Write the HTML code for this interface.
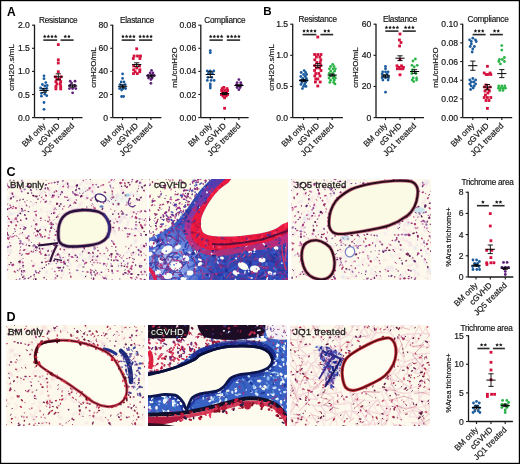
<!DOCTYPE html>
<html><head><meta charset="utf-8"><style>
html,body{margin:0;padding:0;background:#fff;}
svg{display:block;will-change:transform;}
text{font-family:"Liberation Sans", sans-serif;}
.ch text{stroke:#151515;stroke-width:0.18px;}
</style></head><body>
<svg width="520" height="464" viewBox="0 0 520 464">
<rect x="0" y="0" width="520" height="464" fill="#fff"/>
<clipPath id="clc1"><rect x="7" y="179" width="140" height="101"/></clipPath>
<clipPath id="clc2"><rect x="149" y="179" width="139" height="101"/></clipPath>
<clipPath id="clc3"><rect x="291" y="179" width="140" height="101"/></clipPath>
<clipPath id="cld1"><rect x="6" y="325" width="139" height="101"/></clipPath>
<clipPath id="cld2"><rect x="148" y="325" width="139" height="101"/></clipPath>
<clipPath id="cld3"><rect x="290" y="325" width="140" height="101"/></clipPath>
<g clip-path="url(#clc1)">
<rect x="7" y="179" width="140" height="101" fill="#fcf9ec"/>
<path d="M136.4 226.0l-1.0 2.3M69.6 198.3l0.7 2.0M137.1 277.7l-2.4 1.2M81.9 182.7l-1.2 1.7M44.7 226.8l-3.6 0.7M81.1 265.0l-2.7 1.8M51.2 210.8l-3.7 1.4M83.1 250.2l3.1 0.2M8.9 249.8l-1.6 1.7M69.6 262.0l1.1 3.1M65.2 257.0l-0.2 3.6M84.8 187.8l1.6 2.7M25.4 242.7l-1.9 1.1M128.3 221.6l-0.7 3.2M128.7 251.0l-3.0 2.5M86.6 195.6l-0.3 1.8M117.1 258.9l-2.4 1.2M114.1 229.3l0.0 1.7M143.0 247.7l-1.2 0.6M141.9 262.3l-2.5 1.8" stroke="#e6d4ea" stroke-width="2.5" stroke-linecap="round" fill="none" stroke-opacity="0.35"/>
<path d="M20.2 209.6l-1.5 3.3M33.6 203.4l-0.6 1.9M71.0 207.1l1.5 1.3M105.1 276.2l1.2 0.3M50.3 258.9l1.8 1.2M139.4 228.8l-0.4 2.3M91.7 181.8l-1.8 1.3M12.0 194.7l0.9 1.8M145.6 272.6l-0.8 1.2M136.1 240.1l-1.0 0.3M63.8 252.0l1.8 0.6M21.3 233.7l3.3 1.8M20.6 267.4l-0.5 2.2M101.6 254.4l0.4 1.0M78.3 258.6l-1.1 1.0M40.4 236.5l-1.7 0.5M81.6 202.9l-1.6 1.0M71.8 186.7l-0.4 1.1M117.7 194.2l-1.0 3.6M90.1 256.9l0.3 1.7M43.6 199.5l3.1 1.9M12.6 219.7l-2.6 0.7M111.6 227.8l2.3 3.2M56.1 250.9l-3.0 2.1M92.8 185.4l1.3 3.4M7.5 234.2l-2.3 1.4" stroke="#efcfe0" stroke-width="3.0" stroke-linecap="round" fill="none" stroke-opacity="0.35"/>
<path d="M142.1 245.0l3.4 0.7M61.1 186.5l-0.5 1.6M50.5 202.1l-0.6 1.4M46.2 271.7l0.3 1.2M131.7 278.0l0.3 3.8M141.2 248.1l-1.1 1.4M10.3 242.9l-0.4 3.6M37.2 220.0l-2.2 0.0M63.2 184.1l0.7 0.7M136.8 193.0l1.2 3.2M86.4 181.7l0.1 1.4M34.9 226.3l0.4 1.3M143.8 269.4l-0.8 1.7M43.7 246.5l1.0 1.9M11.3 250.4l-1.1 2.7" stroke="#e6d4ea" stroke-width="3.0" stroke-linecap="round" fill="none" stroke-opacity="0.35"/>
<path d="M11.2 235.9l1.2 3.3M51.6 279.9l2.1 0.3M50.4 187.9l0.0 3.1M70.1 198.9l-2.5 1.0M35.7 251.9l-3.7 0.2M131.5 192.4l-1.1 0.6M145.7 270.2l-1.9 3.3M120.3 186.7l1.3 3.6M126.8 233.7l1.6 1.9M14.1 221.1l-0.1 1.2M48.8 257.3l-1.2 3.5M18.8 262.7l0.8 2.1M82.2 251.8l-1.7 3.0M140.8 245.7l1.6 0.3M146.6 246.4l2.9 1.0M21.1 182.3l1.6 2.9M91.2 191.4l2.7 2.5M123.3 197.7l-1.7 1.4M65.8 181.4l0.6 2.8M40.9 267.2l-1.3 0.4M125.0 217.5l1.7 1.1M114.9 231.4l0.1 2.8M28.1 239.1l0.1 2.2M44.0 189.5l-1.8 2.6" stroke="#efcfe0" stroke-width="2.5" stroke-linecap="round" fill="none" stroke-opacity="0.35"/>
<path d="M125.6 179.1l0.4 1.1M58.0 254.1l2.3 2.2M95.6 255.1l-1.2 2.2M9.7 198.0l-1.1 0.7M77.1 193.3l-1.6 2.0" stroke="#e6d4ea" stroke-width="3.5" stroke-linecap="round" fill="none" stroke-opacity="0.35"/>
<path d="M34.8 247.2l-2.0 0.2M118.1 271.4l2.3 0.6M42.8 180.1l-0.2 2.8M79.8 205.6l-2.1 2.6M18.1 201.5l2.0 2.3M57.6 194.5l-1.5 0.8M134.4 271.2l-0.7 2.4" stroke="#f3d6e0" stroke-width="2.0" stroke-linecap="round" fill="none" stroke-opacity="0.35"/>
<path d="M25.8 250.4l2.9 1.8M74.6 186.9l-1.1 0.1M105.2 255.9l1.0 0.9M130.0 183.0l1.8 0.2M35.6 217.7l-1.8 0.3M107.7 268.5l-1.9 0.7" stroke="#efcfe0" stroke-width="2.0" stroke-linecap="round" fill="none" stroke-opacity="0.35"/>
<path d="M7.1 266.3l0.9 0.6M51.8 262.7l-0.7 0.9M121.0 220.0l-2.3 2.1M90.7 254.9l2.6 2.5M34.4 263.6l-0.4 1.0M119.9 229.9l1.0 0.4" stroke="#f3d6e0" stroke-width="3.5" stroke-linecap="round" fill="none" stroke-opacity="0.35"/>
<path d="M12.9 193.8l1.7 2.9M137.8 249.1l3.4 0.9M114.1 212.0l1.6 1.3M57.9 193.1l-0.5 1.7M20.6 261.4l-1.2 1.1M102.8 211.4l-1.9 0.2M90.1 255.7l-2.1 3.4M9.9 211.5l1.3 3.3M58.7 207.9l0.9 1.5" stroke="#dfe0f0" stroke-width="2.5" stroke-linecap="round" fill="none" stroke-opacity="0.35"/>
<path d="M94.1 191.8l0.5 1.3M110.6 218.6l1.7 2.2M139.2 182.1l1.0 2.7M123.3 217.6l-2.8 1.5M12.2 213.5l2.5 0.2M80.5 190.0l3.5 1.5M17.3 270.5l-1.3 1.2M58.3 190.9l-3.7 0.7M110.4 216.2l-0.7 3.4M57.3 238.4l1.4 0.9M129.4 270.4l-1.0 3.0M40.2 236.0l-3.2 1.7M136.0 241.9l-1.5 1.2M50.1 246.8l-2.2 2.0M21.4 213.9l-2.5 0.0M79.6 253.9l2.3 1.9" stroke="#dfe0f0" stroke-width="3.0" stroke-linecap="round" fill="none" stroke-opacity="0.35"/>
<path d="M15.5 196.8l3.8 1.1M106.6 275.0l0.1 1.3M67.1 182.5l0.3 3.7M49.6 193.3l-0.2 1.6M121.9 215.5l2.5 1.7M86.8 198.3l-1.7 0.5M47.0 245.2l3.2 0.3M19.6 224.9l1.6 0.3M114.1 218.8l1.8 0.8M73.0 252.8l2.8 1.8M63.3 271.0l-0.6 3.8M119.2 217.9l-1.1 0.3M99.2 258.1l-1.9 3.0M15.6 220.5l-3.1 0.4M135.7 200.8l-3.5 1.6M88.6 249.8l0.4 1.0M91.8 206.2l1.7 0.0" stroke="#f3d6e0" stroke-width="3.0" stroke-linecap="round" fill="none" stroke-opacity="0.35"/>
<path d="M92.2 187.1l-2.4 2.7M40.2 193.2l1.3 0.5M75.7 248.8l-2.3 0.6M21.7 252.8l-1.8 2.2M64.2 248.1l3.2 0.5M53.8 206.6l-0.5 1.1M18.5 206.3l3.0 0.8M122.5 190.9l-0.2 2.6M99.0 274.0l-2.9 1.3M20.8 259.0l0.4 2.7M135.4 253.5l-3.2 1.2" stroke="#efcfe0" stroke-width="3.5" stroke-linecap="round" fill="none" stroke-opacity="0.35"/>
<path d="M131.8 212.0l-1.9 1.3M130.2 217.8l0.6 1.3M82.2 258.9l3.2 0.2M80.2 264.2l-1.9 1.0M77.4 210.2l-1.8 2.2M74.0 200.3l-1.3 0.6M58.7 245.0l-2.8 1.7M76.3 256.2l0.6 1.3M68.3 260.1l-1.7 0.2M85.8 252.1l2.0 0.7M9.6 212.4l-0.4 2.3M104.6 212.2l0.5 3.6M41.2 209.2l0.4 2.3M77.2 208.8l-2.8 1.1M71.6 273.2l-3.7 0.9M128.2 201.8l2.6 1.2M12.3 192.7l-2.1 0.2" stroke="#f3d6e0" stroke-width="2.5" stroke-linecap="round" fill="none" stroke-opacity="0.35"/>
<path d="M62.1 259.0l-2.4 2.9M79.2 184.3l-3.1 1.6M26.8 248.9l-1.0 0.3M137.1 229.5l-3.2 0.9M117.8 203.0l-1.3 1.9M75.5 255.9l-1.6 1.7M7.5 220.4l0.2 2.7M46.8 250.0l0.2 2.2" stroke="#e6d4ea" stroke-width="2.0" stroke-linecap="round" fill="none" stroke-opacity="0.35"/>
<path d="M74.5 181.5l1.2 0.9M80.3 273.7l2.8 2.7M86.4 276.6l-2.1 1.6M12.2 220.7l2.0 2.9M50.9 224.6l1.0 1.2M116.7 205.2l0.1 2.5M22.8 224.6l0.8 2.8" stroke="#dfe0f0" stroke-width="2.0" stroke-linecap="round" fill="none" stroke-opacity="0.35"/>
<path d="M133.8 234.6l-2.7 0.0M119.8 263.2l-0.2 2.9M119.3 221.6l1.5 0.8M112.4 180.7l1.0 0.4M133.2 194.4l-3.2 0.5M52.4 193.5l-1.5 0.7" stroke="#dfe0f0" stroke-width="3.5" stroke-linecap="round" fill="none" stroke-opacity="0.35"/>
<path d="M48.8 263.7h0M46.3 265.1h0M44.4 267.6h0M42.3 268.4h0M39.8 271.3h0M36.8 272.7h0M34.2 274.4h0M30.9 276.6h0M28.3 278.3h0" stroke="#6a2a70" stroke-width="1.5" stroke-linecap="round" fill="none"/>
<path d="M4.9 180.5l0.5 0.8M16.1 217.8l0.0 1.1M16.4 235.7l0.6 0.8M19.4 253.4l0.9 -0.0M34.2 211.6l0.3 0.0M20.3 249.8l-0.4 1.1M39.4 195.6l0.3 -0.0M42.1 197.2l-0.9 0.4M44.9 229.6l0.9 -0.4M47.6 261.3l0.9 -0.1M58.7 270.7l1.1 -0.2M57.3 182.0l0.3 0.8M56.7 216.6l-0.5 1.0M59.2 214.1l-0.1 0.1M90.7 199.9l0.4 0.1M90.5 272.0l1.1 0.1M103.8 253.7l1.0 -0.0M106.9 248.4l0.5 0.7M111.3 256.5l0.0 0.9M115.6 200.3l0.2 0.4M119.4 256.3l0.7 0.8M125.7 246.8l0.2 0.0M137.2 190.9l0.1 0.7M145.9 234.9l0.8 -0.0M141.4 254.9l0.0 1.0M141.7 265.4l0.0 0.9M143.9 190.8l0.6 0.2M147.1 274.6l0.8 0.7M33.4 265.9l-0.1 0.8M55.2 280.0l0.1 0.2M113.4 241.9l-0.4 0.7M91.8 270.5l0.5 0.0M114.5 179.7l-0.4 0.3M94.8 207.4l0.3 1.2M105.9 265.6l0.6 0.5M36.0 202.6l0.5 0.1M55.6 209.0l0.7 0.4M33.8 275.3l0.6 0.9M12.6 184.4l0.3 1.0M108.3 250.3l-0.9 0.8" stroke="#a6397c" stroke-width="1.0" stroke-linecap="round" fill="none"/>
<path d="M6.9 183.5l0.4 0.7M8.8 186.5l-0.3 0.4M5.3 206.2l-0.1 0.2M5.1 212.8l0.6 0.9M6.6 228.8l-0.3 0.5M26.2 204.9l0.3 0.5M10.5 236.3l-0.8 0.8M21.4 191.2l0.1 0.4M24.8 201.7l0.2 0.5M36.7 250.5l0.2 -0.1M29.5 277.8l0.3 0.0M33.0 195.7l0.9 0.6M51.3 183.0l0.7 -0.2M51.2 222.8l0.3 -0.4M57.1 203.9l0.7 0.1M68.7 256.0l0.3 0.0M57.7 254.3l0.1 0.1M68.6 185.8l0.2 0.3M64.4 263.4l-0.3 0.6M72.7 247.6l-0.1 0.1M100.9 185.8l0.8 -0.4M108.8 182.4l1.0 -0.5M93.4 262.5l1.2 0.1M93.7 278.1l-0.0 0.0M102.6 277.1l0.7 0.5M112.4 193.9l0.1 0.1M113.6 196.9l0.3 0.8M117.7 204.2l0.8 0.3M115.8 246.8l0.2 0.0M112.2 279.8l0.0 0.2M113.4 196.5l0.1 0.1M118.2 204.1l0.5 1.1M127.0 266.9l-0.1 0.5M141.7 274.5l1.0 0.1M141.2 211.1l0.2 -0.0M136.8 277.1l-0.4 0.8M135.8 216.9l-0.7 0.8M96.6 260.2l-1.0 0.0M45.1 258.3l0.1 0.2M68.0 187.4l0.3 0.6M121.6 257.9l0.3 0.4M88.0 189.8l-0.5 0.5M59.5 255.0l-0.3 0.3M57.3 259.4l-0.1 0.4M115.5 259.4l1.1 0.7M54.0 209.6l0.1 0.2M48.4 189.4l-0.5 0.0M106.3 247.3l-0.1 1.1M136.8 224.8l-0.7 0.3M86.8 197.5l0.8 0.7M17.5 221.5l0.4 0.3M55.8 255.8l0.0 0.3M92.3 190.9l0.2 1.0M113.9 222.5l0.5 0.7M131.1 245.3l-0.1 0.4M90.5 273.0l0.5 0.2M108.4 200.4l-0.3 0.1M126.9 204.4l-0.9 0.8M52.0 250.5l0.0 0.2M41.7 253.7l-0.3 0.5M37.1 224.6l-0.6 0.7" stroke="#d08ab4" stroke-width="1.5" stroke-linecap="round" fill="none"/>
<path d="M8.9 187.2l0.3 0.5M5.0 192.5l-0.4 0.6M8.7 225.7l-0.2 0.3M10.4 245.8l0.3 -0.1M9.0 187.2l-0.0 0.1M20.2 188.2l0.4 0.7M18.0 185.6l-0.3 0.5M40.4 218.3l0.7 -0.0M24.0 280.0l0.1 0.4M55.1 235.2l0.9 -0.4M57.7 182.0l0.1 0.0M57.5 261.0l0.1 0.0M64.8 196.8l0.2 0.3M64.1 249.5l0.3 0.3M72.2 256.9l0.6 0.4M72.5 282.7l1.0 0.2M86.0 178.4l0.3 0.1M74.7 193.7l-0.2 0.5M72.3 282.7l-0.2 0.3M89.5 188.0l0.6 -0.1M92.9 281.4l-0.5 0.6M109.6 255.6l-0.0 0.0M103.6 263.4l1.1 0.4M113.3 196.9l-0.6 0.7M117.0 253.4l0.2 0.7M125.2 195.0l0.7 0.9M119.6 216.6l-0.7 0.5M136.5 217.6l-0.1 0.9M129.7 257.5l-0.3 0.4M129.6 271.5l-0.4 1.0M141.3 211.1l-0.2 0.2M143.8 246.3l1.1 -0.4M147.3 263.7l1.0 -0.2M36.0 214.6l0.2 1.1M93.0 184.5l-0.2 0.2M19.6 243.6l0.3 0.2M67.2 197.2l-0.4 0.0M132.8 262.3l0.4 0.2M51.3 224.5l0.2 0.1M117.0 221.6l0.5 0.2M24.8 249.7l-1.2 0.5M113.1 203.7l0.2 0.8" stroke="#a6397c" stroke-width="1.5" stroke-linecap="round" fill="none"/>
<path d="M12.4 186.2l1.1 -0.1M18.7 185.2l0.1 -0.0M18.2 185.2l0.7 0.1M33.4 195.7l0.4 0.9M26.7 218.4l0.3 0.4M36.1 247.1l0.2 0.0M31.5 260.5l0.4 0.9M25.0 271.6l0.1 0.5M45.0 191.9l0.3 0.7M34.4 232.6l-0.9 0.6M48.0 216.0l0.2 0.5M56.8 216.5l0.6 -0.6M49.4 234.4l-0.3 1.0M58.2 254.1l0.1 0.0M111.3 254.0l1.0 -0.0M99.8 274.7l0.3 0.2M111.6 253.2l0.0 0.8M124.9 264.1l0.6 0.7M128.1 228.6l1.1 0.1M131.6 181.6l-0.1 0.4M139.6 182.9l-0.2 0.5M137.3 211.8l1.0 -0.2M143.9 253.6l0.3 0.2M132.4 262.0l-0.2 0.4M140.8 234.7l-0.2 0.8M20.3 233.5l-0.9 0.7M25.8 245.6l0.7 0.0M122.5 230.5l0.5 0.4M55.8 223.4l1.0 0.8M60.9 277.5l0.9 0.7M139.4 212.1l1.0 0.2M118.3 213.4l-0.0 0.0" stroke="#d08ab4" stroke-width="1.0" stroke-linecap="round" fill="none"/>
<path d="M6.9 189.7l-0.7 1.0M7.3 216.0l0.6 0.9M10.4 221.9l0.2 0.3M9.6 242.6l0.0 0.1M8.9 255.2l-0.1 0.2M6.8 258.3l-0.4 0.7M15.7 207.8l0.0 0.9M37.5 230.8l0.5 0.6M46.3 279.5l0.6 0.5M48.3 183.7l1.1 -0.3M53.8 220.1l0.2 -0.2M52.8 223.9l-0.1 0.2M68.6 262.0l0.0 -0.0M69.8 272.5l0.1 0.7M69.5 269.2l-0.3 0.4M88.2 246.4l0.7 -0.3M108.4 271.3l0.5 -0.1M107.1 264.0l0.1 0.0M124.7 185.0l0.2 -0.1M114.9 210.6l-0.2 0.6M131.4 229.0l0.6 0.1M143.6 190.4l0.1 0.2M131.8 254.9l-0.2 0.3M145.8 255.5l0.2 0.1M147.6 221.3l0.8 -0.3M140.9 265.5l0.2 -0.0M121.4 263.0l0.1 0.9M33.4 220.2l0.6 0.6M108.3 269.4l-0.0 0.3M40.9 220.5l0.0 0.1M123.4 255.8l-0.4 0.3M82.2 208.3l0.3 1.1M64.5 206.2l-1.0 0.2M119.0 229.7l-0.1 0.5M112.3 194.8l-0.1 0.0M57.7 216.0l0.4 1.1M18.0 182.0l-0.9 0.4M93.5 206.8l-0.0 0.2M110.7 209.2l0.2 0.0M74.8 201.6l0.1 1.1M145.2 218.5l0.6 0.5M74.1 202.8l-0.7 0.3M37.5 234.3l0.0 1.0M133.2 207.1l-0.1 0.0" stroke="#b03a70" stroke-width="1.0" stroke-linecap="round" fill="none"/>
<path d="M8.6 186.4l0.3 0.8M9.0 264.5l0.8 0.1M10.2 180.1l-0.2 0.9M15.5 231.2l-0.7 0.7M18.6 238.1l0.4 0.6M12.8 281.0l0.7 -0.3M26.6 205.5l0.1 0.4M28.0 211.5l0.9 0.1M21.9 210.4l0.1 0.1M22.2 210.9l-0.4 0.4M42.6 236.5l-0.5 1.0M46.0 195.0l0.3 0.4M54.1 245.3l0.3 0.8M61.9 191.6l-0.0 0.0M72.6 191.3l0.4 0.5M65.2 263.0l0.1 -0.0M83.3 193.0l-0.6 0.5M90.7 200.0l0.2 0.4M89.3 252.5l0.8 0.9M91.4 278.1l0.0 0.2M89.0 188.0l-0.0 0.1M97.4 272.8l0.3 -0.0M111.6 270.2l0.5 -0.1M112.0 198.8l-0.7 0.8M118.3 265.9l0.1 0.0M136.1 221.5l-0.1 1.1M135.8 224.6l-0.0 0.2M141.0 251.4l0.7 0.5M134.3 259.2l-0.3 0.7M130.4 268.2l-0.3 0.9M135.4 279.6l-0.2 0.3M138.3 199.8l-0.3 0.5M145.8 234.5l1.1 -0.1M140.9 265.5l0.0 0.7M139.4 266.4l0.7 1.2M103.0 213.2l1.2 0.4M124.6 272.7l-0.0 0.0M119.7 279.0l0.2 0.0M34.1 278.6l-0.7 0.7M51.5 213.3l-0.1 0.6M68.7 200.1l-1.3 0.3M77.1 187.0l-0.4 0.3M22.8 266.7l0.3 0.6M86.5 206.9l0.5 0.2M95.1 273.9l-0.1 1.1M84.1 267.0l-1.3 0.0M69.4 206.3l-0.9 0.8" stroke="#6a2a70" stroke-width="1.0" stroke-linecap="round" fill="none"/>
<path d="M12.1 193.1l0.5 1.1M11.0 221.7l0.5 1.0M7.1 232.4l0.2 1.0M5.2 248.1l0.7 -0.2M4.1 281.4l0.4 0.0M10.5 281.7l0.8 0.0M21.6 270.7l0.2 1.1M16.2 280.1l0.3 -0.1M42.2 248.7l0.5 0.1M36.3 247.5l-0.2 0.2M44.1 277.6l0.1 0.1M47.6 187.8l0.4 0.6M46.0 195.4l-0.2 0.1M38.1 199.0l-0.3 0.1M57.3 254.8l0.1 -0.0M45.5 254.4l-0.5 1.0M53.9 212.4l-0.3 0.9M48.2 238.0l-0.0 0.1M71.3 256.7l0.3 0.0M70.2 205.3l0.3 -0.1M75.3 203.1l0.6 -0.1M84.1 247.6l0.2 1.1M92.7 259.7l-0.5 0.5M111.6 265.4l0.0 0.0M112.1 270.6l0.1 1.0M112.6 227.5l1.1 0.0M118.9 228.1l0.3 0.0M114.0 260.2l-0.3 0.5M121.4 265.7l0.4 0.0M135.9 182.0l0.8 0.1M129.9 184.6l-0.3 0.4M127.3 186.7l-0.6 0.8M130.2 203.4l0.1 0.2M132.7 178.2l-0.3 1.1M135.6 217.0l0.4 0.8M139.9 182.3l-0.1 0.3M143.9 190.4l-0.1 0.1M143.8 245.6l0.5 1.0M144.8 271.6l0.2 0.4M149.9 199.8l-0.9 0.6M105.3 278.1l-1.3 0.3M20.6 220.1l0.3 0.2M36.5 223.7l-0.7 0.7M145.9 243.6l0.1 0.0M139.3 199.5l0.1 0.8M137.5 180.9l-0.9 0.4M123.0 274.1l0.6 0.4M98.0 250.6l0.1 0.1M104.3 192.1l1.2 0.4M27.5 237.8l-0.0 0.8M92.8 252.3l0.3 1.1M46.2 201.4l-1.0 0.7M93.6 278.3l-0.1 1.2M144.7 211.0l1.0 0.4M118.5 213.9l0.1 0.1M48.2 250.5l-0.2 0.8M11.0 207.2l-0.2 0.3" stroke="#8a2a6e" stroke-width="1.5" stroke-linecap="round" fill="none"/>
<path d="M12.9 196.6l0.4 0.8M7.4 269.8l-0.5 0.8M25.9 186.1l0.7 0.1M23.2 272.3l0.1 0.1M31.1 242.1l0.6 0.6M20.9 246.5l-0.4 1.0M37.5 244.5l-0.0 0.1M34.3 249.3l-0.6 0.5M50.5 201.3l0.1 0.1M51.0 227.2l0.5 -0.2M55.2 207.8l-0.4 1.1M62.0 246.8l0.2 0.0M68.1 186.1l0.1 1.0M64.9 263.5l-0.6 0.6M79.7 192.9l0.2 0.6M80.9 196.1l0.3 0.9M92.2 203.5l0.5 0.9M84.5 247.2l0.1 0.1M110.8 187.5l0.2 0.6M131.6 181.4l0.8 -0.3M109.7 201.3l-0.5 0.6M116.9 253.5l0.8 0.3M117.7 253.3l-0.2 0.5M130.8 202.9l-0.7 0.9M142.0 219.0l0.1 0.0M140.7 251.2l0.3 0.3M140.5 197.1l-0.4 0.5M54.3 239.7l0.5 0.9M112.3 273.0l0.9 0.2M31.8 226.2l-0.4 0.1M84.5 263.3l-0.1 1.1M36.7 189.3l0.0 0.5M111.0 263.6l0.1 0.5M52.2 268.8l-0.0 0.1M126.5 202.2l0.4 0.3M31.0 201.8l-0.2 0.0M93.0 197.1l-0.5 1.2" stroke="#9a6ab0" stroke-width="1.0" stroke-linecap="round" fill="none"/>
<path d="M16.5 201.0l1.0 -0.3M14.5 228.6l0.5 1.0M8.1 238.5l1.1 -0.4M12.2 265.2l0.8 0.1M7.6 203.9l-0.7 0.8M22.3 243.8l0.3 0.1M28.8 253.3l0.6 -0.2M32.8 252.0l0.7 -0.2M51.3 227.3l-0.2 0.5M66.4 281.9l0.1 0.0M67.2 265.7l0.5 0.6M90.5 272.2l0.1 0.7M90.4 261.8l0.2 0.0M92.1 264.5l0.5 0.7M95.5 275.5l-0.1 0.2M113.5 243.8l0.5 0.9M110.8 253.7l-0.1 0.1M115.8 250.4l0.2 0.8M119.9 255.0l0.4 0.1M144.5 279.3l0.8 0.3M142.5 176.7l-0.1 0.2M141.9 227.2l0.4 0.9M63.3 257.5l-0.5 0.1M17.2 270.2l1.0 0.6M27.4 186.6l1.3 0.1M36.0 250.1l-0.8 0.7M53.6 224.5l-1.1 0.3M140.6 233.6l0.8 0.4M76.3 199.6l0.3 0.7M87.7 197.9l-0.6 0.6M20.0 268.4l-0.5 0.8M20.7 242.3l0.4 1.2M128.9 248.0l-0.3 0.9M22.5 232.3l-0.3 0.8M121.0 211.5l-0.5 0.5M17.2 221.1l0.3 0.8M23.9 275.8l-0.1 1.2" stroke="#8a2a6e" stroke-width="1.0" stroke-linecap="round" fill="none"/>
<path d="M19.4 200.2l1.0 -0.3M22.8 199.4l0.8 -0.2M13.6 180.2l0.6 0.7M16.6 182.8l0.1 0.1M13.6 196.5l-0.2 0.3M13.3 233.5l-0.4 0.4M51.0 222.8l1.1 0.5M45.7 255.2l1.1 -0.0M42.1 262.2l-0.2 0.4M55.6 248.4l0.1 0.3M57.2 261.1l0.5 1.0M57.0 217.1l-0.5 0.7M76.4 260.4l0.9 0.7M78.8 188.4l0.2 0.5M86.0 191.1l-0.2 0.2M82.9 251.1l-0.3 0.9M90.3 179.1l-0.0 0.3M95.5 270.0l0.6 0.9M121.7 210.7l0.5 1.0M115.7 246.9l0.1 0.5M138.3 188.7l-0.0 0.1M149.8 192.8l0.7 0.2M146.7 275.0l0.4 0.7M93.8 247.0l1.3 0.1M22.9 258.7l-0.2 0.2M132.5 258.1l0.8 0.8M125.2 269.7l-0.3 0.5M45.3 230.1l0.7 0.5M93.3 256.3l-0.6 0.4M22.3 254.8l-0.8 0.4M85.8 276.0l-0.4 0.8M39.8 249.7l0.5 0.4M37.1 195.9l-0.1 1.0M89.0 245.5l-1.2 0.2" stroke="#5a1a50" stroke-width="1.0" stroke-linecap="round" fill="none"/>
<path d="M9.9 205.2l0.4 0.2M8.8 208.6l0.8 -0.1M12.5 208.6l0.4 -0.0M12.2 236.9l1.1 -0.4M8.5 238.5l0.2 0.7M11.0 177.1l0.7 0.8M23.2 177.1l0.3 0.4M26.2 218.7l0.1 -0.0M35.5 279.2l0.0 0.0M42.3 236.9l0.0 0.0M36.7 231.1l-0.1 0.0M48.6 238.3l0.9 -0.4M54.6 271.6l0.4 -0.1M54.7 212.5l-0.3 0.9M50.5 223.1l-0.4 1.1M50.1 230.8l-0.3 1.0M60.7 262.1l0.9 0.3M55.3 277.9l0.5 0.2M62.7 208.8l-0.1 0.2M71.8 256.6l0.4 0.4M77.5 195.1l0.6 0.2M81.5 195.6l0.9 0.3M74.9 193.7l0.1 1.0M83.5 180.5l-0.2 0.1M99.9 253.6l0.4 -0.0M97.4 262.8l0.2 0.0M97.4 272.9l-0.6 0.9M111.8 179.6l-0.6 0.6M117.4 254.0l0.6 0.8M117.1 270.9l0.8 0.2M121.7 182.7l-0.1 0.3M123.3 213.4l0.1 -0.0M133.4 212.5l0.3 -0.0M133.5 212.1l0.1 0.1M132.3 216.3l-0.2 0.5M144.2 220.2l0.2 0.1M140.4 278.8l1.0 0.3M147.1 178.4l0.4 0.5M33.9 265.5l-1.3 0.5M90.6 269.6l0.3 0.5M89.6 188.0l-0.1 0.9M85.3 262.5l-0.1 0.9M53.2 196.8l-1.3 0.4M35.6 235.4l0.5 0.6M58.4 196.8l0.4 0.2M110.1 224.9l-0.6 0.7M136.3 213.7l0.2 0.3M36.4 211.2l-0.8 0.4M49.3 217.4l-0.2 0.3M103.6 202.7l0.0 0.5M14.7 235.8l0.0 0.0" stroke="#c0589a" stroke-width="1.5" stroke-linecap="round" fill="none"/>
<path d="M13.2 206.5l0.2 0.1M15.4 207.7l0.8 0.5M8.7 218.5l0.4 0.7M10.9 198.4l-0.0 0.0M20.5 228.6l0.0 0.0M8.0 237.9l-0.5 0.5M26.0 253.7l1.1 -0.0M27.6 183.5l0.6 1.0M24.9 210.5l0.2 0.0M15.5 218.5l-0.4 0.5M35.1 228.7l0.2 0.2M26.0 238.0l0.3 0.3M29.1 240.0l0.0 0.0M47.7 221.3l0.7 0.3M39.7 233.7l0.4 0.4M31.5 251.2l-0.3 0.3M28.7 253.7l-0.6 0.5M39.5 251.9l1.0 0.4M38.5 272.7l0.4 0.3M49.7 220.0l0.0 0.1M45.5 261.9l0.8 -0.1M54.4 192.0l-0.1 0.2M56.8 203.3l0.6 0.5M53.6 245.0l1.1 0.2M60.4 248.9l-0.2 0.5M70.7 276.3l0.2 0.8M87.0 272.1l1.0 0.0M72.3 282.7l0.0 0.0M84.0 247.2l0.6 -0.2M92.3 245.3l0.4 -0.2M86.5 262.4l-0.1 0.4M103.0 185.0l0.5 -0.2M112.1 190.9l0.3 0.9M127.6 236.6l0.3 0.1M127.1 266.3l0.4 0.5M125.4 282.1l0.2 0.3M123.0 179.4l-0.2 0.8M124.8 228.3l1.2 0.1M134.6 235.7l1.0 -0.1M128.2 270.5l0.1 1.0M128.0 274.0l0.0 0.1M135.9 217.6l0.7 0.2M129.9 233.8l-0.5 0.6M142.0 179.1l-0.0 0.0M147.3 221.2l0.9 0.7M141.2 271.4l0.0 1.1M149.2 277.3l0.7 0.6M144.9 259.5l-0.3 0.6M39.4 243.1l0.4 1.0M56.2 190.9l0.4 0.4M113.6 243.7l0.9 0.4M124.7 182.8l0.4 0.7M130.3 198.4l-1.0 0.1M130.7 277.6l1.1 0.4M63.5 186.2l-0.4 0.4M19.2 261.9l0.8 0.7M14.4 271.4l0.7 0.6M64.1 261.2l-0.7 1.2M98.6 195.8l-1.2 0.1M41.1 235.0l-0.3 1.0M130.9 268.2l0.9 1.0M45.0 236.2l-0.2 0.4" stroke="#b03a70" stroke-width="1.5" stroke-linecap="round" fill="none"/>
<path d="M6.1 209.3l1.1 -0.1M37.3 230.8l0.8 0.8M118.6 203.8l0.0 0.0M122.6 213.4l-0.3 0.5" stroke="#5a1a50" stroke-width="2.0" stroke-linecap="round" fill="none"/>
<path d="M16.0 208.0l0.3 -0.0M11.1 221.9l-0.1 0.1M7.6 269.4l0.0 0.1M26.4 244.4l0.2 0.0M44.9 220.4l0.7 0.3M46.2 195.9l0.0 0.8M49.1 190.4l0.0 0.0M53.9 228.8l0.8 0.8M61.9 270.8l-0.4 0.5M69.0 259.2l-0.0 0.0M90.9 200.3l0.9 -0.2M76.5 260.6l-0.5 0.6M97.2 247.2l0.1 0.3M112.2 227.6l0.0 0.1M111.6 246.4l0.6 0.1M115.7 219.0l-0.0 0.0M127.9 236.5l0.5 -0.1M138.8 185.9l-0.1 0.3M133.6 212.4l0.9 -0.2M147.6 221.5l1.1 0.4M135.9 247.0l0.6 0.6M136.5 246.8l-0.2 0.3M136.3 277.3l0.8 0.3M141.7 227.6l0.0 0.0M142.2 228.0l-0.2 1.0M148.9 257.0l0.9 0.5M131.0 253.1l-0.0 0.0M127.2 258.5l-0.8 0.0M29.3 206.6l0.0 0.5M133.3 195.1l0.2 1.3M40.7 253.4l-0.2 0.8M91.2 205.4l0.4 0.2M112.9 188.0l0.8 0.0M27.0 200.4l0.3 0.3M55.9 274.5l-0.2 0.1M111.5 197.0l-0.6 1.2M23.8 226.6l0.6 0.0M58.1 266.9l-1.2 0.5M91.4 198.4l-0.2 0.1M51.7 251.5l-0.3 0.3M43.2 199.4l0.6 0.1M57.4 184.2l0.1 0.3M41.0 201.5l-0.6 0.5M46.3 180.4l-0.2 0.2" stroke="#c0589a" stroke-width="1.0" stroke-linecap="round" fill="none"/>
<path d="M6.2 228.3l0.2 0.8M29.4 186.6l0.6 0.1M16.0 218.3l0.3 0.7M22.8 262.5l0.0 0.1M53.3 195.5l0.8 -0.0M94.6 208.6l0.0 0.0M115.9 256.8l-0.0 0.1M131.9 265.9l-0.4 1.0" stroke="#c0589a" stroke-width="2.0" stroke-linecap="round" fill="none"/>
<path d="M7.9 234.7l0.2 0.7M13.7 280.9l0.5 1.0M30.7 189.6l0.4 0.9M31.6 193.0l0.0 0.0M24.7 214.7l0.4 0.7M26.2 218.3l0.3 0.6M18.0 215.3l-0.5 0.6M23.6 228.9l0.9 0.1M33.1 245.9l0.0 0.0M39.3 248.2l0.3 0.1M54.5 182.5l0.4 -0.1M45.3 188.0l0.0 0.7M41.6 262.5l0.6 -0.1M60.4 204.0l0.6 0.1M64.5 263.0l0.8 0.9M60.2 267.5l0.2 0.3M57.6 275.7l-0.4 0.4M67.6 183.2l0.1 1.1M57.9 181.6l-0.2 0.2M61.8 191.6l0.6 0.9M60.5 194.5l-0.0 0.1M69.1 254.2l0.2 0.2M75.2 255.4l0.5 -0.1M63.5 267.2l-0.2 0.5M76.2 189.5l-0.4 1.1M77.2 185.1l0.1 0.4M93.9 271.9l0.5 0.0M98.0 187.1l0.5 -0.2M97.8 256.1l-0.8 0.7M101.3 272.3l0.3 -0.0M107.1 219.0l0.5 0.4M110.3 220.8l0.1 0.4M112.5 282.8l0.0 0.2M124.9 272.7l1.1 0.3M123.4 192.4l-0.7 0.9M141.8 186.9l0.5 1.0M138.3 249.9l0.6 0.6M133.4 252.4l-0.3 0.4M149.8 180.8l0.1 0.2M144.4 279.7l-0.4 0.6M102.6 208.3l-0.3 1.1M135.6 264.9l0.0 0.4M23.7 270.7l0.6 0.1M141.2 197.4l-0.4 0.5M77.2 257.0l0.2 0.3M23.4 265.4l-0.4 0.1M108.2 258.9l0.0 0.0M68.0 260.1l-0.1 0.1M117.2 260.3l0.7 0.4M35.9 246.7l0.2 0.3M139.4 265.8l0.4 0.2M40.1 229.6l-0.4 0.5M79.5 188.5l-0.3 0.2M76.3 194.8l-0.7 0.2" stroke="#6a2a70" stroke-width="1.5" stroke-linecap="round" fill="none"/>
<path d="M7.3 247.2l0.9 -0.3M20.3 240.9l0.2 0.3M34.2 245.0l0.6 0.6M28.7 236.1l-0.3 0.2M61.9 270.4l0.1 0.3M61.7 192.2l-0.1 0.3" stroke="#9a6ab0" stroke-width="2.0" stroke-linecap="round" fill="none"/>
<path d="M12.9 280.8l0.6 0.0M19.1 261.7l1.0 -0.6M13.0 281.3l0.7 1.0M27.8 193.1l0.4 0.1M20.5 213.2l-0.3 0.3M28.9 245.6l0.7 0.2M22.6 277.2l0.3 0.0M32.9 195.5l0.8 -0.0M35.8 278.8l-0.0 0.9M35.6 271.0l0.0 0.0M45.5 184.9l0.8 -0.2M52.6 195.4l0.2 0.3M53.8 260.8l0.7 -0.1M59.4 206.0l0.3 0.2M56.4 231.4l0.1 0.1M58.0 254.1l-0.1 0.6M57.1 203.5l-0.3 0.7M72.5 247.2l0.1 0.1M66.2 281.6l0.0 0.0M82.6 177.6l0.1 0.0M76.8 185.4l-0.2 0.5M77.3 185.0l-0.9 0.7M81.4 195.9l-0.8 0.8M92.7 281.0l0.1 0.6M111.0 254.2l0.5 0.7M111.6 254.1l0.4 0.0M111.4 260.1l0.0 0.0M121.6 186.3l0.0 -0.0M128.2 182.8l0.5 -0.2M112.9 214.1l-0.1 0.2M111.7 266.2l0.6 0.0M124.2 266.3l0.4 0.0M137.9 274.7l0.8 0.1M139.4 222.4l0.1 0.2M142.3 227.1l0.5 0.9M142.1 227.4l-0.1 0.1M144.1 231.5l0.0 0.1M145.7 234.8l0.1 0.3M145.3 185.1l-1.1 0.7M11.2 198.0l-0.5 0.8M59.6 267.8l-1.3 0.1M10.9 262.6l0.1 0.2M35.5 196.2l0.7 0.5M56.2 244.9l-1.2 0.2M21.8 208.7l0.3 0.4M25.7 227.7l-0.8 0.2M125.5 186.1l-0.5 0.0M136.7 198.8l0.5 0.6" stroke="#5a1a50" stroke-width="1.5" stroke-linecap="round" fill="none"/>
<path d="M21.6 191.1l0.3 0.5M22.8 244.0l0.1 0.1M21.5 274.2l0.1 0.7M19.5 279.1l0.4 -0.2M13.5 281.0l-0.0 0.3M22.1 180.4l-0.3 0.5M25.2 189.2l-0.9 0.5M22.4 211.0l0.6 0.1M35.6 270.9l-0.0 1.0M57.5 182.1l0.8 -0.2M48.8 255.1l0.4 -0.0M57.6 245.2l0.2 0.0M59.7 257.0l0.7 0.8M72.0 282.4l0.2 1.1M82.8 271.5l0.1 0.0M86.8 178.2l-0.7 0.6M91.5 274.6l0.1 0.5M87.3 282.0l0.5 -0.1M105.9 278.6l0.5 0.4M110.2 185.2l0.3 1.0M111.7 240.7l0.4 0.7M117.2 254.2l0.8 0.0M109.1 280.6l0.1 0.1M114.4 177.5l-0.3 0.3M123.2 213.5l0.3 0.5M125.0 228.0l0.9 0.0M111.2 265.9l-0.2 0.3M123.6 260.9l0.2 0.3M140.2 182.8l0.6 0.1M126.1 214.7l0.9 0.2M123.3 213.7l-0.8 0.6M135.3 228.6l1.0 0.1M127.9 263.0l-0.3 1.0M139.7 182.9l0.2 0.4M137.8 199.9l0.2 -0.0M139.1 218.7l0.8 0.3M141.2 235.4l0.2 -0.0M149.1 185.8l-0.4 0.5M148.5 234.6l0.2 -0.0M146.6 245.1l0.4 -0.1M103.6 264.6l0.0 0.1M95.3 248.8l-1.3 0.1M82.7 260.3l0.9 0.8M127.4 233.8l1.0 0.4M72.7 192.8l1.0 0.3M138.7 254.3l0.1 0.8M24.4 228.3l0.5 0.6M7.4 185.4l0.2 0.4M63.3 180.8l-0.8 0.2M76.6 270.2l1.2 0.2M96.0 184.5l0.4 0.2M56.3 263.5l-0.0 0.1M141.5 266.5l-0.5 0.5M25.4 278.4l-0.9 0.2" stroke="#9a6ab0" stroke-width="1.5" stroke-linecap="round" fill="none"/>
<path d="M16.1 225.2l-0.0 0.2M140.8 225.1l0.6 0.9M140.6 251.8l0.0 0.1" stroke="#b03a70" stroke-width="2.0" stroke-linecap="round" fill="none"/>
<path d="M12.3 265.1l0.9 -0.5M120.2 182.9l0.2 0.5" stroke="#a6397c" stroke-width="2.0" stroke-linecap="round" fill="none"/>
<path d="M36.0 247.2l1.0 0.2M51.4 227.5l-0.3 0.6M131.1 273.9l0.7 0.0" stroke="#6a2a70" stroke-width="2.0" stroke-linecap="round" fill="none"/>
<path d="M88.7 252.9l-0.0 0.1" stroke="#8a2a6e" stroke-width="2.0" stroke-linecap="round" fill="none"/>
<path d="M100.1 263.2l0.0 0.0M145.3 224.6l-0.5 0.6" stroke="#d08ab4" stroke-width="2.0" stroke-linecap="round" fill="none"/>
<ellipse cx="112" cy="199" rx="18" ry="5" fill="#c0e0ec" opacity="0.18"/>
<ellipse cx="127.5" cy="195" rx="2.5" ry="1.5" fill="#6ab0d8" opacity="0.6"/>
<ellipse cx="100.6" cy="198" rx="5.6" ry="3.6" fill="#fdfcf0" stroke="#4a2a7a" stroke-width="1.5" transform="rotate(22 100.6 198)"/>
<path d="M95.5 196 Q95 200 98 202" fill="none" stroke="#3a1a5a" stroke-width="1.2"/>
<path d="M130 198.5 Q126.5 203 130 206 Q133.5 208 135.5 205" fill="none" stroke="#6a3a8a" stroke-width="1.3"/>
<ellipse cx="101.5" cy="206.5" rx="2" ry="1.3" fill="#3a6ab0" opacity="0.8"/>
<path d="M58 243 Q48 244.5 38 245.5" fill="none" stroke="#2a1038" stroke-width="2"/>
<path d="M57 245 Q53 252 50 262" fill="none" stroke="#3a1440" stroke-width="2.2"/>
<path d="M54 259 Q58 259.5 62 260.5" fill="none" stroke="#3a1d4a" stroke-width="1.4"/>
<path d="M58.3 233.0C58.3 230.1 58.5 227.2 59.3 224.5C60.1 221.8 61.2 219.1 63.0 217.0C64.8 214.9 67.2 213.3 70.0 212.2C72.8 211.1 76.7 210.5 80.0 210.2C83.3 209.9 86.8 209.9 90.0 210.2C93.2 210.5 96.4 210.9 99.0 212.0C101.6 213.1 103.7 214.3 105.5 216.8C107.3 219.3 109.6 223.6 109.8 227.0C110.0 230.4 108.3 234.9 106.8 237.5C105.2 240.1 103.3 241.2 100.5 242.5C97.7 243.8 93.9 244.6 90.0 245.3C86.1 246.0 81.0 246.4 77.0 246.5C73.0 246.6 68.9 246.8 66.0 246.0C63.1 245.2 60.8 244.2 59.5 242.0C58.2 239.8 58.3 235.9 58.3 233.0Z" fill="#fafbe2" stroke="#8c2a6c" stroke-width="4" stroke-opacity="0.45"/>
<path d="M58.3 233.0C58.3 230.1 58.5 227.2 59.3 224.5C60.1 221.8 61.2 219.1 63.0 217.0C64.8 214.9 67.2 213.3 70.0 212.2C72.8 211.1 76.7 210.5 80.0 210.2C83.3 209.9 86.8 209.9 90.0 210.2C93.2 210.5 96.4 210.9 99.0 212.0C101.6 213.1 103.7 214.3 105.5 216.8C107.3 219.3 109.6 223.6 109.8 227.0C110.0 230.4 108.3 234.9 106.8 237.5C105.2 240.1 103.3 241.2 100.5 242.5C97.7 243.8 93.9 244.6 90.0 245.3C86.1 246.0 81.0 246.4 77.0 246.5C73.0 246.6 68.9 246.8 66.0 246.0C63.1 245.2 60.8 244.2 59.5 242.0C58.2 239.8 58.3 235.9 58.3 233.0Z" fill="none" stroke="#24103c" stroke-width="2.4"/>
<path d="M104 214 Q112 224 108 238" fill="none" stroke="#33308a" stroke-width="2.4" opacity="0.8"/>
<text x="10" y="188.3" font-size="9.6" fill="#1e1e1e" stroke="#1e1e1e" stroke-width="0.3" letter-spacing="-0.1">BM only</text>
</g>
<g clip-path="url(#clc2)">
<rect x="149" y="179" width="139" height="101" fill="#fcfce8"/>
<path d="M159.5 185.2l1.4 0.4M149.9 185.2l-1.1 0.0M161.2 193.6l-0.3 1.2M155.6 223.3l0.7 0.2M182.1 214.0l0.2 0.1M153.2 231.8l-0.0 0.5M171.0 197.1l-0.1 0.3M147.7 208.7l-0.7 0.5M152.8 201.0l-0.5 1.2M165.0 198.6l0.0 0.0" stroke="#7a4aa0" stroke-width="1.5" stroke-linecap="round" fill="none"/>
<path d="M195.2 180.3l0.5 0.3M194.6 189.1l0.6 0.2M189.1 204.4l-1.4 0.8M203.1 183.7l0.3 0.4M188.8 201.7l-0.9 0.2M155.0 200.8l-1.7 0.2M195.1 195.7l-0.2 1.2M155.1 183.3l-0.0 0.0M155.2 213.7l-0.6 0.1M159.5 207.6l0.5 0.4M150.3 196.6l-1.1 0.3M158.2 209.8l0.6 0.5M166.8 177.1l-0.2 1.5M163.5 204.3l-1.1 0.3M169.0 209.3l-0.2 1.5M180.0 202.6l-0.8 1.2M152.5 181.7l0.0 0.9M177.3 208.0l0.6 0.2M166.8 220.1l0.1 0.3M148.0 198.9l0.2 0.6M198.4 182.1l-1.1 0.2" stroke="#a6397c" stroke-width="1.5" stroke-linecap="round" fill="none"/>
<path d="M188.6 194.6l-1.4 0.2M176.1 183.2l0.2 0.7M157.9 196.3l0.8 1.2M153.4 235.2l-0.4 1.0M150.8 226.4l0.2 0.4M152.9 201.1l0.3 0.4M187.4 203.9l0.0 0.9M179.6 180.1l-0.3 0.7M169.2 206.6l0.3 1.5M152.2 200.2l-0.1 1.1M149.2 224.9l-0.1 0.7M192.4 177.2l0.2 0.1" stroke="#6a2a70" stroke-width="1.0" stroke-linecap="round" fill="none"/>
<path d="M166.0 195.4l-0.0 0.1M179.4 181.5l-1.2 0.8M161.8 209.1l-0.2 0.2M170.7 202.4l-0.0 1.0M189.9 197.9l0.3 0.4M171.9 178.2l-1.2 0.6M155.8 217.3l-0.1 0.1M182.7 181.3l0.4 0.5M175.6 191.5l-0.2 0.1" stroke="#7a4aa0" stroke-width="1.0" stroke-linecap="round" fill="none"/>
<path d="M175.5 194.1l-0.4 0.6M170.7 199.3l0.8 0.2M172.5 179.8l0.4 0.2M175.7 187.3l-0.6 0.2M164.5 185.3l-0.9 1.4M169.7 187.6l0.2 0.6M183.5 194.0l-1.4 0.5M182.8 211.7l0.1 0.4M147.6 194.5l-0.5 0.6M169.3 221.1l-0.3 0.3M149.5 178.5l-0.7 1.0M180.4 210.3l1.2 0.6M156.8 228.4l-0.7 1.2M175.0 216.5l0.3 1.5M149.2 209.5l0.6 1.4" stroke="#c0589a" stroke-width="1.5" stroke-linecap="round" fill="none"/>
<path d="M167.9 202.4l-0.2 1.0M211.1 178.2l0.1 0.0M163.1 214.8l1.1 1.3M148.7 197.8l0.0 0.2M190.2 197.3l-0.4 0.8M148.5 225.1l0.1 0.4M160.5 204.7l-0.9 0.6M197.9 177.8l1.3 1.1M183.2 182.9l1.5 0.9" stroke="#b03a70" stroke-width="1.0" stroke-linecap="round" fill="none"/>
<path d="M181.8 204.2l0.3 0.0M160.7 224.2l0.2 0.1M183.3 210.1l0.5 0.1M160.0 204.6l1.0 0.7M161.2 223.8l-1.1 1.1M195.0 194.8l0.3 0.1M183.6 187.8l0.7 0.2M158.3 178.3l-0.3 0.7M210.5 178.4l-0.1 0.2M167.1 221.5l1.6 0.8M158.8 183.2l-1.1 0.4M155.3 218.2l-0.7 0.2M148.9 237.4l-0.6 0.7M185.8 202.3l-0.1 0.3M150.1 183.6l0.3 0.8" stroke="#a6397c" stroke-width="1.0" stroke-linecap="round" fill="none"/>
<path d="M189.5 191.0l-0.0 0.1M176.5 213.6l-0.7 1.3M188.5 193.4l-0.7 0.0M149.1 218.7l0.7 0.7M187.1 196.2l1.1 0.6M155.5 225.7l0.7 0.5M160.9 217.4l-0.2 0.2M149.2 230.9l-0.2 1.2M192.1 194.5l0.1 0.2M185.7 206.5l-0.7 0.5" stroke="#6a2a70" stroke-width="1.5" stroke-linecap="round" fill="none"/>
<path d="M178.6 193.9l-1.6 0.4M159.8 195.9l0.0 1.4M160.6 191.4l0.2 0.1M188.4 201.3l1.3 0.4M200.2 177.7l0.8 0.1M149.7 220.1l-0.3 0.6M181.7 180.2l-1.0 0.0M150.0 195.3l0.1 0.3M186.4 199.8l1.0 1.3" stroke="#8a2a6e" stroke-width="1.0" stroke-linecap="round" fill="none"/>
<path d="M168.7 179.0l0.0 0.1M165.8 229.3l-1.6 0.8M177.2 194.5l0.0 0.2M186.8 197.6l-0.3 0.2M166.6 218.7l1.7 0.6M179.5 178.7l0.1 0.0M157.2 221.7l-0.6 0.9M165.3 184.4l0.2 1.0M166.7 212.0l-0.8 0.2M168.8 201.7l-1.6 0.1M156.9 214.2l-1.4 0.9" stroke="#8a2a6e" stroke-width="1.5" stroke-linecap="round" fill="none"/>
<path d="M177.1 206.2l-1.3 0.8M191.4 198.9l0.4 0.2M167.3 178.6l-1.4 0.9M181.3 181.7l-0.1 0.2M147.9 188.3l-0.0 1.7M199.0 188.9l0.3 0.0M170.5 198.3l-1.0 0.9M176.3 183.1l0.2 1.2M150.5 194.9l-0.1 0.1M183.0 183.1l-0.5 0.6M148.3 179.1l-0.2 0.1M171.4 219.3l0.2 1.6M151.5 233.2l-1.5 0.1M154.8 205.3l-0.3 0.0M150.8 177.3l1.0 0.2M171.5 188.8l-0.6 1.5M153.2 198.4l-0.4 0.9M192.7 189.8l0.3 1.5M154.0 220.8l0.6 0.5M187.9 205.7l0.5 0.3M166.1 225.5l-0.6 0.7M160.5 186.1l1.3 1.1" stroke="#c0589a" stroke-width="1.0" stroke-linecap="round" fill="none"/>
<path d="M154.3 234.5l-0.6 0.3M170.0 180.7l-0.0 0.3M148.2 216.1l0.7 0.8M186.5 190.1l-0.7 0.4M157.8 219.5l-0.4 0.8M152.6 204.7l-0.9 0.8M165.2 187.4l-0.2 1.3" stroke="#b03a70" stroke-width="1.5" stroke-linecap="round" fill="none"/>
<path d="M184.3 195.4l1.2 1.4M181.7 197.4l0.3 0.2M194.2 181.4l-1.7 0.7M172.4 222.5l1.3 1.5M199.9 178.5l0.9 0.6M160.2 226.7l0.9 0.2M197.3 187.7l0.4 1.8M174.5 220.5l-1.6 0.9M168.4 217.3l0.5 0.7M161.9 225.7l0.0 0.4M178.5 214.7l0.1 0.0M179.8 208.2l0.4 0.4M187.7 195.8l0.3 0.2M177.4 199.9l-1.6 0.6" stroke="#a03080" stroke-width="1.5" stroke-linecap="round" fill="none"/>
<path d="M177.4 219.9l0.7 1.0M172.0 214.5l1.3 0.9M175.9 204.9l-1.4 0.4M198.6 178.0l-0.2 0.7" stroke="#6a3aa0" stroke-width="2.0" stroke-linecap="round" fill="none"/>
<path d="M190.5 188.0l-0.2 1.6M173.7 202.8l0.2 0.1M196.5 187.4l1.0 0.6M171.2 214.7l1.3 1.3M162.5 219.7l0.4 0.2M204.7 180.1l-0.3 0.3" stroke="#a03080" stroke-width="1.0" stroke-linecap="round" fill="none"/>
<path d="M163.4 224.0l-1.7 0.3M185.3 205.0l-0.3 1.5M187.9 190.2l-0.1 0.2M179.6 211.7l-0.6 1.2M171.2 211.9l1.5 0.5M172.8 220.8l0.7 1.8M194.9 185.6l0.2 0.3M196.4 193.8l-0.3 0.7M201.5 183.0l-1.6 1.2M205.4 182.1l-0.1 0.3M196.5 182.3l-0.7 0.5" stroke="#4a4ab0" stroke-width="1.5" stroke-linecap="round" fill="none"/>
<path d="M161.9 219.3l1.6 0.2M176.5 215.2l-0.3 1.1M184.8 195.4l0.6 0.7M185.0 205.5l-1.4 1.2M209.6 179.8l0.0 0.7M185.7 193.1l-0.2 0.5M192.2 193.1l0.1 0.3" stroke="#6a3aa0" stroke-width="1.0" stroke-linecap="round" fill="none"/>
<path d="M165.7 212.5l0.2 0.2M168.6 219.5l1.0 0.1M176.6 209.3l0.1 0.5M194.9 192.0l0.4 0.2M190.2 184.2l-0.0 0.0M166.2 215.0l1.2 1.6M176.2 204.4l-1.2 1.3" stroke="#6a3aa0" stroke-width="1.5" stroke-linecap="round" fill="none"/>
<path d="M180.3 211.9l1.4 0.9M192.2 190.7l0.4 0.4M194.6 180.1l-1.7 0.2M186.0 200.4l0.4 0.2M164.6 219.7l-1.2 0.9" stroke="#4a4ab0" stroke-width="1.0" stroke-linecap="round" fill="none"/>
<path d="M172.1 223.3l1.0 1.4M184.9 190.2l-1.0 0.5M170.6 217.0l0.0 0.3M165.8 212.5l-0.8 0.8" stroke="#8a2a8a" stroke-width="2.0" stroke-linecap="round" fill="none"/>
<path d="M177.8 212.5l1.4 0.4M194.5 188.4l1.8 0.7M163.2 215.1l0.3 1.9M184.7 199.2l-1.2 0.1M207.9 177.9l0.7 0.9M190.2 189.2l-0.0 0.1M177.8 199.4l1.0 0.2" stroke="#8a2a8a" stroke-width="1.5" stroke-linecap="round" fill="none"/>
<path d="M198.0 179.8l-0.1 0.1M161.9 232.2l-1.2 0.2M179.2 207.6l-0.7 0.3M205.4 180.5l0.7 0.5" stroke="#a03080" stroke-width="2.0" stroke-linecap="round" fill="none"/>
<path d="M196.4 180.9l-0.2 0.1M185.6 210.3l0.8 0.1M172.9 204.9l0.5 0.5M192.4 181.8l0.5 1.9M183.7 206.7l0.5 0.8M183.6 210.8l-0.1 1.0" stroke="#8a2a8a" stroke-width="1.0" stroke-linecap="round" fill="none"/>
<path d="M180.7 195.3l1.5 0.7M171.5 219.9l-0.3 0.1M175.0 204.4l0.1 0.3M196.4 184.8l0.1 0.1M192.3 190.6l-0.6 0.2" stroke="#4a4ab0" stroke-width="2.0" stroke-linecap="round" fill="none"/>
<defs><radialGradient id="c2g" cx="170" cy="263" r="46" gradientUnits="userSpaceOnUse"><stop offset="0" stop-color="#c4d0f4"/><stop offset="0.5" stop-color="#6a84d8"/><stop offset="1" stop-color="#3446b0"/></radialGradient></defs>
<path d="M214.0 177.0C212.3 178.5 207.2 182.7 204.0 186.0C200.8 189.3 197.8 193.2 195.0 197.0C192.2 200.8 189.8 205.2 187.0 209.0C184.2 212.8 181.5 216.5 178.0 220.0C174.5 223.5 170.0 227.3 166.0 230.0C162.0 232.7 157.2 234.5 154.0 236.0C150.8 237.5 148.2 238.5 147.0 239.0L147 282L291 282L291 177Z" fill="url(#c2g)"/>
<path d="M147.7 241.8L152.8 241.3M147.0 249.5L152.5 248.4M156.2 246.3L152.5 248.4M154.2 252.1L154.2 258.6M155.0 262.6L159.8 261.5M160.6 234.2L156.1 239.5M160.8 244.4L158.8 248.3M161.6 254.2L163.5 253.9M161.3 276.3L161.6 281.0M165.9 230.6L172.2 231.0M165.9 230.6L165.0 234.7M164.6 244.5L171.0 245.0M167.9 265.6L165.6 269.3M165.6 269.3L161.3 276.3M171.6 256.9L177.8 257.3M175.8 236.1L177.1 240.1M175.1 243.3L171.9 249.0M175.8 263.0L171.2 267.0M176.0 264.8L183.3 265.5M174.2 277.8L181.2 278.3M180.8 219.0L181.2 223.9M181.2 223.9L186.6 227.9M179.6 226.0L178.7 231.9M182.1 257.0L186.4 258.7M181.3 262.7L176.0 264.8M182.5 275.0L184.5 278.6M189.0 213.9L189.8 220.1M186.5 262.7L188.9 267.9M190.0 210.2L193.1 212.4M189.8 220.1L192.6 222.0M189.7 243.5L194.8 244.6M189.7 243.5L187.0 249.2M191.7 247.9L194.1 253.0M189.4 272.2L194.4 272.4M196.4 201.5L192.6 207.1M194.3 211.1L199.4 210.3M196.8 232.0L195.6 235.7M196.8 232.0L200.2 235.8M195.9 257.0L199.2 261.1M198.6 266.9L199.9 269.6M194.4 272.4L199.9 269.6M198.6 275.9L198.9 279.7M201.7 191.3L202.7 196.3M202.7 196.3L199.2 199.7M200.2 235.8L197.1 239.6M199.0 243.3L200.9 248.4M202.5 273.8L198.9 279.7M198.9 279.7L205.4 278.8M207.3 188.1L210.5 192.9M203.3 190.8L202.7 196.3M206.4 196.1L212.3 197.6M207.6 257.7L208.3 263.5M212.0 239.7L216.2 245.6M211.3 246.0L216.2 245.6M213.8 185.4L218.1 187.6M216.2 257.4L216.6 260.4M216.2 257.4L221.4 263.6M223.8 180.1L221.2 185.1M221.2 185.1L224.0 184.2M219.8 270.9L223.5 274.9M224.1 254.1L229.2 252.4M233.4 240.4L235.8 239.9M232.8 249.7L229.2 252.4M231.4 257.8L238.0 257.4M228.7 261.5L233.7 262.5M235.8 239.9L240.7 244.6M234.0 244.9L240.7 244.6M237.4 249.1L235.6 252.3M234.7 270.6L240.9 269.7M239.1 254.1L238.0 257.4M247.7 265.0L253.2 267.2M250.5 237.0L251.2 240.0M251.2 240.0L250.9 244.3M252.3 249.9L248.6 254.4M251.2 258.6L258.8 257.2M251.9 273.4L248.6 279.5M248.6 279.5L254.4 281.0M257.6 241.7L260.8 239.3M257.6 241.7L254.4 244.3M257.8 247.9L254.8 253.7M254.8 253.7L259.4 252.4M255.8 263.6L256.7 265.0M256.7 265.0L259.2 271.5M257.2 275.7L254.4 281.0M263.5 249.7L259.4 252.4M263.5 249.7L265.9 252.6M259.2 271.5L261.5 275.9M269.1 232.3L263.8 235.1M263.8 235.1L268.3 238.7M263.6 270.5L268.6 269.6M270.2 260.9L271.2 265.7M270.2 260.9L266.9 265.5M268.6 269.6L267.2 276.1M277.7 232.4L281.7 230.8M276.4 240.2L283.8 240.5M275.7 261.7L271.2 265.7M279.1 243.8L284.1 247.6M281.9 256.7L281.4 262.1M281.9 256.7L285.5 263.7M281.8 275.5L285.5 280.8M284.0 243.7L289.0 244.2M286.4 256.7L285.5 263.7M288.9 273.4L285.5 280.8" stroke="#2a4ac8" stroke-width="1.5" fill="none" stroke-opacity="0.8" stroke-linecap="round"/>
<path d="M149.0 243.0L152.5 248.4M149.1 270.9L153.9 273.3M149.1 270.9L147.6 274.9M162.8 239.2L164.6 244.5M159.8 261.5L165.3 260.3M165.9 230.6L171.3 236.5M167.9 248.8L171.9 249.0M167.9 274.8L172.3 274.5M171.0 245.0L167.9 248.8M171.2 267.0L176.2 269.7M170.4 272.0L176.2 269.7M170.4 272.0L172.3 274.5M172.3 274.5L171.7 278.7M174.8 227.2L179.6 226.0M177.1 240.1L175.1 243.3M180.8 219.0L177.7 224.5M179.6 226.0L184.1 232.6M183.2 249.7L187.0 249.2M183.3 265.5L179.6 270.8M179.6 270.8L182.5 275.0M187.3 223.7L186.6 227.9M187.3 223.7L189.1 226.6M188.6 230.9L190.1 234.7M186.4 258.7L191.2 260.4M190.0 210.2L194.3 211.1M189.1 226.6L192.4 230.8M190.1 234.7L195.6 235.7M189.6 253.9L186.4 258.7M193.4 274.2L189.8 278.8M194.3 211.1L193.1 212.4M198.6 215.2L200.6 219.4M194.8 244.6L199.0 243.3M196.4 250.1L194.1 253.0M195.6 262.3L194.1 265.0M201.7 191.3L199.1 198.2M202.0 264.9L199.9 269.6M202.0 264.9L204.4 272.1M203.7 244.7L200.9 248.4M207.6 257.7L204.3 261.9M205.9 266.5L208.9 269.6M209.1 273.7L209.0 281.0M213.3 177.8L213.8 185.4M209.8 183.9L207.3 188.1M210.5 192.9L212.3 197.6M210.1 236.3L215.0 237.2M213.3 249.6L215.8 254.3M210.0 253.9L213.6 256.1M212.4 265.6L214.9 269.6M218.0 240.4L216.2 245.6M217.0 249.3L222.5 248.8M216.6 260.4L221.4 263.6M221.1 240.9L219.1 243.6M219.1 243.6L222.5 248.8M228.9 241.9L223.8 243.3M223.8 243.3L229.0 250.1M227.2 257.8L231.4 257.8M233.4 240.4L228.8 245.4M228.7 261.5L227.6 265.3M237.4 249.1L242.3 249.8M235.6 252.3L238.0 257.4M238.6 265.4L241.0 265.2M236.9 273.4L243.3 274.9M248.6 254.4L246.9 256.4M251.7 262.1L255.8 263.6M254.4 244.3L257.8 247.9M255.8 263.6L261.4 261.1M254.1 269.2L259.2 271.5M263.5 249.7L267.3 250.1M263.8 267.1L263.6 270.5M269.1 232.3L272.5 232.6M263.6 270.5L267.2 276.1M267.2 276.1L272.6 273.7M271.6 237.6L270.9 240.4M273.2 249.1L275.7 253.6M269.0 252.1L275.7 253.6M272.6 273.7L276.3 275.2M274.1 237.0L281.5 237.1M278.4 248.2L284.1 247.6M277.5 255.9L281.9 256.7M276.3 275.2L281.6 280.7M281.5 237.1L276.4 240.2M283.8 240.5L279.1 243.8M283.8 240.5L284.0 243.7M279.1 243.8L278.4 248.2M284.1 247.6L288.2 249.5M283.3 225.7L288.3 225.7M286.1 237.4L283.8 240.5M286.4 256.7L290.7 260.8M290.2 252.7L286.4 256.7" stroke="#3a5ad0" stroke-width="1.5" fill="none" stroke-opacity="0.8" stroke-linecap="round"/>
<path d="M152.8 241.3L156.1 239.5M156.2 246.3L160.8 244.4M156.1 256.5L162.2 258.7M155.8 265.4L156.0 271.7M155.8 265.4L159.7 271.4M156.7 276.7L161.3 276.3M156.7 276.7L154.0 278.3M162.8 239.2L160.8 244.4M160.8 244.4L164.6 244.5M164.1 248.0L161.6 254.2M159.8 261.5L155.8 265.4M161.6 281.0L163.3 279.5M165.0 234.7L171.3 236.5M167.5 256.5L171.6 256.9M167.9 274.8L163.3 279.5M170.4 272.0L167.9 274.8M177.7 224.5L181.2 223.9M177.8 257.3L175.8 263.0M176.2 269.7L172.3 274.5M179.2 274.5L182.5 275.0M179.2 274.5L181.2 278.3M184.1 232.6L184.9 234.2M183.2 249.7L184.4 253.2M181.3 262.7L183.3 265.5M186.3 210.0L189.0 213.9M189.0 213.9L184.4 218.2M188.9 241.7L185.8 244.0M184.4 253.2L189.6 253.9M186.5 262.7L183.3 265.5M189.8 220.1L195.7 219.1M190.8 256.9L195.6 262.3M194.3 211.1L198.6 215.2M198.6 215.2L195.7 219.1M195.7 219.1L192.6 222.0M194.1 253.0L190.8 256.9M199.4 210.3L198.6 215.2M200.8 228.3L200.9 233.1M200.9 248.4L207.3 250.0M198.3 253.8L201.6 258.2M198.3 253.8L195.9 257.0M202.0 264.9L205.9 266.5M203.3 190.8L210.5 192.9M206.1 200.1L203.0 205.5M209.8 183.9L213.8 185.4M209.8 183.9L213.5 189.3M213.6 256.1L216.2 257.4M208.9 269.6L212.5 273.4M212.5 273.4L217.0 275.0M216.8 180.5L213.8 185.4M215.0 237.2L218.0 240.4M215.0 237.2L212.0 239.7M218.0 240.4L221.1 240.9M216.2 245.6L219.1 243.6M216.2 245.6L213.3 249.6M217.0 275.0L223.5 274.9M219.1 243.6L223.8 243.3M221.0 254.9L222.2 256.7M222.2 256.7L225.3 263.5M223.5 274.9L223.8 278.4M224.0 270.1L228.4 271.5M228.4 271.5L232.3 276.1M235.8 239.9L244.0 240.1M238.6 265.4L240.9 269.7M238.9 237.0L244.4 235.5M238.9 237.0L235.8 239.9M244.0 240.1L246.3 241.1M240.7 244.6L242.3 249.8M241.9 257.5L246.9 256.4M241.0 265.2L240.9 269.7M244.4 235.5L250.5 237.0M244.4 235.5L244.0 240.1M246.1 261.0L251.7 262.1M250.5 237.0L246.3 241.1M252.3 249.9L254.8 253.7M251.6 271.0L249.0 275.0M253.7 236.2L257.6 241.7M257.2 275.7L261.5 275.9M257.2 275.7L259.8 278.4M261.9 258.2L265.9 256.3M259.8 278.4L265.8 277.7M263.5 260.3L270.2 260.9M263.6 270.5L261.5 275.9M269.0 252.1L273.9 259.2M273.9 259.2L277.5 255.9M273.9 259.2L270.2 260.9M270.2 260.9L275.7 261.7M275.9 244.5L279.1 243.8M275.7 253.6L277.5 255.9M275.7 261.7L277.5 265.3M284.1 247.6L285.0 252.1M280.7 253.3L285.0 252.1M279.1 270.0L283.8 271.1M283.8 271.1L288.9 273.4M283.8 271.1L281.8 275.5M285.5 280.8L290.5 280.5" stroke="#1e2e96" stroke-width="1.5" fill="none" stroke-opacity="0.8" stroke-linecap="round"/>
<path d="M149.0 243.0L147.0 249.5M148.8 252.6L154.2 252.1M148.8 252.6L154.2 258.6M148.8 252.6L148.5 257.0M153.5 266.9L149.1 270.9M149.1 270.9L156.0 271.7M156.1 239.5L162.8 239.2M158.8 248.3L154.2 252.1M156.1 256.5L155.0 262.6M156.0 271.7L156.7 276.7M164.1 248.0L163.5 253.9M161.6 254.2L162.2 258.7M162.2 258.7L165.3 260.3M163.5 253.9L171.0 253.4M167.5 256.5L165.3 260.3M165.3 260.3L167.9 265.6M167.9 265.6L170.4 272.0M165.6 269.3L167.9 274.8M163.3 279.5L171.7 278.7M171.0 245.0L171.9 249.0M171.0 253.4L167.5 256.5M171.6 256.9L175.8 263.0M171.1 260.6L167.9 265.6M171.7 278.7L174.2 277.8M177.1 240.1L180.9 241.4M175.6 253.1L171.6 256.9M175.8 263.0L176.0 264.8M184.1 232.6L188.6 230.9M182.5 275.0L181.2 278.3M189.0 213.9L193.1 212.4M184.4 218.2L189.8 220.1M187.3 223.7L192.6 222.0M186.6 227.9L184.1 232.6M188.9 241.7L189.7 243.5M186.4 258.7L186.5 262.7M190.0 210.2L189.0 213.9M192.4 230.8L196.8 232.0M192.4 230.8L190.1 234.7M190.1 234.7L191.1 238.7M194.1 265.0L194.4 272.4M196.4 201.5L199.2 204.7M199.2 204.7L203.0 205.5M195.8 222.2L194.5 228.4M196.8 232.0L200.9 233.1M197.1 239.6L202.6 241.4M195.9 257.0L201.6 258.2M202.6 241.4L208.6 240.8M201.6 258.2L204.3 261.9M203.3 190.8L206.4 196.1M204.3 261.9L208.3 263.5M213.5 189.3L218.1 187.6M213.6 256.1L216.6 260.4M208.3 263.5L205.9 266.5M212.4 265.6L208.9 269.6M208.9 269.6L214.9 269.6M212.5 273.4L209.0 281.0M212.5 273.4L216.7 280.2M216.8 180.5L221.2 185.1M217.0 249.3L221.0 254.9M215.8 254.3L221.0 254.9M216.2 257.4L222.2 256.7M217.7 266.7L221.6 265.6M217.7 266.7L214.9 269.6M221.2 185.1L218.1 187.6M221.1 240.9L223.8 243.3M228.9 241.9L228.8 245.4M223.8 243.3L228.8 245.4M227.2 257.8L225.3 263.5M233.7 267.9L234.7 270.6M232.3 276.1L230.2 279.7M232.3 276.1L233.9 280.9M235.6 252.3L239.1 254.1M233.7 262.5L239.5 263.1M233.7 262.5L238.6 265.4M234.7 270.6L236.9 273.4M241.9 257.5L239.5 263.1M240.3 278.5L245.1 281.1M246.3 241.1L243.9 246.3M243.9 246.3L242.3 249.8M247.2 249.5L252.3 249.9M246.9 256.4L251.2 258.6M250.9 244.3L252.3 249.9M250.9 244.3L247.2 249.5M251.2 258.6L251.7 262.1M251.6 271.0L254.1 269.2M257.8 247.9L259.4 252.4M256.7 265.0L263.8 267.1M254.4 281.0L259.8 278.4M261.4 261.1L256.7 265.0M261.5 275.9L267.2 276.1M265.9 252.6L269.0 252.1M265.9 252.6L261.9 258.2M265.9 256.3L270.2 260.9M266.9 265.5L263.6 270.5M274.1 237.0L270.9 240.4M276.4 240.2L279.1 243.8M278.4 248.2L280.7 253.3M280.7 253.3L281.9 256.7M283.6 267.4L283.8 271.1M288.2 249.5L290.2 252.7M283.8 271.1L290.9 270.0" stroke="#4a3a9a" stroke-width="1.5" fill="none" stroke-opacity="0.8" stroke-linecap="round"/>
<path d="M148.5 257.0L148.4 261.2M148.8 267.6L149.1 270.9M153.9 273.3L154.0 278.3M155.3 237.2L160.6 234.2M155.3 237.2L156.1 239.5M158.8 248.3L164.1 248.0M154.2 252.1L156.1 256.5M155.0 262.6L153.5 266.9M164.1 248.0L167.9 248.8M159.7 271.4L156.7 276.7M167.9 248.8L171.0 253.4M165.6 269.3L170.4 272.0M171.0 253.4L175.6 253.1M171.2 267.0L176.0 264.8M177.7 224.5L174.8 227.2M175.6 253.1L178.4 253.7M177.8 257.3L182.1 257.0M181.2 223.9L179.6 226.0M179.6 226.0L186.6 227.9M180.9 241.4L179.4 244.4M178.4 253.7L182.1 257.0M181.3 262.7L186.5 262.7M181.2 278.3L184.5 278.6M184.9 234.2L190.1 234.7M184.4 253.2L186.4 258.7M186.4 258.7L190.8 256.9M188.9 267.9L194.1 265.0M192.6 207.1L199.2 204.7M189.1 226.6L188.6 230.9M191.1 238.7L194.8 244.6M191.7 247.9L196.4 250.1M191.2 260.4L195.6 262.3M189.4 272.2L188.2 274.8M193.4 274.2L198.6 275.9M199.2 204.7L199.4 210.3M195.7 219.1L200.6 219.4M197.1 239.6L194.8 244.6M194.8 244.6L191.7 247.9M195.6 262.3L199.2 261.1M196.4 280.4L198.9 279.7M202.6 241.4L203.7 244.7M198.3 253.8L206.1 254.1M201.6 258.2L207.6 257.7M199.2 261.1L198.6 266.9M206.4 196.1L206.1 200.1M206.1 200.1L209.8 200.7M207.3 250.0L210.0 253.9M206.1 254.1L201.6 258.2M213.3 177.8L209.8 183.9M213.5 189.3L210.5 192.9M210.0 253.9L207.6 257.7M208.3 263.5L212.4 265.6M216.8 180.5L223.8 180.1M213.8 185.4L221.2 185.1M215.8 254.3L216.2 257.4M214.9 269.6L217.0 275.0M222.5 248.8L221.0 254.9M221.4 263.6L225.3 263.5M221.4 263.6L221.6 265.6M221.6 265.6L224.0 270.1M223.5 274.9L220.8 279.6M223.8 243.3L222.5 248.8M229.0 250.1L224.1 254.1M232.8 249.7L237.4 249.1M229.2 252.4L235.6 252.3M231.4 257.8L228.7 261.5M233.7 267.9L238.6 265.4M233.7 267.9L228.4 271.5M240.7 244.6L237.4 249.1M239.5 263.1L241.0 265.2M241.0 265.2L244.0 270.3M243.9 246.3L250.9 244.3M245.9 254.4L241.9 257.5M251.6 271.0L251.9 273.4M259.1 237.3L257.6 241.7M258.9 245.6L263.5 249.7M258.9 245.6L257.8 247.9M261.4 261.1L263.8 267.1M259.2 271.5L263.6 270.5M263.8 235.1L260.8 239.3M271.6 237.6L274.1 237.0M269.9 244.7L273.2 249.1M269.0 252.1L265.9 256.3M272.6 273.7L270.2 280.3M277.7 232.4L274.1 237.0M275.9 244.5L278.4 248.2M275.9 244.5L273.2 249.1M279.1 243.8L284.0 243.7M281.9 256.7L286.4 256.7M281.8 275.5L281.6 280.7M288.0 222.5L283.3 225.7M290.7 260.8L289.2 267.0" stroke="#2a60d0" stroke-width="1.5" fill="none" stroke-opacity="0.8" stroke-linecap="round"/>
<path d="M154.2 254.8L161.8 255.7M152.0 261.7L156.9 264.9M153.1 273.1L148.0 279.2M160.2 237.7L154.8 242.1M161.8 255.7L164.9 259.1M160.3 260.9L164.9 259.1M167.7 251.8L176.9 252.5M170.6 268.8L173.0 272.0M175.5 227.7L178.5 234.3M172.1 236.7L178.3 242.2M178.3 242.2L173.8 246.2M173.8 246.2L167.7 251.8M173.0 272.0L181.5 273.0M182.3 219.5L189.3 224.0M181.7 222.7L175.5 227.7M178.5 234.3L184.6 241.2M178.5 234.3L178.3 242.2M181.6 261.1L184.6 262.4M189.3 224.0L196.0 221.7M187.0 237.5L194.4 235.7M198.7 203.6L193.5 209.9M193.5 209.9L199.2 215.9M193.5 250.0L192.3 254.9M200.6 237.9L210.4 235.9M205.7 252.6L212.6 253.5M203.3 259.5L205.7 267.0M203.3 259.5L195.8 264.5M217.9 241.5L225.6 242.6M217.9 241.5L214.0 250.1M217.9 241.5L220.9 249.6M214.0 250.1L212.6 253.5M218.9 265.2L227.5 267.1M213.8 274.1L223.3 272.0M225.6 242.6L220.9 249.6M229.0 247.3L235.6 250.4M229.0 247.3L231.9 253.5M231.9 253.5L237.3 259.3M235.6 250.4L240.0 255.6M240.0 255.6L237.3 259.3M240.9 278.2L248.2 280.3M245.2 255.7L240.6 262.4M250.6 273.8L258.0 272.3M254.7 248.5L263.0 248.9M267.4 254.7L272.6 260.0M266.6 267.6L265.8 274.1M265.8 274.1L268.8 279.8M271.2 238.3L275.3 243.8M272.7 246.8L267.4 254.7M275.7 266.6L282.7 268.3M279.8 234.1L283.6 242.3M283.6 242.3L286.9 248.9M280.3 260.3L275.7 266.6M280.2 272.2L280.3 279.2M286.9 248.9L290.7 246.6M286.9 248.9L280.0 255.8M289.8 265.1L282.8 274.6" stroke="#6a2a8a" stroke-width="1.2" fill="none" stroke-opacity="0.8" stroke-linecap="round"/>
<path d="M148.0 279.2L157.1 276.1M154.8 242.1L160.6 240.8M153.1 273.1L160.0 270.6M153.1 273.1L157.1 276.1M160.2 237.7L160.6 240.8M160.6 240.8L168.2 248.4M160.3 260.9L161.8 268.4M161.8 268.4L170.6 268.8M166.2 236.7L167.7 243.5M168.2 248.4L167.7 251.8M168.2 248.4L161.8 255.7M164.9 259.1L161.8 268.4M172.1 236.7L167.7 243.5M178.8 267.7L182.4 266.2M181.7 222.7L189.3 224.0M182.5 254.9L192.3 254.9M199.2 215.9L196.0 221.7M196.0 221.7L196.2 229.7M196.2 229.7L200.6 237.9M202.4 193.2L208.9 199.2M202.1 246.6L198.2 255.3M210.1 187.5L202.4 193.2M210.4 235.9L204.0 241.5M212.6 253.5L207.0 259.1M206.8 273.9L213.8 274.1M215.0 189.3L213.2 195.4M213.8 274.1L211.0 278.3M220.9 249.6L229.0 247.3M222.5 260.3L218.9 265.2M229.8 262.5L227.5 267.1M231.0 272.2L230.2 277.5M239.1 241.8L244.2 239.7M239.1 241.8L235.6 250.4M239.1 241.8L243.9 249.8M236.0 273.0L245.4 274.1M243.9 249.8L240.0 255.6M240.6 262.4L239.7 265.9M256.8 237.4L255.7 240.4M265.8 274.1L270.0 274.5M265.8 274.1L260.3 277.2M270.0 274.5L272.7 276.4M279.8 234.1L275.3 243.8M280.2 272.2L282.8 274.6M280.2 272.2L272.7 276.4M287.4 239.8L286.9 248.9M286.5 255.0L282.9 258.5" stroke="#8a3a9a" stroke-width="1.2" fill="none" stroke-opacity="0.8" stroke-linecap="round"/>
<path d="M154.2 254.8L152.0 261.7M156.9 264.9L161.8 268.4M157.1 276.1L162.6 279.1M161.8 255.7L160.3 260.9M169.3 231.6L166.2 236.7M170.6 268.8L178.8 267.7M170.6 268.8L167.0 273.7M167.0 273.7L162.6 279.1M171.8 225.6L175.5 227.7M175.5 227.7L184.1 231.3M171.6 259.4L181.6 261.1M181.6 261.1L182.4 266.2M185.6 213.3L192.2 219.9M188.9 230.7L187.0 237.5M188.7 239.6L193.5 250.0M195.5 201.7L198.7 203.6M196.0 221.7L188.9 230.7M193.5 258.2L195.8 264.5M195.8 264.5L205.7 267.0M195.8 264.5L194.6 272.7M205.7 267.0L211.2 266.5M202.4 273.0L206.8 273.9M202.4 273.0L203.0 278.9M207.0 259.1L205.7 267.0M220.5 179.4L215.0 189.3M218.0 254.2L215.8 261.2M225.9 255.5L231.9 253.5M229.8 262.5L237.3 259.3M231.0 272.2L226.6 278.0M239.7 265.9L236.0 273.0M243.9 249.8L251.4 249.4M255.7 240.4L261.6 243.9M251.4 249.4L254.7 248.5M259.4 261.7L261.7 258.4M258.3 266.1L266.6 267.6M258.0 272.3L254.8 280.6M271.2 238.3L269.5 239.8M281.4 227.5L285.5 237.2M283.6 242.3L275.7 247.6M280.0 255.8L280.3 260.3M280.3 279.2L288.0 278.6M282.9 258.5L290.9 262.5" stroke="#b03a80" stroke-width="1.2" fill="none" stroke-opacity="0.8" stroke-linecap="round"/>
<ellipse cx="167" cy="250" rx="6" ry="4" fill="#fbfbf6" transform="rotate(-29 167 250)"/>
<ellipse cx="176" cy="266" rx="6" ry="4.5" fill="#fbfbf6" transform="rotate(3 176 266)"/>
<ellipse cx="152" cy="244" rx="4.5" ry="3" fill="#fbfbf6" transform="rotate(15 152 244)"/>
<ellipse cx="160" cy="260" rx="4" ry="3" fill="#fbfbf6" transform="rotate(-19 160 260)"/>
<ellipse cx="168" cy="276" rx="4.5" ry="3" fill="#fbfbf6" transform="rotate(-7 168 276)"/>
<ellipse cx="186" cy="258" rx="3.5" ry="2.5" fill="#fbfbf6" transform="rotate(38 186 258)"/>
<ellipse cx="243" cy="266" rx="5.5" ry="3.5" fill="#fbfbf6" transform="rotate(29 243 266)"/>
<ellipse cx="255" cy="269" rx="5" ry="3.5" fill="#fbfbf6" transform="rotate(7 255 269)"/>
<ellipse cx="262" cy="260" rx="3.5" ry="2.4" fill="#fbfbf6" transform="rotate(0 262 260)"/>
<ellipse cx="236" cy="273" rx="3.5" ry="2.4" fill="#fbfbf6" transform="rotate(24 236 273)"/>
<ellipse cx="276" cy="248" rx="2.5" ry="1.8" fill="#fbfbf6" transform="rotate(22 276 248)"/>
<ellipse cx="200" cy="264" rx="2.5" ry="1.8" fill="#fbfbf6" transform="rotate(-27 200 264)"/>
<ellipse cx="190" cy="273" rx="3.5" ry="2.4" fill="#fbfbf6" transform="rotate(-4 190 273)"/>
<ellipse cx="270" cy="273" rx="2.5" ry="1.8" fill="#fbfbf6" transform="rotate(19 270 273)"/>
<ellipse cx="222" cy="258" rx="2" ry="1.5" fill="#fbfbf6" transform="rotate(11 222 258)"/>
<ellipse cx="158" cy="272" rx="3" ry="2.4" fill="#fbfbf6" transform="rotate(20 158 272)"/>
<ellipse cx="178" cy="247" rx="3" ry="2.2" fill="#fbfbf6" transform="rotate(-33 178 247)"/>
<ellipse cx="150" cy="254" rx="2.5" ry="2" fill="#fbfbf6" transform="rotate(-29 150 254)"/>
<ellipse cx="183" cy="279" rx="3" ry="2" fill="#fbfbf6" transform="rotate(5 183 279)"/>
<ellipse cx="196" cy="252" rx="2" ry="1.5" fill="#fbfbf6" transform="rotate(7 196 252)"/>
<ellipse cx="250" cy="252" rx="2" ry="1.5" fill="#fbfbf6" transform="rotate(19 250 252)"/>
<path d="M226.4 241.0l1.2 0.3M278.4 279.1l0.8 1.0M238.1 275.0l1.1 0.0M205.7 254.2l-0.1 0.6M185.8 245.1l-0.5 1.9M278.5 278.0l0.1 1.8M196.2 263.0l0.8 1.2M156.3 262.0l-0.1 0.3M218.0 179.8l0.6 1.9" stroke="#2a46b0" stroke-width="2.0" stroke-linecap="round" fill="none"/>
<path d="M176.8 234.9l0.1 0.0M155.1 281.7l0.7 0.9M177.9 237.0l0.5 0.0M261.7 256.0l0.6 0.3M168.4 269.2l-1.7 0.9M212.2 262.3l0.7 0.6M216.8 257.5l-0.7 1.6M166.5 236.2l-0.7 0.5M243.1 246.9l-1.7 0.1" stroke="#5a3a9a" stroke-width="1.5" stroke-linecap="round" fill="none"/>
<path d="M165.5 261.7l-0.6 2.2M271.5 237.3l0.4 1.7M172.0 228.9l1.1 1.9M182.2 258.5l1.2 1.5M209.5 260.7l-0.6 0.0M149.1 246.7l0.2 0.0M150.6 263.3l0.4 2.2M259.2 270.8l-0.6 1.2M266.5 282.0l0.9 0.0M202.9 213.3l0.1 0.6M267.4 239.0l1.7 0.9M201.6 261.1l1.4 0.7M288.7 262.5l0.8 1.8" stroke="#5a3a9a" stroke-width="2.0" stroke-linecap="round" fill="none"/>
<path d="M285.2 274.8l1.1 1.6M190.5 281.1l0.2 0.1M160.5 258.2l-0.2 1.2M186.6 253.9l-0.7 1.0M191.6 215.7l0.9 0.2M177.8 269.9l-0.8 0.3M232.1 257.8l-1.5 0.1M290.1 280.3l0.1 1.9M209.2 197.8l0.8 1.2" stroke="#6a2a86" stroke-width="1.5" stroke-linecap="round" fill="none"/>
<path d="M285.1 272.4l-0.4 0.5M250.6 253.5l-0.3 1.7M232.5 253.9l0.5 0.4M267.1 273.4l-1.4 0.8M216.6 247.0l-0.1 0.0M194.3 271.1l0.1 0.2M221.7 184.3l0.8 0.2M260.4 247.1l0.8 0.5M230.4 256.1l-0.5 1.6" stroke="#7a3a9a" stroke-width="2.0" stroke-linecap="round" fill="none"/>
<path d="M194.3 273.8l0.5 0.3M256.3 268.7l0.1 0.4M186.3 263.3l0.7 0.7M260.7 257.4l1.6 1.0M246.6 259.8l-0.2 0.8M196.5 250.9l0.4 2.0M227.1 248.5l-0.1 0.6" stroke="#6a2a86" stroke-width="1.0" stroke-linecap="round" fill="none"/>
<path d="M186.6 248.7l0.8 0.8M225.2 274.1l-0.9 1.6M183.7 251.5l0.6 0.1M192.5 255.4l-2.0 0.1M237.0 249.8l0.7 0.5M174.0 275.0l-0.8 0.1" stroke="#4a70d0" stroke-width="1.0" stroke-linecap="round" fill="none"/>
<path d="M199.1 241.6l-2.4 0.1M236.9 249.4l-2.0 0.8M223.9 180.5l-1.5 0.7M208.2 202.3l1.5 1.7M162.2 267.4l-1.7 0.8M276.7 256.9l-0.4 0.1M267.6 268.0l-2.2 0.6M283.7 237.7l-1.9 1.1M203.7 277.1l0.9 0.9M184.8 258.3l-1.2 0.9" stroke="#7a3a9a" stroke-width="1.5" stroke-linecap="round" fill="none"/>
<path d="M158.1 262.4l-0.0 1.1M162.3 254.1l-0.0 0.2M268.6 233.6l1.9 0.7M201.1 270.6l-0.0 0.9M214.5 244.9l-1.3 1.5" stroke="#7a3a9a" stroke-width="2.5" stroke-linecap="round" fill="none"/>
<path d="M164.6 259.4l-0.8 0.4M273.9 254.5l0.3 0.1M161.5 257.5l0.3 0.5M236.1 250.1l-0.1 0.2M226.3 269.3l0.2 1.5M240.6 281.0l-2.3 0.5M253.9 257.6l0.8 0.3M276.3 274.4l1.4 0.7" stroke="#1e2e90" stroke-width="1.5" stroke-linecap="round" fill="none"/>
<path d="M193.3 242.6l1.4 0.5M195.4 246.8l0.1 0.7M273.3 273.7l0.2 2.0M206.9 265.7l0.9 0.9M243.0 256.6l0.7 0.2M147.9 239.1l-0.5 1.7M154.6 242.8l1.2 0.7M156.2 270.2l0.1 0.1M160.9 236.6l1.7 1.4M248.2 276.8l1.1 0.9M160.5 272.9l1.0 1.6M174.0 264.7l0.2 0.3" stroke="#4a70d0" stroke-width="1.5" stroke-linecap="round" fill="none"/>
<path d="M221.3 264.8l1.5 1.7M158.8 256.8l-0.0 0.0M256.3 240.1l-1.4 1.4M282.1 279.3l0.5 1.4M251.1 241.3l1.2 1.8M250.3 282.0l-0.2 1.1M204.4 240.3l0.9 0.4M156.3 279.7l0.0 1.5M176.8 244.6l-0.0 0.0M277.6 260.6l-0.3 0.2M260.4 263.6l-0.0 0.4" stroke="#6a2a86" stroke-width="2.0" stroke-linecap="round" fill="none"/>
<path d="M198.6 227.1l-0.5 1.8M284.8 269.4l1.0 2.1M265.1 256.4l-2.5 0.3M286.2 253.7l-0.0 0.6M179.8 268.4l-0.2 0.1" stroke="#2a46b0" stroke-width="1.0" stroke-linecap="round" fill="none"/>
<path d="M234.2 254.6l0.5 0.7M152.0 263.6l-2.3 0.0M219.9 237.2l0.3 0.0M186.5 252.3l-0.8 2.1M180.0 279.1l-1.5 0.9M268.3 278.2l-0.7 0.7M241.3 252.5l1.6 1.4M222.7 244.2l-0.0 0.0M265.9 238.5l-1.3 0.4" stroke="#2a46b0" stroke-width="1.5" stroke-linecap="round" fill="none"/>
<path d="M169.0 228.5l-0.2 0.1M176.0 280.1l0.6 0.3M233.9 238.3l-0.2 1.9M209.2 252.5l-1.1 2.0M213.0 194.0l0.8 2.2M191.4 237.8l1.1 1.8M160.2 252.2l0.7 0.0M147.0 246.3l-1.2 1.3M170.7 270.0l-0.5 1.5" stroke="#7a3a9a" stroke-width="1.0" stroke-linecap="round" fill="none"/>
<path d="M243.0 244.5l0.2 0.7M192.1 241.7l2.1 0.3M159.8 245.9l-0.3 0.5M206.9 274.6l0.7 0.6M189.9 281.1l1.1 1.3M224.7 177.7l-0.8 0.2M158.5 240.5l-1.5 1.5M227.4 243.3l0.1 0.0M202.1 230.6l-0.7 1.2" stroke="#1e2e90" stroke-width="2.0" stroke-linecap="round" fill="none"/>
<path d="M231.3 258.7l1.6 0.2M170.3 264.8l-0.0 0.0M226.9 243.8l1.3 0.3" stroke="#1e2e90" stroke-width="1.0" stroke-linecap="round" fill="none"/>
<path d="M283.6 246.8l-1.2 1.6M268.9 252.3l1.5 1.5M284.2 235.3l0.5 0.1M265.6 235.6l-1.4 0.2" stroke="#2a46b0" stroke-width="2.5" stroke-linecap="round" fill="none"/>
<path d="M204.9 282.0l-1.9 1.4M286.3 271.3l-0.7 0.8M190.1 233.0l-0.2 2.0M166.3 251.1l0.0 0.1M211.8 261.3l1.3 1.7M181.2 261.7l0.7 0.6M276.6 232.0l0.5 0.2M228.4 259.8l-0.4 0.0M270.4 275.4l-0.0 0.9M241.7 244.2l0.4 0.4" stroke="#3452c4" stroke-width="1.5" stroke-linecap="round" fill="none"/>
<path d="M194.2 232.6l-0.1 0.4M218.0 241.8l1.2 0.4M163.9 243.3l0.3 1.0M181.3 216.5l2.2 0.2M265.4 274.7l-0.6 0.2M186.1 272.5l-1.1 1.2M174.3 227.3l-0.2 0.5M161.3 256.3l-0.1 0.8M205.5 202.4l-0.9 0.0M210.5 239.5l0.7 0.0M190.3 234.9l-1.3 1.4M148.7 241.5l-1.2 1.2M274.8 268.3l1.0 1.7M174.3 243.4l-0.9 2.0M288.5 230.4l-0.0 2.3" stroke="#4a70d0" stroke-width="2.0" stroke-linecap="round" fill="none"/>
<path d="M191.0 210.4l-0.0 2.5M250.3 263.2l-0.5 2.0M209.9 189.2l0.0 0.1M162.5 259.7l-0.1 0.1M282.6 251.7l-1.2 0.3M193.9 253.2l-1.4 0.4" stroke="#1e2e90" stroke-width="2.5" stroke-linecap="round" fill="none"/>
<path d="M166.6 240.3l-0.2 0.2M189.5 279.0l0.3 0.2" stroke="#3452c4" stroke-width="1.0" stroke-linecap="round" fill="none"/>
<path d="M251.8 272.1l0.1 0.2M276.2 263.4l-0.2 1.5M167.5 266.7l0.5 0.2" stroke="#6a2a86" stroke-width="2.5" stroke-linecap="round" fill="none"/>
<path d="M281.0 278.9l-1.8 0.8M147.0 241.5l0.1 0.0M237.5 258.1l-1.8 0.2" stroke="#3452c4" stroke-width="2.0" stroke-linecap="round" fill="none"/>
<path d="M156.8 258.1l0.4 2.4M196.8 245.0l-0.1 0.1M266.4 263.8l0.1 1.1" stroke="#4a70d0" stroke-width="2.5" stroke-linecap="round" fill="none"/>
<path d="M200.0 246.9l0.7 0.1M174.7 241.7l0.1 0.1M212.8 182.2l-2.0 0.4M218.7 177.8l-0.7 0.0M160.9 243.3l0.0 2.1M222.8 239.4l-1.0 0.9M267.3 276.9l-0.3 0.5M203.5 200.2l-0.4 2.0M212.5 197.0l0.2 1.4" stroke="#5a3a9a" stroke-width="1.0" stroke-linecap="round" fill="none"/>
<path d="M199.5 232.5l-1.6 1.5M259.2 247.2l0.0 0.0" stroke="#5a3a9a" stroke-width="2.5" stroke-linecap="round" fill="none"/>
<path d="M245.2 271.3l-0.4 1.9M264.6 281.1l0.7 0.6M212.7 253.6l1.8 0.4M217.5 262.0l0.6 1.1M181.0 257.2l1.0 1.2M217.2 179.0l0.1 0.1M218.1 258.7l0.0 0.4M165.8 273.7l0.7 0.9" stroke="#c8d8f8" stroke-width="1.5" stroke-linecap="round" fill="none"/>
<path d="M190.3 252.8l-0.3 0.2M289.2 229.0l0.2 0.9M235.6 242.0l-1.5 0.4M204.5 281.0l-0.7 1.1M209.5 275.8l0.1 0.4M285.8 247.7l-0.4 0.2" stroke="#dfe8ff" stroke-width="1.0" stroke-linecap="round" fill="none"/>
<path d="M194.7 202.8l0.8 1.1M168.0 242.4l0.5 0.1M182.5 259.9l0.5 1.2M156.1 242.6l-0.7 1.0" stroke="#ffffff" stroke-width="1.0" stroke-linecap="round" fill="none"/>
<path d="M154.5 250.5l-0.5 0.3M275.3 273.5l-0.9 0.2M236.1 258.6l0.0 0.0" stroke="#e8f0ff" stroke-width="2.0" stroke-linecap="round" fill="none"/>
<path d="M274.6 272.9l-1.2 1.4M282.7 280.7l0.1 0.9M156.2 237.1l0.3 1.1M224.7 182.9l-0.3 0.6M169.2 237.5l1.3 0.6M186.6 264.1l0.3 0.1M267.4 238.0l-0.9 0.4M275.1 279.8l-1.3 0.2M182.5 273.3l0.7 0.3M204.3 187.8l-0.1 0.0" stroke="#c8d8f8" stroke-width="1.0" stroke-linecap="round" fill="none"/>
<path d="M205.8 249.0l-1.6 1.1M162.2 275.9l1.4 0.6M156.4 273.8l-1.8 0.8M267.5 277.8l-0.6 1.7M235.5 279.2l-0.1 0.4M149.3 271.4l0.2 0.7M185.9 278.1l0.2 0.3M209.3 197.4l-0.0 0.3M251.0 277.9l1.1 0.1" stroke="#ffffff" stroke-width="1.5" stroke-linecap="round" fill="none"/>
<path d="M192.8 219.1l1.1 0.6M243.8 240.0l-0.1 0.0M161.1 241.4l-0.5 1.3M195.9 214.6l0.4 1.6M216.9 257.1l-0.0 0.1" stroke="#e8f0ff" stroke-width="1.0" stroke-linecap="round" fill="none"/>
<path d="M289.6 261.9l-0.1 0.4M189.3 252.4l0.5 0.4" stroke="#dfe8ff" stroke-width="2.0" stroke-linecap="round" fill="none"/>
<path d="M248.7 271.2l0.0 0.6M247.9 268.9l0.7 0.3M192.2 242.9l-0.2 1.3" stroke="#e8f0ff" stroke-width="1.5" stroke-linecap="round" fill="none"/>
<path d="M199.0 259.3l1.7 0.9M160.2 273.4l0.4 0.3M280.9 232.9l0.9 0.7" stroke="#ffffff" stroke-width="2.0" stroke-linecap="round" fill="none"/>
<path d="M155.7 236.6l0.2 0.2M254.6 252.2l-0.5 0.1M241.1 239.7l0.8 1.8M282.1 263.1l-0.5 0.2M195.2 267.3l0.9 0.3" stroke="#dfe8ff" stroke-width="1.5" stroke-linecap="round" fill="none"/>
<path d="M240.1 240.2l-0.2 0.1M269.4 244.9l-1.6 0.8" stroke="#c8d8f8" stroke-width="2.0" stroke-linecap="round" fill="none"/>
<path d="M224.4 276.3l0.3 0.2M285.0 249.6l0.3 1.5M233.7 247.8l0.6 0.4M184.8 216.3l-0.5 0.2M189.1 246.7l-1.1 0.9M173.3 225.4l0.6 0.3M180.8 281.9l1.5 0.2M174.3 230.2l-0.1 0.2M214.9 262.3l-0.0 0.3M148.8 264.7l-1.3 0.2M180.5 275.5l-1.2 0.3M198.3 253.8l0.5 0.4M212.5 281.8l0.8 0.2M249.0 277.2l-0.1 0.5M226.4 240.8l0.0 0.0M189.6 266.6l0.0 0.0" stroke="#e04070" stroke-width="1.0" stroke-linecap="round" fill="none"/>
<path d="M147.8 241.6l0.1 0.1M242.2 252.4l0.3 0.3M251.7 272.1l-0.2 0.0M263.3 237.7l0.1 0.0M181.2 252.1l0.4 0.7M275.9 230.9l0.4 0.6M211.1 279.3l0.0 0.0M190.4 242.9l-1.2 1.1M177.2 260.4l0.0 0.4M203.6 246.6l0.2 0.2M220.7 267.3l0.1 0.1M232.8 239.5l-0.3 0.8M195.2 232.4l-0.4 0.0" stroke="#e04070" stroke-width="1.5" stroke-linecap="round" fill="none"/>
<path d="M235.0 253.6l-0.0 0.4M262.5 256.0l-0.1 0.2M180.3 225.2l-0.1 0.1M173.4 238.0l1.4 0.1M188.5 262.5l-0.3 1.0M156.5 242.3l0.2 0.0M223.9 250.7l0.3 0.2M265.3 272.4l-0.1 0.2M199.4 238.1l0.8 0.6M287.5 235.1l0.2 0.0M245.0 241.1l-1.5 0.8M219.7 280.7l0.3 0.0M209.9 269.5l1.4 0.3M234.7 245.0l-0.9 0.4M275.2 241.6l0.4 0.5M250.0 255.4l-1.6 0.6M175.4 268.5l-0.8 0.7M179.9 251.3l-0.6 0.2M199.1 244.6l0.2 0.3" stroke="#c0306a" stroke-width="1.0" stroke-linecap="round" fill="none"/>
<path d="M270.5 273.8l-1.2 0.3M199.8 243.3l0.8 0.9M193.6 257.6l-0.1 0.0M284.5 267.3l0.8 0.2M152.8 271.4l-0.1 0.3M176.1 263.5l0.4 0.1M200.4 257.2l0.8 0.6M198.1 272.6l0.9 0.9M182.8 231.8l1.1 0.9M240.4 261.6l0.4 1.0M242.5 281.6l-0.0 0.0M160.4 241.2l-0.0 0.2M181.5 253.0l0.4 1.5M228.2 259.4l0.9 0.2M197.6 265.2l-0.1 0.1M176.0 277.6l-0.4 1.3M206.5 197.6l1.5 0.2" stroke="#a02a78" stroke-width="1.0" stroke-linecap="round" fill="none"/>
<path d="M147.2 259.4l-1.7 0.3M262.8 233.2l0.2 0.4M217.5 281.4l-0.5 0.4M173.3 231.8l0.9 1.3M166.5 281.4l-0.8 1.0M168.3 263.6l-0.9 1.1M289.2 227.9l0.2 0.7M195.2 203.6l-0.1 1.0M204.0 266.2l-0.3 0.3M265.4 249.2l1.1 1.2" stroke="#8a3aa0" stroke-width="1.0" stroke-linecap="round" fill="none"/>
<path d="M226.9 181.9l-0.3 1.0M211.9 236.6l0.2 0.1M273.5 267.9l-0.0 0.7M228.0 244.3l0.5 0.3M233.4 276.2l-1.4 0.4M172.4 260.0l0.4 0.4M245.4 247.6l0.2 0.3M250.2 277.6l0.3 0.9M180.7 228.1l0.5 0.4M276.6 249.5l-0.8 1.3M235.6 281.0l-0.1 0.1M182.2 219.9l1.4 0.7M156.3 275.5l-1.2 0.1M195.2 273.0l0.1 1.1" stroke="#d04a8a" stroke-width="1.0" stroke-linecap="round" fill="none"/>
<path d="M168.0 259.0l0.2 1.0M163.7 242.6l-0.2 0.8M256.7 258.3l1.7 0.4M278.5 253.1l0.5 0.2M181.0 226.0l0.1 0.7M221.7 254.0l-0.3 1.0M287.2 234.8l0.4 0.7M279.9 246.6l0.1 0.3M236.8 270.8l1.1 1.0M206.3 262.2l-0.4 0.2M212.0 276.8l0.6 0.9M185.6 274.0l-0.0 0.4M152.1 246.2l0.2 1.2M165.6 272.6l-0.1 1.5" stroke="#8a3aa0" stroke-width="1.5" stroke-linecap="round" fill="none"/>
<path d="M162.4 258.7l-0.3 1.0M196.8 248.7l0.3 0.2M288.7 274.1l-0.4 0.1M168.5 264.2l-0.3 1.4M223.3 184.6l0.7 0.1M185.8 235.3l0.0 0.1" stroke="#d04a8a" stroke-width="1.5" stroke-linecap="round" fill="none"/>
<path d="M267.3 267.1l1.0 0.7M221.3 248.7l-0.1 0.5M240.6 258.4l0.3 0.2M162.7 276.6l0.6 0.6M177.1 252.5l-1.0 1.4M212.1 244.2l0.0 0.0M181.5 267.3l-0.3 0.3M185.8 238.1l0.9 0.5M180.1 261.9l-0.1 0.1M206.6 201.8l-1.1 0.3M264.6 267.7l-1.2 0.3" stroke="#a02a78" stroke-width="1.5" stroke-linecap="round" fill="none"/>
<path d="M254.7 258.3l0.3 0.6M215.7 273.7l1.1 0.7M238.7 237.1l-0.8 0.9M267.2 275.7l-0.8 1.4M238.8 255.8l-0.6 0.8M202.2 204.8l0.6 0.8M252.4 272.4l0.6 0.3M173.1 274.5l-0.4 0.0M271.0 247.7l-0.3 0.1M244.8 254.7l-0.5 1.5M153.6 242.7l0.0 1.3" stroke="#c0306a" stroke-width="1.5" stroke-linecap="round" fill="none"/>
<path d="M287.4 278.6l-1.2 0.3M288.5 267.2l-0.0 0.0M274.2 244.7l0.1 0.9M169.9 232.2l-0.4 0.2" stroke="#a02a78" stroke-width="2.0" stroke-linecap="round" fill="none"/>
<path d="M160.0 274.5l1.3 1.2M217.9 181.4l-0.4 0.3M250.6 253.4l-0.3 0.4" stroke="#8a3aa0" stroke-width="2.0" stroke-linecap="round" fill="none"/>
<path d="M160.9 265.0l-0.6 0.5M192.0 219.8l0.2 0.4" stroke="#c0306a" stroke-width="2.0" stroke-linecap="round" fill="none"/>
<path d="M148 268 Q154 272 156 282" stroke="#e02050" stroke-width="3.4" fill="none"/>
<path d="M283 236 Q280 252 286 270" stroke="#e03060" stroke-width="1.4" fill="none" opacity="0.9"/>
<path d="M288 232 L285 262" stroke="#e03a70" stroke-width="1.2" fill="none" opacity="0.9"/>
<defs><linearGradient id="c2h" x1="0" y1="177" x2="0" y2="250" gradientUnits="userSpaceOnUse"><stop offset="0" stop-color="#4a3ab0"/><stop offset="0.45" stop-color="#8a3aa8"/><stop offset="0.75" stop-color="#d02a80"/><stop offset="1" stop-color="#c02a70"/></linearGradient></defs>
<polygon points="215.0,176.0 214.5,176.6 213.7,177.5 212.8,178.5 211.9,179.6 210.9,180.8 209.9,181.9 209.0,183.0 208.2,184.0 207.3,185.0 206.5,186.0 205.7,187.0 204.9,188.0 204.2,189.0 203.5,190.0 202.8,191.0 202.2,191.9 201.7,192.8 201.1,193.7 200.6,194.7 200.0,195.6 199.5,196.5 199.0,197.4 198.5,198.3 198.0,199.2 197.5,200.2 197.1,201.1 196.5,202.0 196.0,202.9 195.4,203.8 194.7,204.7 194.1,205.7 193.4,206.6 192.7,207.5 192.1,208.5 191.5,209.4 191.0,210.3 190.5,211.3 190.1,212.2 189.7,213.1 189.3,214.1 188.9,215.0 188.5,215.9 188.1,216.8 187.6,217.6 187.1,218.3 186.6,219.1 186.2,220.0 185.8,220.9 185.5,222.0 185.2,223.2 184.9,224.5 184.6,226.0 184.4,227.4 184.3,229.0 184.3,230.5 184.5,232.0 184.8,233.5 185.2,235.1 185.8,236.7 186.4,238.4 187.2,240.0 188.0,241.5 189.0,243.0 190.1,244.4 191.3,245.9 192.6,247.3 194.0,248.6 195.5,249.9 197.2,251.0 199.0,252.0 201.0,252.9 203.1,253.7 205.4,254.4 207.8,255.0 210.2,255.4 212.6,255.8 215.0,256.0 217.4,256.0 219.8,255.9 222.2,255.6 224.6,255.2 227.0,254.8 229.5,254.4 232.0,254.0 234.5,253.6 237.2,253.2 239.8,252.7 242.4,252.3 245.0,251.8 247.6,251.4 250.0,251.0 252.3,250.7 254.5,250.4 256.6,250.2 258.7,249.9 260.8,249.7 262.9,249.4 265.0,249.0 267.2,248.5 269.3,248.0 271.5,247.5 273.7,246.9 275.9,246.3 278.0,245.6 280.0,245.0 282.1,244.3 284.2,243.5 286.4,242.7 288.4,241.8 290.3,241.1 291.8,240.5 292.9,218.6 292.8,218.0 292.7,217.3 292.5,216.6 292.1,216.1 291.7,215.9 291.0,216.0 290.1,216.6 288.9,217.7 287.6,219.0 286.2,220.5 284.7,222.0 283.3,223.4 282.0,224.5 280.8,225.4 279.8,226.2 278.7,227.0 277.7,227.6 276.5,228.3 275.3,228.9 274.0,229.5 272.5,230.1 270.9,230.7 269.2,231.2 267.5,231.7 265.7,232.2 263.9,232.6 262.0,233.0 260.1,233.4 258.2,233.7 256.2,234.0 254.2,234.3 252.2,234.5 250.1,234.8 248.0,235.0 245.8,235.3 243.7,235.5 241.4,235.8 239.2,236.0 236.8,236.2 234.5,236.4 232.0,236.5 229.4,236.6 226.5,236.6 223.5,236.5 220.6,236.5 217.8,236.3 215.2,236.2 213.0,236.0 211.2,235.8 209.6,235.5 208.3,235.2 207.2,234.8 206.2,234.4 205.3,234.0 204.5,233.5 203.8,233.0 203.2,232.4 202.7,231.8 202.3,231.2 202.0,230.5 201.7,229.8 201.5,229.0 201.3,228.1 201.1,227.2 201.0,226.1 201.0,225.1 201.0,224.0 201.0,223.0 201.0,222.0 201.0,221.1 201.1,220.2 201.2,219.3 201.4,218.5 201.5,217.6 201.7,216.8 202.0,215.9 202.3,215.0 202.7,214.1 203.1,213.1 203.6,212.2 204.0,211.3 204.5,210.3 205.0,209.4 205.5,208.5 206.0,207.5 206.5,206.6 207.0,205.7 207.6,204.7 208.1,203.8 208.7,202.9 209.3,202.0 209.9,201.1 210.6,200.2 211.2,199.2 211.9,198.3 212.6,197.4 213.3,196.5 214.0,195.6 214.8,194.7 215.5,193.7 216.3,192.8 217.1,191.9 218.0,191.0 219.0,190.0 220.1,189.0 221.3,188.0 222.5,187.0 223.8,186.0 225.2,184.9 226.6,184.0 228.0,183.0 229.6,182.0 231.3,181.0 233.2,180.0 235.0,179.1 236.6,178.2 238.0,177.5 239.0,177.0" fill="url(#c2h)" opacity="0.85"/>
<path d="M228.5 179.5l0.2 2.4M211.5 253.5l0.1 0.1M198.9 207.0l0.2 0.3M221.2 239.8l0.4 0.1M278.8 233.8l0.0 0.0M263.3 243.4l1.2 1.4" stroke="#f0f0ff" stroke-width="1.5" stroke-linecap="round" fill="none"/>
<path d="M212.2 188.7l0.1 0.4M209.4 191.4l1.2 0.1M198.6 227.4l-0.7 1.7M193.4 209.3l0.5 0.8M208.4 235.7l-0.3 0.7M225.0 250.8l0.6 0.1" stroke="#c02a6a" stroke-width="2.0" stroke-linecap="round" fill="none"/>
<path d="M246.3 241.1l0.1 1.6M243.9 251.7l1.2 1.1M194.7 219.1l1.1 0.3M198.8 223.5l1.3 1.0M289.9 241.2l0.0 1.7M226.3 178.2l0.5 0.2M204.8 199.6l-0.1 1.1M199.2 222.8l0.9 0.7M214.9 246.0l-0.8 1.7" stroke="#3a5ac8" stroke-width="1.5" stroke-linecap="round" fill="none"/>
<path d="M207.4 243.5l-0.6 0.3M278.1 229.3l1.6 0.5M187.1 221.1l-0.1 0.0M196.9 209.3l0.7 0.4M192.7 238.8l1.4 0.4M249.6 241.7l-1.0 0.4M206.3 197.9l-1.5 0.7M289.5 231.9l0.3 1.5M204.0 244.2l-0.0 0.0M198.7 240.4l1.5 1.5M238.5 247.7l-0.3 0.0M199.9 250.2l-1.1 1.3M185.8 233.7l1.5 0.4M242.2 244.3l2.0 1.5" stroke="#2a3aa8" stroke-width="1.5" stroke-linecap="round" fill="none"/>
<path d="M239.7 242.8l1.0 1.7M190.9 214.9l-1.4 1.3M284.4 225.4l0.1 0.8M219.8 245.9l-0.0 0.1M240.5 243.6l0.3 1.4M288.6 230.6l0.1 1.9" stroke="#3a5ac8" stroke-width="1.0" stroke-linecap="round" fill="none"/>
<path d="M275.6 238.3l-0.2 0.8M276.9 228.6l0.1 1.6M254.3 236.0l1.8 1.6M207.6 187.0l0.1 0.1M215.9 190.0l1.4 0.6M197.1 208.3l-0.0 0.2M269.2 239.1l2.2 1.0M272.2 244.0l-0.9 1.3M201.0 207.1l0.2 0.9M203.0 208.3l1.7 1.8M226.5 181.0l0.5 1.5M223.4 182.4l0.2 0.4M194.7 210.0l0.3 0.8" stroke="#c02a6a" stroke-width="1.5" stroke-linecap="round" fill="none"/>
<path d="M201.0 195.9l0.4 0.7M284.7 229.6l-0.9 2.2M266.9 245.6l-1.5 1.0M239.3 239.0l-0.9 2.3M207.6 200.3l0.9 0.9M198.6 206.0l-0.7 1.9M215.0 255.6l-2.4 0.2" stroke="#1a2a80" stroke-width="1.5" stroke-linecap="round" fill="none"/>
<path d="M188.4 221.1l0.2 0.3M212.1 249.2l1.0 1.7M184.8 231.1l-0.5 0.0" stroke="#1a2a80" stroke-width="2.0" stroke-linecap="round" fill="none"/>
<path d="M216.8 180.4l0.3 0.5M236.2 240.0l-1.0 1.0M216.4 249.6l1.3 1.0M201.0 239.3l-0.0 0.4M215.0 252.0l-2.0 0.2M279.2 228.2l0.2 0.3M243.1 238.4l-0.5 1.9M195.5 238.1l0.4 0.5M194.8 208.0l-1.3 1.3" stroke="#8a2a8a" stroke-width="1.0" stroke-linecap="round" fill="none"/>
<path d="M236.3 248.1l-0.0 0.1M278.7 240.3l2.1 0.6M284.2 228.8l-1.0 1.5M245.7 250.5l1.4 2.0M207.9 199.7l1.7 0.0M197.0 222.7l-0.4 0.2M197.4 201.7l0.8 0.7" stroke="#2a3aa8" stroke-width="1.0" stroke-linecap="round" fill="none"/>
<path d="M242.2 248.6l-0.3 0.6M193.0 235.5l0.5 0.8M256.2 244.6l-1.1 0.1M232.7 240.9l0.9 0.6M199.5 204.8l-0.0 0.1M201.0 219.9l1.3 0.8M188.1 225.4l0.6 2.4M268.1 243.8l1.9 1.4M276.4 238.7l0.2 0.2M235.7 247.3l-1.6 1.3M242.7 246.7l0.7 1.3" stroke="#8a2a8a" stroke-width="1.5" stroke-linecap="round" fill="none"/>
<path d="M214.6 178.3l0.0 0.3M255.7 242.2l0.4 0.1M205.4 188.1l1.2 1.4M205.7 202.1l-2.3 0.2M270.1 231.7l1.5 1.5M195.5 207.0l-0.5 1.9M217.8 241.3l-2.4 0.3M194.6 215.5l-0.8 1.5M213.3 241.2l2.1 0.4" stroke="#c02a6a" stroke-width="1.0" stroke-linecap="round" fill="none"/>
<path d="M287.1 220.5l-1.1 0.8M247.3 245.8l-1.3 0.8M273.3 236.3l-0.1 0.0M241.5 241.4l-1.1 0.2M207.7 236.2l0.1 1.2" stroke="#f0f0ff" stroke-width="1.0" stroke-linecap="round" fill="none"/>
<path d="M193.1 231.7l-0.2 0.7M275.8 238.2l0.2 2.0M207.0 185.5l-0.7 0.5M220.5 236.6l-1.6 1.8M193.1 246.1l-0.5 0.2M268.3 248.0l0.0 1.2" stroke="#1a2a80" stroke-width="1.0" stroke-linecap="round" fill="none"/>
<path d="M218.0 243.4l-1.7 0.1M203.1 248.6l0.6 0.3" stroke="#3a5ac8" stroke-width="2.0" stroke-linecap="round" fill="none"/>
<path d="M207.4 192.7l1.0 0.2M280.6 239.5l-1.3 0.1" stroke="#8a2a8a" stroke-width="2.0" stroke-linecap="round" fill="none"/>
<path d="M198.4 243.1l-0.7 0.3M279.2 243.1l0.1 0.0M232.9 239.4l-0.1 0.1" stroke="#2a3aa8" stroke-width="2.0" stroke-linecap="round" fill="none"/>
<path d="M254.6 249.2l-0.1 0.9M206.9 192.2l0.1 0.2" stroke="#f0f0ff" stroke-width="2.0" stroke-linecap="round" fill="none"/>
<polygon points="229.0,176.0 228.4,176.5 227.5,177.2 226.5,178.0 225.4,179.0 224.3,180.0 223.1,181.0 222.0,182.0 220.9,183.1 219.7,184.2 218.5,185.4 217.3,186.6 216.1,187.8 215.0,188.9 214.0,190.0 213.1,191.0 212.3,192.0 211.6,192.9 211.0,193.8 210.3,194.7 209.7,195.6 209.0,196.5 208.3,197.4 207.6,198.3 207.0,199.2 206.3,200.2 205.6,201.1 204.9,202.0 204.2,202.9 203.4,203.8 202.6,204.7 201.8,205.7 200.9,206.6 200.1,207.5 199.3,208.5 198.5,209.4 197.8,210.3 197.1,211.3 196.4,212.2 195.7,213.1 195.1,214.1 194.5,215.0 194.0,215.9 193.6,216.8 193.2,217.6 192.9,218.4 192.7,219.3 192.4,220.1 192.2,221.0 192.0,222.0 191.8,223.0 191.6,224.1 191.4,225.3 191.2,226.5 191.1,227.7 191.0,228.8 191.0,230.0 191.0,231.2 191.0,232.3 191.0,233.5 191.1,234.6 191.3,235.8 191.6,236.9 192.0,238.0 192.6,239.1 193.3,240.2 194.1,241.2 195.0,242.3 196.0,243.2 197.0,244.2 198.0,245.0 199.0,245.8 200.1,246.4 201.2,247.1 202.4,247.7 203.6,248.2 204.8,248.6 206.0,249.0 207.2,249.3 208.3,249.6 209.4,249.8 210.5,249.9 211.8,250.0 213.3,250.0 215.0,250.0 217.0,249.9 219.3,249.7 221.8,249.4 224.4,249.0 227.0,248.7 229.6,248.3 232.0,248.0 234.4,247.7 236.7,247.3 239.0,247.0 241.3,246.6 243.6,246.2 245.8,245.9 248.0,245.5 250.1,245.2 252.2,244.8 254.2,244.5 256.2,244.1 258.2,243.8 260.1,243.4 262.0,243.0 263.8,242.6 265.4,242.2 266.9,241.8 268.5,241.4 270.1,240.9 271.9,240.3 274.0,239.5 276.5,238.5 279.5,237.2 282.7,235.8 285.8,234.3 288.8,233.0 291.2,231.8 292.9,218.6 292.8,218.0 292.7,217.3 292.5,216.6 292.1,216.1 291.7,215.9 291.0,216.0 290.1,216.6 288.9,217.7 287.6,219.0 286.2,220.5 284.7,222.0 283.3,223.4 282.0,224.5 280.8,225.4 279.8,226.2 278.7,227.0 277.7,227.6 276.5,228.3 275.3,228.9 274.0,229.5 272.5,230.1 270.9,230.7 269.2,231.2 267.5,231.7 265.7,232.2 263.9,232.6 262.0,233.0 260.1,233.4 258.2,233.7 256.2,234.0 254.2,234.3 252.2,234.5 250.1,234.8 248.0,235.0 245.8,235.3 243.7,235.5 241.4,235.8 239.2,236.0 236.8,236.2 234.5,236.4 232.0,236.5 229.4,236.6 226.5,236.6 223.5,236.5 220.6,236.5 217.8,236.3 215.2,236.2 213.0,236.0 211.2,235.8 209.6,235.5 208.3,235.2 207.2,234.8 206.2,234.4 205.3,234.0 204.5,233.5 203.8,233.0 203.2,232.4 202.7,231.8 202.3,231.2 202.0,230.5 201.7,229.8 201.5,229.0 201.3,228.1 201.1,227.2 201.0,226.1 201.0,225.1 201.0,224.0 201.0,223.0 201.0,222.0 201.0,221.1 201.1,220.2 201.2,219.3 201.4,218.5 201.5,217.6 201.7,216.8 202.0,215.9 202.3,215.0 202.7,214.1 203.1,213.1 203.6,212.2 204.0,211.3 204.5,210.3 205.0,209.4 205.5,208.5 206.0,207.5 206.5,206.6 207.0,205.7 207.6,204.7 208.1,203.8 208.7,202.9 209.3,202.0 209.9,201.1 210.6,200.2 211.2,199.2 211.9,198.3 212.6,197.4 213.3,196.5 214.0,195.6 214.8,194.7 215.5,193.7 216.3,192.8 217.1,191.9 218.0,191.0 219.0,190.0 220.1,189.0 221.3,188.0 222.5,187.0 223.8,186.0 225.2,184.9 226.6,184.0 228.0,183.0 229.6,182.0 231.3,181.0 233.2,180.0 235.0,179.1 236.6,178.2 238.0,177.5 239.0,177.0" fill="#e8183f"/>
<path d="M275.6 237.1l-0.5 1.0M218.8 246.9l1.2 0.0M244.9 242.1l-1.8 0.5" stroke="#f04070" stroke-width="2.0" stroke-linecap="round" fill="none"/>
<path d="M287.7 220.0l0.4 0.3M221.1 244.1l2.1 0.1M215.9 249.6l-0.0 0.1M258.2 242.2l-0.0 0.2M204.2 203.0l0.6 0.7M285.8 232.7l-0.4 0.4M200.6 223.6l-0.4 0.2M191.8 232.3l0.8 0.9" stroke="#8a1a5a" stroke-width="2.0" stroke-linecap="round" fill="none"/>
<path d="M206.6 240.4l1.9 0.3M198.6 234.1l-0.3 1.1M262.5 237.6l1.0 1.8" stroke="#b01040" stroke-width="2.0" stroke-linecap="round" fill="none"/>
<path d="M207.1 245.1l-1.6 0.7M206.7 239.7l-0.1 2.1M269.6 233.9l1.0 1.0M197.4 230.4l0.5 0.1M279.2 237.1l0.1 0.7M246.5 238.0l0.3 0.3M246.8 239.0l0.4 0.3M270.3 232.8l-0.0 0.0" stroke="#6a2a8a" stroke-width="1.5" stroke-linecap="round" fill="none"/>
<path d="M219.2 243.4l-1.5 0.8M199.0 210.4l-1.4 1.5M192.0 225.9l0.2 1.2M204.0 204.2l1.5 1.8" stroke="#ff2a50" stroke-width="1.0" stroke-linecap="round" fill="none"/>
<path d="M192.8 222.6l-2.1 0.1M225.1 247.8l0.2 0.1M193.7 232.4l-0.6 0.0M199.0 233.8l0.1 0.1" stroke="#6a2a8a" stroke-width="1.0" stroke-linecap="round" fill="none"/>
<path d="M285.6 224.6l0.3 1.4M280.8 236.3l-2.2 0.5M206.7 244.5l1.5 1.0M206.2 242.2l-1.5 0.7M199.2 236.7l-0.1 1.0M273.7 232.8l-0.4 1.3M241.8 242.6l0.3 0.6M260.5 239.0l0.1 0.3M234.1 240.7l0.0 0.4" stroke="#f04070" stroke-width="1.0" stroke-linecap="round" fill="none"/>
<path d="M194.7 220.6l-1.0 1.2M267.2 234.7l2.2 0.8M197.7 234.9l-1.0 1.9M199.0 211.8l0.3 0.3M205.8 201.2l0.4 0.5M202.8 238.7l-0.9 1.0M222.7 238.2l-0.7 0.2" stroke="#6a2a8a" stroke-width="2.0" stroke-linecap="round" fill="none"/>
<path d="M217.5 189.2l2.2 1.0M267.2 238.2l-0.9 0.2M213.5 245.5l-0.2 1.6M249.5 239.2l-1.9 1.1M275.1 232.2l1.2 1.3" stroke="#f04070" stroke-width="1.5" stroke-linecap="round" fill="none"/>
<path d="M285.0 226.3l0.3 0.7M224.8 243.2l-0.9 1.3M199.5 230.7l-1.6 0.8M235.1 236.6l-0.1 1.1M212.1 196.8l0.4 1.0M221.5 245.1l-0.8 1.4M233.9 241.6l0.8 0.2M228.3 182.4l0.6 0.0M286.7 224.3l-1.8 0.2M234.1 236.9l0.2 0.0" stroke="#ff2a50" stroke-width="1.5" stroke-linecap="round" fill="none"/>
<path d="M193.0 232.2l0.5 0.8M287.9 228.9l-0.9 0.1M217.7 249.7l-0.3 0.2M230.6 240.1l0.1 0.9M195.2 232.6l0.2 0.3M288.2 219.0l-0.6 0.8M198.8 226.9l-1.7 0.1" stroke="#b01040" stroke-width="1.5" stroke-linecap="round" fill="none"/>
<path d="M283.8 233.3l-2.2 0.9M208.5 243.7l0.1 1.5M197.4 210.9l0.2 0.9M215.8 236.7l0.6 0.8M196.1 224.7l0.2 1.2M232.1 242.4l-0.0 0.0M221.6 184.6l1.1 0.9M214.1 239.4l-0.8 0.6M214.4 243.5l-0.5 0.2" stroke="#b01040" stroke-width="1.0" stroke-linecap="round" fill="none"/>
<path d="M239.2 236.4l0.0 0.1M214.8 245.6l-0.1 1.5M234.2 242.2l-0.6 0.0M276.5 230.0l0.3 0.6" stroke="#8a1a5a" stroke-width="1.5" stroke-linecap="round" fill="none"/>
<path d="M206.2 202.1l-0.0 0.0M198.4 243.8l-1.7 1.2M282.4 233.9l1.4 1.5M224.3 239.2l-0.4 0.1M201.5 238.3l1.0 1.2" stroke="#8a1a5a" stroke-width="1.0" stroke-linecap="round" fill="none"/>
<path d="M268.4 233.0l0.9 0.3M226.2 239.2l-0.4 0.2M290.6 218.5l-0.0 0.4M250.3 236.9l0.1 0.1M291.3 220.8l-1.8 0.9M264.7 236.0l0.3 0.2M274.6 236.3l0.2 1.1M235.5 177.2l0.3 0.2" stroke="#c8143e" stroke-width="2.0" stroke-linecap="round" fill="none"/>
<path d="M257.4 236.1l1.5 0.8M273.2 237.5l0.6 0.6M259.7 235.1l1.3 1.0M241.5 243.5l0.1 0.0M242.8 238.3l-0.3 0.5M230.3 180.2l0.2 0.1M194.8 222.5l-1.2 0.7" stroke="#c8143e" stroke-width="1.5" stroke-linecap="round" fill="none"/>
<path d="M196.8 237.1l1.1 0.3M225.2 243.5l0.2 0.7M194.3 219.4l0.5 0.1M246.6 243.0l1.0 0.8M245.7 242.1l0.0 0.2" stroke="#c8143e" stroke-width="1.0" stroke-linecap="round" fill="none"/>
<path d="M262.2 236.2l-0.3 1.0M212.7 193.7l-1.2 0.3M241.5 241.2l0.1 1.5M259.2 241.0l-1.5 0.8" stroke="#ff2a50" stroke-width="2.0" stroke-linecap="round" fill="none"/>
<path d="M212.0 244.0C213.7 244.1 218.2 244.6 222.0 244.5C225.8 244.4 230.3 244.0 235.0 243.5C239.7 243.0 245.5 242.2 250.0 241.5C254.5 240.8 258.0 240.5 262.0 239.5C266.0 238.5 269.0 237.2 274.0 235.5C279.0 233.8 289.0 230.1 292.0 229.0" stroke="#3a0a3a" stroke-width="2" fill="none" opacity="0.8"/>
<path d="M239.0 177.0C228.2 178.0 231.3 180.8 228.0 183.0C224.7 185.2 221.4 187.8 219.0 190.0C216.6 192.2 215.0 194.3 213.3 196.5C211.6 198.7 210.1 200.8 208.7 202.9C207.3 205.1 206.1 207.2 205.0 209.4C203.9 211.6 202.7 213.8 202.0 215.9C201.3 218.0 201.1 219.8 201.0 222.0C200.9 224.2 200.9 227.1 201.5 229.0C202.1 230.9 202.6 232.3 204.5 233.5C206.4 234.7 208.4 235.5 213.0 236.0C217.6 236.5 226.2 236.7 232.0 236.5C237.8 236.3 243.0 235.6 248.0 235.0C253.0 234.4 257.7 233.9 262.0 233.0C266.3 232.1 270.7 230.9 274.0 229.5C277.3 228.1 279.2 226.8 282.0 224.5C284.8 222.2 289.2 223.9 291.0 216.0C292.8 208.1 301.7 183.5 293.0 177.0C284.3 170.5 249.8 176.0 239.0 177.0Z" fill="#fcfce8"/>
<text x="153.9" y="188.4" font-size="9.6" fill="#1e1e1e" stroke="#1e1e1e" stroke-width="0.3" letter-spacing="0.15">cGVHD</text>
</g>
<g clip-path="url(#clc3)">
<rect x="291" y="179" width="140" height="101" fill="#fcf9ec"/>
<path d="M370.8 242.9l-0.4 3.6M415.0 273.0l-0.0 2.3M294.3 186.9l2.4 2.2M351.2 261.1l1.2 1.8M375.2 267.0l1.4 0.1M384.1 259.9l1.2 0.1M394.4 246.7l1.0 1.6M306.1 190.9l-2.1 2.6M295.3 234.4l-2.0 0.7M418.6 195.2l-1.5 0.5M366.6 263.5l3.0 2.0M369.2 231.2l-0.1 2.7M422.0 203.0l0.8 1.5M352.7 267.2l-1.4 2.2M318.5 222.4l-2.4 0.9M355.3 274.6l1.3 2.4M372.2 272.9l-1.6 0.9M322.7 231.6l-1.8 0.1" stroke="#f3d6e0" stroke-width="2.5" stroke-linecap="round" fill="none" stroke-opacity="0.35"/>
<path d="M428.1 270.4l0.4 2.5M307.4 184.7l3.9 0.8M387.2 267.8l-0.6 3.2M419.1 211.3l-1.0 1.2M407.4 222.8l-2.6 2.5M360.4 239.5l-1.3 1.2M313.2 234.5l-1.4 1.4M291.9 183.9l-2.0 0.6" stroke="#f3d6e0" stroke-width="3.5" stroke-linecap="round" fill="none" stroke-opacity="0.35"/>
<path d="M360.5 184.3l1.0 1.6M374.7 258.8l1.9 0.4M424.1 259.9l1.6 3.6M316.6 194.2l1.9 1.1M415.3 247.4l-0.4 0.9M398.2 234.5l0.1 1.4M346.7 258.0l-1.6 0.1M295.5 255.8l-1.1 0.2M325.2 242.6l-1.7 1.2M372.0 269.4l-0.5 1.0M311.2 213.9l-1.4 1.4M414.7 278.5l-1.3 0.2M359.2 265.5l-1.4 0.5" stroke="#dfe0f0" stroke-width="3.0" stroke-linecap="round" fill="none" stroke-opacity="0.35"/>
<path d="M308.2 211.5l0.9 1.8M414.1 269.6l1.5 2.0M416.0 215.2l2.6 1.3M363.9 179.2l1.0 1.1M294.7 232.7l-1.7 1.6M341.9 256.7l-1.1 3.6M402.7 274.6l-1.8 1.8M418.3 273.4l-0.1 1.9M301.7 259.8l1.1 1.6M402.5 249.1l0.1 1.6M411.5 213.4l-2.0 2.8M301.9 200.9l-3.1 1.6M307.5 185.8l1.9 1.1M389.5 267.1l-0.6 2.7M418.6 215.6l-2.5 0.5" stroke="#e6d4ea" stroke-width="3.0" stroke-linecap="round" fill="none" stroke-opacity="0.35"/>
<path d="M299.9 188.4l1.0 2.0M344.2 255.5l3.6 0.2M313.3 277.8l2.9 1.9M350.7 271.7l0.2 1.0M371.9 276.6l1.0 1.8M375.5 259.5l-1.4 0.2M345.5 185.6l-2.1 2.3M299.1 187.4l-1.2 0.5" stroke="#f3d6e0" stroke-width="2.0" stroke-linecap="round" fill="none" stroke-opacity="0.35"/>
<path d="M392.2 267.1l0.2 3.2M423.5 220.8l2.6 0.8M349.0 180.4l-1.6 1.0M319.5 211.5l1.3 0.4M426.4 227.7l-1.8 2.7M407.0 219.7l1.5 3.0M298.5 212.6l-1.1 0.2" stroke="#e6d4ea" stroke-width="3.5" stroke-linecap="round" fill="none" stroke-opacity="0.35"/>
<path d="M357.2 241.8l1.8 2.8M304.7 218.1l-0.3 3.6M430.0 269.8l-2.2 1.7M334.5 233.6l-2.3 0.6M391.0 254.3l1.4 3.1M361.7 231.5l-1.0 0.3M343.0 276.1l-0.2 1.5M415.0 247.9l1.0 1.7M398.0 222.9l-3.5 0.3M410.9 223.9l-3.1 1.3M326.9 278.9l-0.0 1.0M331.3 243.4l-1.4 2.7M304.4 269.6l1.5 0.7" stroke="#dfe0f0" stroke-width="2.5" stroke-linecap="round" fill="none" stroke-opacity="0.35"/>
<path d="M410.0 242.1l0.8 1.0M331.2 246.3l2.7 0.5M414.6 227.4l3.4 1.3M422.1 190.6l0.8 2.0M385.0 228.7l2.6 0.0M364.0 259.3l-1.7 3.4M303.5 194.0l2.6 1.2M426.4 277.9l1.6 0.8M327.1 198.8l1.4 3.4M408.7 245.2l3.3 0.2M363.0 244.3l2.4 2.2M293.2 179.4l-1.6 1.4M398.9 248.9l1.5 0.6" stroke="#efcfe0" stroke-width="2.5" stroke-linecap="round" fill="none" stroke-opacity="0.35"/>
<path d="M301.0 272.6l-2.1 3.4M401.9 277.3l-2.9 0.4M302.1 227.4l0.8 1.3M364.6 251.1l-1.5 0.3M426.4 183.1l-2.2 2.5M326.8 181.6l0.2 1.0M377.1 239.9l-0.0 1.7M352.0 273.5l1.8 3.4M310.7 217.4l0.7 1.4M416.4 263.9l1.0 3.1" stroke="#efcfe0" stroke-width="3.0" stroke-linecap="round" fill="none" stroke-opacity="0.35"/>
<path d="M294.2 188.0l-0.9 3.2M413.6 260.2l-1.1 0.1M311.3 210.1l1.5 3.0M329.1 235.6l-2.0 3.0M384.7 232.9l1.2 1.4M420.5 184.0l0.2 1.8M304.0 218.6l3.0 1.7M425.4 250.0l1.8 2.8M407.3 241.1l2.7 2.9M427.9 181.4l-1.4 3.6M294.5 272.8l0.0 1.7M375.9 272.6l-2.3 2.7" stroke="#e6d4ea" stroke-width="2.5" stroke-linecap="round" fill="none" stroke-opacity="0.35"/>
<path d="M306.8 216.0l-2.8 2.7M425.5 180.8l1.4 1.4M399.8 223.7l-0.6 3.3M430.2 269.6l-0.2 1.1M342.3 276.7l2.7 0.9" stroke="#dfe0f0" stroke-width="3.5" stroke-linecap="round" fill="none" stroke-opacity="0.35"/>
<path d="M403.7 229.3l1.8 0.8M378.9 278.6l1.8 0.2M410.6 231.2l-3.0 1.3M399.3 254.6l-3.6 0.6M294.5 269.6l-0.5 0.9M343.7 271.6l1.6 0.2M304.0 211.6l-1.6 1.5M367.5 256.0l2.1 1.2M425.6 199.1l-1.5 3.0M347.2 277.2l3.8 0.4M379.4 275.5l-0.3 1.1M350.3 186.8l-0.2 1.8" stroke="#f3d6e0" stroke-width="3.0" stroke-linecap="round" fill="none" stroke-opacity="0.35"/>
<path d="M327.2 196.5l0.3 2.4M316.6 231.0l3.1 0.6M429.2 201.6l-0.3 1.4M403.7 233.1l-0.3 3.6M383.4 248.8l1.0 3.3M293.4 248.8l1.0 2.4M416.5 244.5l1.1 1.4M425.1 258.1l-1.1 3.6" stroke="#e6d4ea" stroke-width="2.0" stroke-linecap="round" fill="none" stroke-opacity="0.35"/>
<path d="M337.4 260.8l2.8 1.2M344.3 250.0l-3.3 1.4M402.1 239.0l3.4 1.5M327.1 279.9l-1.2 0.4M304.4 227.2l-3.1 0.5M312.4 197.4l-2.2 3.1" stroke="#efcfe0" stroke-width="3.5" stroke-linecap="round" fill="none" stroke-opacity="0.35"/>
<path d="M313.2 201.1l0.8 1.3M315.1 206.8l1.2 0.1M312.7 239.5l2.6 1.2M410.4 265.4l-3.1 0.7M405.4 271.0l2.3 3.2M305.1 237.5l2.1 0.4M412.7 264.3l-2.6 2.0M420.8 243.8l1.5 0.7" stroke="#efcfe0" stroke-width="2.0" stroke-linecap="round" fill="none" stroke-opacity="0.35"/>
<path d="M367.5 255.6l1.9 2.0M426.2 253.5l2.4 1.7M335.6 265.3l0.9 1.1M332.6 191.6l-0.7 1.1" stroke="#dfe0f0" stroke-width="2.0" stroke-linecap="round" fill="none" stroke-opacity="0.35"/>
<path d="M288.3 176.8l0.8 0.7M298.2 219.6l-0.0 0.0M313.4 207.8l0.1 0.7M309.0 198.7l-0.2 0.9M321.1 212.3l0.4 -0.1M330.6 189.0l0.7 0.7M336.8 259.7l0.8 -0.4M345.4 234.6l-0.3 0.5M381.8 244.3l0.4 0.5M402.4 221.3l0.3 -0.1M398.7 241.4l0.4 0.7M429.5 203.4l0.6 -0.3M427.6 266.6l0.4 1.0M432.0 211.1l-0.0 0.1M431.7 231.9l-0.2 0.6M426.8 243.9l-0.2 0.6M391.8 275.5l-0.7 0.7M374.4 277.6l0.1 0.7M382.9 250.9l0.5 1.4M414.9 279.2l-0.1 0.0M340.6 181.2l-1.0 0.2M422.9 185.7l-0.4 0.8M402.2 262.9l0.1 1.1M423.4 220.6l1.1 0.9M333.8 276.7l0.6 1.1M407.3 253.8l-0.1 0.0M337.9 250.6l-0.1 0.0" stroke="#6a2a70" stroke-width="1.5" stroke-linecap="round" fill="none"/>
<path d="M290.8 179.0l0.2 0.2M313.2 225.2l-0.0 1.1M317.8 218.7l-0.5 0.8M337.8 181.6l-0.0 0.1M351.0 183.6l0.8 -0.0M340.4 258.8l0.0 1.1M357.9 235.8l0.7 -0.1M423.0 212.9l1.2 -0.2M400.4 274.7l-0.2 0.4M304.9 274.0l0.2 0.1M368.4 278.2l-1.8 0.1M417.6 254.2l-0.3 1.0M382.8 251.5l0.4 0.0M298.1 254.7l0.1 0.2M399.5 227.4l-0.6 0.7M415.1 212.4l1.1 0.6M292.6 269.7l1.0 1.0M353.9 243.3l0.5 0.2" stroke="#6a2a70" stroke-width="1.0" stroke-linecap="round" fill="none"/>
<path d="M293.6 181.7l0.3 0.2M299.1 245.4l1.1 0.4M319.4 192.9l0.1 0.1M326.1 208.6l0.4 0.8M342.2 264.6l0.2 0.7M363.2 252.4l0.2 -0.1M346.3 261.0l-0.9 0.7M358.7 272.4l0.4 0.1M367.0 279.6l0.2 -0.0M367.9 182.5l0.2 1.0M368.0 258.1l0.5 0.7M379.9 263.4l0.1 0.2M408.4 222.6l0.2 0.0M411.6 180.1l-0.0 0.4M407.6 216.7l-0.9 0.7M422.3 224.0l0.8 0.0M426.6 243.6l0.9 0.4M430.7 242.6l0.8 -0.2M424.5 259.0l0.4 1.0M432.4 211.3l0.6 0.5M315.1 216.0l-0.0 0.0M307.8 218.6l0.1 0.5M366.8 280.0l0.7 0.3M367.8 255.4l0.0 0.5M354.0 261.3l1.2 0.3M396.3 269.2l-0.0 0.0M341.8 241.8l-0.9 0.9M293.4 209.0l-1.0 1.4" stroke="#d08ab4" stroke-width="1.5" stroke-linecap="round" fill="none"/>
<path d="M297.1 184.4l0.4 0.3M296.7 230.5l1.0 -0.1M297.6 253.1l0.2 0.5M300.7 259.3l0.1 0.0M312.1 209.8l0.1 0.1M306.6 215.2l1.0 -0.3M295.9 221.9l-0.6 0.9M296.4 276.7l-0.0 0.4M319.4 215.2l-0.5 0.8M337.1 257.5l0.0 0.0M334.9 278.0l0.1 1.1M370.9 279.5l0.5 -0.1M362.9 252.2l0.4 -0.0M379.3 260.4l0.0 0.4M392.9 249.8l0.7 -0.0M401.4 234.4l1.1 0.0M400.0 278.9l0.7 -0.1M415.4 228.0l0.0 0.1M433.5 208.1l-0.3 0.8M432.2 248.0l-0.3 0.3M296.2 206.6l-1.4 0.4M343.8 186.6l-1.5 0.7M334.2 179.3l1.5 0.2M300.4 242.1l-0.1 1.1M304.4 222.5l-0.0 0.1M422.9 220.9l-1.6 0.8M295.3 215.8l-0.5 0.3" stroke="#c0589a" stroke-width="1.5" stroke-linecap="round" fill="none"/>
<path d="M300.3 183.9l1.2 -0.2M303.6 274.3l0.0 0.0M303.5 281.7l0.1 0.3M313.0 277.9l0.4 0.3M321.7 234.5l0.4 0.0M336.3 281.4l0.3 0.7M351.1 235.3l1.2 0.1M346.1 268.8l0.6 0.2M349.6 245.4l-0.3 0.4M366.9 234.3l0.6 0.0M388.8 250.2l1.0 -0.0M400.5 245.0l0.3 0.4M413.0 233.5l1.1 -0.4M432.3 211.3l0.3 0.2M421.4 215.9l0.5 0.9" stroke="#5a1a4a" stroke-width="1.5" stroke-linecap="round" fill="none"/>
<path d="M294.0 186.0l-0.3 0.2M304.0 232.0l1.1 0.3M299.9 274.4l0.8 0.1M327.0 187.4l0.2 0.1M319.0 193.7l0.3 0.1M318.3 234.4l-0.1 0.5M338.5 185.4l0.1 0.2M334.6 274.9l0.0 0.0M340.7 191.5l0.4 0.7M344.7 271.7l0.4 0.8M364.2 234.7l0.5 1.0M370.8 183.4l-0.4 0.7M386.4 227.5l0.2 0.8M385.1 269.4l0.5 0.6M408.2 269.5l0.2 0.9M418.0 216.9l-0.2 0.5M427.0 243.7l0.4 0.5M426.6 262.1l0.3 0.7M412.5 257.5l0.5 0.8M291.3 190.2l-0.5 0.9M333.1 191.0l-0.4 0.2M382.8 244.2l-0.4 0.0M316.0 199.6l0.9 0.6M328.2 279.9l-0.5 0.6M372.9 242.4l-0.3 1.3M301.8 263.6l1.1 0.0M298.8 187.0l1.4 0.9M301.4 205.4l0.1 0.9M313.8 184.2l0.5 1.6M325.2 189.5l-0.6 0.1M413.4 216.8l0.7 0.3M369.2 231.5l0.0 0.0M375.2 271.6l0.3 0.4" stroke="#a6397c" stroke-width="1.0" stroke-linecap="round" fill="none"/>
<path d="M290.5 204.8l0.3 0.5M310.0 206.0l0.2 0.4M314.2 213.4l0.5 -0.1M317.9 184.1l0.5 0.2M308.6 238.6l-0.2 0.3M332.0 232.9l0.5 0.7M340.2 258.5l0.7 -0.3M327.8 282.2l0.6 -0.3M326.3 281.7l-0.3 0.5M362.5 264.3l0.6 0.9M369.1 245.2l0.2 0.4M379.3 250.7l0.2 -0.0M405.7 260.5l1.1 -0.2M418.2 206.4l0.2 0.8M410.4 215.5l-0.5 0.4M327.2 231.8l0.3 1.3M427.6 228.2l-1.3 0.0M353.1 241.1l-0.5 0.3M351.8 265.6l-1.1 0.1M304.9 236.1l-1.4 0.1M428.8 215.4l0.5 1.0M424.4 226.7l0.0 0.8M325.6 211.9l0.5 0.0M400.2 223.5l-0.9 0.8M424.5 184.3l-1.7 0.5M425.3 193.3l0.5 0.4" stroke="#c0589a" stroke-width="1.0" stroke-linecap="round" fill="none"/>
<path d="M292.5 207.5l-0.3 0.4M288.8 231.3l0.1 0.5M292.6 243.2l1.1 0.4M309.8 191.3l0.1 -0.1M323.6 186.4l0.1 0.0M344.9 186.6l-0.2 0.2M340.8 239.9l-0.7 0.9M340.1 249.4l0.0 0.1M342.2 268.6l-0.3 0.6M352.2 241.6l-0.3 0.3M366.3 245.7l0.4 -0.0M358.1 257.9l0.2 0.3M365.4 238.2l0.4 0.9M392.3 240.5l0.1 -0.0M387.3 247.6l-0.7 0.7M396.5 239.3l0.2 0.4M387.8 271.0l0.5 0.2M398.0 235.0l0.7 0.0M394.8 234.8l0.1 0.2M400.4 244.7l0.3 0.5M407.1 253.7l0.3 0.5M416.8 281.8l0.1 0.2M429.3 207.9l0.7 0.7M421.6 238.3l0.5 0.5M427.0 243.7l0.0 0.3M355.3 268.1l0.1 0.3M343.1 267.0l-0.9 1.3M324.2 233.8l-0.7 0.7M292.8 248.9l-0.6 1.1" stroke="#b03a70" stroke-width="1.5" stroke-linecap="round" fill="none"/>
<path d="M290.0 210.5l-0.6 0.8M292.0 242.8l0.5 1.1M298.8 256.4l0.2 0.3M308.5 203.2l-0.1 0.2M301.4 214.0l-0.0 0.0M329.9 188.6l0.7 0.2M354.9 239.0l-0.4 0.5M359.8 245.5l1.1 -0.1M365.8 231.4l-0.2 0.4M369.5 245.3l-0.1 0.1M379.0 253.9l0.0 0.5M420.3 177.1l0.7 0.1M424.9 258.9l0.7 0.7M428.4 240.0l-0.4 1.0M427.8 230.9l1.2 1.2M306.4 234.2l0.1 0.1M320.3 197.5l0.1 0.9M385.1 179.0l-0.2 0.3M395.0 262.4l1.3 0.8M407.0 216.8l-0.3 1.1M309.3 194.7l-0.8 1.0M377.1 257.1l0.3 0.5M363.7 240.9l0.3 1.5M416.5 207.5l1.0 0.2M417.8 227.7l-1.2 0.5M315.6 236.3l0.6 0.4" stroke="#b03a70" stroke-width="1.0" stroke-linecap="round" fill="none"/>
<path d="M289.2 231.8l1.0 -0.0M313.7 229.8l-0.0 1.0M320.9 211.9l-0.2 0.4M315.2 222.0l-0.0 0.0M355.6 254.4l0.7 -0.2M407.4 253.6l0.8 0.7M409.7 255.9l0.2 0.2M425.4 205.7l-0.3 1.1M429.3 217.7l-0.2 0.3" stroke="#5a1a4a" stroke-width="2.0" stroke-linecap="round" fill="none"/>
<path d="M290.1 235.7l0.1 0.5M310.7 191.7l0.6 0.1M309.6 275.6l0.1 -0.1M347.7 234.6l0.2 0.0M355.9 245.8l0.7 -0.0M361.0 281.4l0.5 -0.1M379.9 241.5l0.5 0.6M390.6 245.0l-0.0 0.0M382.4 281.3l-0.1 0.7M399.5 282.7l-0.2 0.7M426.4 224.4l-0.1 0.3" stroke="#d08ab4" stroke-width="2.0" stroke-linecap="round" fill="none"/>
<path d="M292.1 243.1l0.3 1.1M298.7 255.6l0.8 -0.3M306.6 275.5l0.8 0.1M318.1 196.7l-0.1 0.3M339.7 258.4l0.1 0.2M347.9 278.4l0.2 0.4M377.0 177.9l0.1 0.4M380.3 275.4l0.3 1.0M425.9 224.6l0.9 -0.1M417.5 239.2l0.1 1.1M431.5 197.3l0.6 -0.0M300.5 260.5l-0.9 1.5M419.8 214.6l0.0 0.0M309.8 218.4l-0.7 1.3M343.0 243.6l1.1 0.4M299.2 236.7l0.3 0.3M360.3 182.3l-0.0 0.0M300.8 273.1l0.0 0.8M388.9 244.2l0.4 0.8M413.2 257.8l-1.4 0.9M368.9 265.0l-0.6 1.0M430.8 237.8l0.1 0.4M293.6 221.7l-0.6 0.6M363.6 280.0l1.3 0.3" stroke="#d08ab4" stroke-width="1.0" stroke-linecap="round" fill="none"/>
<path d="M305.6 177.3l1.0 0.2M299.6 217.4l-0.1 0.1M316.8 279.5l1.0 0.6M324.1 205.0l0.4 1.0M335.6 189.0l-0.3 0.8M345.1 245.1l0.8 -0.0M336.9 244.8l-0.4 0.5M356.7 282.1l1.0 -0.1M370.9 251.8l0.2 -0.0M365.5 274.4l-0.1 0.2M400.9 249.9l0.0 -0.0M414.7 206.2l0.8 0.0M430.1 224.3l1.1 -0.1M429.4 194.4l-0.5 0.9" stroke="#5a1a4a" stroke-width="1.0" stroke-linecap="round" fill="none"/>
<path d="M312.8 178.4l0.7 0.2M322.4 200.3l0.3 0.6M331.4 280.2l1.0 -0.5M334.9 278.6l0.5 -0.3M339.8 258.0l1.1 0.5M340.6 192.2l-0.4 0.5M360.5 281.1l1.1 -0.1M363.3 183.3l0.0 0.3M371.2 235.1l0.0 0.0M382.4 281.1l0.2 0.5M411.3 223.1l0.7 0.2M414.5 223.8l0.5 0.1M408.2 278.5l0.7 -0.1M415.4 278.1l0.2 -0.0M422.3 192.4l1.1 -0.3M432.4 202.0l0.4 -0.2M428.0 248.6l0.1 0.5M433.1 188.0l-0.5 0.9M428.2 197.7l-0.5 0.8M431.4 273.6l0.9 -0.3M398.2 270.9l-0.1 0.0M298.1 211.9l0.4 0.2M294.0 197.2l0.3 1.2M297.6 193.5l-0.6 1.1M306.0 192.9l-0.5 0.7M400.0 258.3l-0.6 0.0M328.0 221.4l0.0 0.0M316.9 225.6l-0.1 0.1M394.7 276.7l0.0 0.4M332.1 188.4l0.3 0.0M306.5 185.4l-0.7 0.8M325.9 195.5l-1.1 0.3" stroke="#a6397c" stroke-width="1.5" stroke-linecap="round" fill="none"/>
<path d="M306.8 205.6l-0.5 0.7M301.0 236.8l0.0 0.2M363.6 183.3l-0.4 0.3M414.2 260.8l0.8 0.7M425.3 205.3l0.2 0.2M432.1 252.6l0.7 -0.1" stroke="#6a2a70" stroke-width="2.0" stroke-linecap="round" fill="none"/>
<path d="M300.0 217.4l-0.0 0.0M303.1 224.5l-0.3 0.9M319.0 193.4l0.2 0.4M334.2 270.3l0.9 0.1M408.2 234.6l0.7 -0.2M418.1 253.2l0.4 0.4M431.9 190.7l-0.3 0.5M429.6 236.2l-0.0 0.0" stroke="#a6397c" stroke-width="2.0" stroke-linecap="round" fill="none"/>
<path d="M292.9 227.2l-0.4 0.6M300.4 231.3l0.9 0.2M334.0 192.8l0.1 0.6M345.5 176.8l0.1 0.3M398.2 222.3l0.5 -0.1M398.3 176.2l0.1 0.1M405.1 234.8l1.1 0.0M410.9 270.7l0.1 0.0M425.6 212.2l0.4 -0.1M419.3 212.9l0.4 0.7" stroke="#9a6ab0" stroke-width="2.0" stroke-linecap="round" fill="none"/>
<path d="M313.1 234.0l0.1 0.0M314.5 183.2l0.1 0.2M312.9 208.3l0.3 -0.1M313.2 208.0l0.0 0.3M302.1 246.9l-0.0 0.0M331.2 181.2l-0.0 0.2M331.5 195.8l-0.4 0.4M364.1 234.4l0.1 0.3M355.5 254.8l-0.1 0.1M361.4 273.5l0.3 0.1M375.2 250.7l0.0 -0.0M380.1 271.7l0.2 0.5M424.6 221.5l0.5 0.9M424.5 246.6l-0.2 0.2M432.9 270.5l-0.5 1.1M375.5 244.9l-0.1 1.7M418.3 191.6l-1.0 1.2M346.7 235.9l0.7 0.6M332.7 274.4l-0.1 0.3M305.3 227.3l-0.4 0.2" stroke="#9a6ab0" stroke-width="1.0" stroke-linecap="round" fill="none"/>
<path d="M300.9 234.0l0.1 0.6M301.3 243.9l0.1 0.8M312.7 233.6l-0.1 0.1M314.4 204.6l-0.3 0.7" stroke="#c0589a" stroke-width="2.0" stroke-linecap="round" fill="none"/>
<path d="M314.3 183.6l0.5 1.0M324.3 204.2l0.9 -0.3M313.6 213.1l0.0 0.1M328.5 226.7l0.1 0.1M334.9 236.1l0.3 0.0M357.7 234.9l-0.4 0.4M373.5 282.7l-0.1 1.1M374.2 235.2l0.3 0.3M379.9 271.6l-0.0 0.0M376.6 275.5l-0.2 0.3M385.0 250.4l1.2 -0.0M418.2 206.4l0.7 0.0M396.7 237.7l0.2 0.4M406.1 261.0l0.0 0.1M411.4 277.8l0.1 -0.0M408.4 269.9l0.7 0.4M416.5 232.3l0.2 0.3M427.4 221.3l-0.3 0.7M430.8 251.1l-0.1 0.1M312.6 215.8l-0.8 0.1M295.0 182.4l-0.0 0.0M321.3 236.9l0.4 0.4M317.9 189.5l0.5 1.2M325.9 237.6l0.7 1.7M302.5 271.8l0.1 0.1" stroke="#8a2a6e" stroke-width="1.5" stroke-linecap="round" fill="none"/>
<path d="M304.2 244.3l-0.3 0.4M353.3 282.2l0.2 -0.0M408.7 235.2l1.1 0.0M406.6 254.1l1.0 0.6M404.1 278.4l0.7 -0.1M416.5 176.6l0.1 0.0M419.9 176.5l0.1 0.2M417.8 235.7l0.1 1.1M421.0 250.3l-0.0 0.0" stroke="#8a2a6e" stroke-width="2.0" stroke-linecap="round" fill="none"/>
<path d="M328.6 213.4l0.5 1.0M330.5 188.5l-0.1 1.2M335.5 200.6l0.1 0.9M341.1 245.3l0.5 -0.0M341.0 262.1l0.2 0.8M355.7 183.5l0.1 -0.0M352.3 271.2l0.5 0.9M349.1 269.6l0.4 0.1M360.6 185.6l-0.2 0.2M366.0 271.0l-0.3 0.9M379.2 250.6l0.0 0.1M395.7 240.1l-0.5 0.5M384.5 250.7l-0.1 0.3M399.9 180.0l0.1 0.2M418.7 191.1l0.7 0.3M423.6 242.5l0.9 0.4M422.6 182.2l0.4 0.9M426.2 224.1l0.5 0.8M424.1 240.9l0.0 0.0M421.7 256.0l0.1 0.1M388.6 276.0l0.2 0.1M358.5 246.1l-0.3 0.7M332.5 238.2l-0.4 0.3M357.1 247.7l0.9 0.6M366.3 246.0l-0.6 0.7M395.0 223.9l-0.3 0.0M376.8 235.3l0.4 0.7" stroke="#9a6ab0" stroke-width="1.5" stroke-linecap="round" fill="none"/>
<path d="M324.3 204.5l-0.4 0.4M369.2 244.9l0.4 -0.0M370.5 261.0l0.5 0.6M415.0 224.1l0.1 0.3" stroke="#b03a70" stroke-width="2.0" stroke-linecap="round" fill="none"/>
<path d="M349.4 245.6l0.8 -0.0M359.3 253.0l0.7 -0.2M415.9 220.0l-0.1 0.2M431.1 214.2l-0.4 0.8M397.7 228.3l0.6 0.5M429.0 218.0l0.9 0.1M393.8 251.0l1.0 0.6M333.6 204.2l-0.2 0.0M342.6 237.8l1.2 0.7M428.2 215.1l-0.0 0.1M347.8 238.3l0.3 1.5M291.0 204.3l-0.9 0.8M292.5 234.5l0.8 0.1M327.7 241.0l-0.9 0.3M340.3 264.5l-0.6 1.4M330.1 193.8l1.0 0.0M322.6 212.7l-0.5 1.2" stroke="#8a2a6e" stroke-width="1.0" stroke-linecap="round" fill="none"/>
<path d="M356.3 275.9l-0.3 0.6M359.4 236.7l-0.1 0.0M324.1 179.9l0.1 0.4M328.4 217.5l-1.0 0.2M336.3 253.6l-0.8 1.0M409.7 276.2l-1.4 0.4M401.4 260.4l-0.0 0.1M335.4 243.6l0.1 0.1M354.0 245.9l0.0 0.0M328.9 225.3l-1.6 0.6M295.6 254.8l-0.3 0.3" stroke="#7a3a8a" stroke-width="1.0" stroke-linecap="round" fill="none"/>
<path d="M337.0 197.7l0.2 0.2M323.9 228.6l0.3 0.6M292.2 277.2l-0.1 1.1M295.4 228.5l0.1 0.1M394.1 179.0l-0.7 0.6" stroke="#7a3a8a" stroke-width="1.5" stroke-linecap="round" fill="none"/>
<ellipse cx="419" cy="210" rx="6" ry="3" fill="#9ad0e8" opacity="0.5"/>
<ellipse cx="345" cy="238" rx="5" ry="2.5" fill="#a8d0e8" opacity="0.5"/>
<ellipse cx="350" cy="251.8" rx="4.6" ry="5.2" fill="#fdfdf8" stroke="#7a80c0" stroke-width="1.2" transform="rotate(20 350 251.8)"/>
<path d="M338.8 197.8C342.0 195.1 346.5 191.4 352.0 189.0C357.5 186.6 364.8 184.9 372.0 183.5C379.2 182.1 388.5 181.1 395.0 180.8C401.5 180.5 407.3 180.5 411.0 181.5C414.7 182.5 415.9 184.6 417.0 187.0C418.1 189.4 417.9 192.8 417.5 196.0C417.1 199.2 416.2 203.2 414.5 206.5C412.8 209.8 411.8 212.3 407.5 215.5C403.2 218.7 396.8 222.8 389.0 225.5C381.2 228.2 369.5 230.1 361.0 231.5C352.5 232.9 343.2 234.5 338.0 234.0C332.8 233.5 331.4 231.5 330.0 228.5C328.6 225.5 329.0 219.8 329.5 216.0C330.0 212.2 331.4 208.5 333.0 205.5C334.6 202.5 335.6 200.6 338.8 197.8Z" fill="#fbfae4" stroke="#b02a50" stroke-width="3.6" stroke-opacity="0.6"/>
<path d="M338.8 197.8C342.0 195.1 346.5 191.4 352.0 189.0C357.5 186.6 364.8 184.9 372.0 183.5C379.2 182.1 388.5 181.1 395.0 180.8C401.5 180.5 407.3 180.5 411.0 181.5C414.7 182.5 415.9 184.6 417.0 187.0C418.1 189.4 417.9 192.8 417.5 196.0C417.1 199.2 416.2 203.2 414.5 206.5C412.8 209.8 411.8 212.3 407.5 215.5C403.2 218.7 396.8 222.8 389.0 225.5C381.2 228.2 369.5 230.1 361.0 231.5C352.5 232.9 343.2 234.5 338.0 234.0C332.8 233.5 331.4 231.5 330.0 228.5C328.6 225.5 329.0 219.8 329.5 216.0C330.0 212.2 331.4 208.5 333.0 205.5C334.6 202.5 335.6 200.6 338.8 197.8Z" fill="none" stroke="#2a0c1c" stroke-width="2.1"/>
<path d="M316.7 240.3C319.9 240.6 323.5 242.4 326.0 244.0C328.5 245.6 330.1 247.0 331.5 250.0C332.9 253.0 334.3 258.2 334.5 262.0C334.7 265.8 334.1 270.2 332.5 273.0C330.9 275.8 328.1 278.2 325.0 279.0C321.9 279.8 317.2 279.2 314.0 278.0C310.8 276.8 308.0 274.5 306.0 271.5C304.0 268.5 302.6 263.8 302.0 260.0C301.4 256.2 301.7 251.9 302.5 249.0C303.3 246.1 304.6 243.9 307.0 242.5C309.4 241.1 313.5 240.1 316.7 240.3Z" fill="#fbfae4" stroke="#b02a50" stroke-width="3.6" stroke-opacity="0.6"/>
<path d="M316.7 240.3C319.9 240.6 323.5 242.4 326.0 244.0C328.5 245.6 330.1 247.0 331.5 250.0C332.9 253.0 334.3 258.2 334.5 262.0C334.7 265.8 334.1 270.2 332.5 273.0C330.9 275.8 328.1 278.2 325.0 279.0C321.9 279.8 317.2 279.2 314.0 278.0C310.8 276.8 308.0 274.5 306.0 271.5C304.0 268.5 302.6 263.8 302.0 260.0C301.4 256.2 301.7 251.9 302.5 249.0C303.3 246.1 304.6 243.9 307.0 242.5C309.4 241.1 313.5 240.1 316.7 240.3Z" fill="none" stroke="#2a0c1c" stroke-width="2.1"/>
<text x="294.2" y="188.3" font-size="9.6" fill="#1e1e1e" stroke="#1e1e1e" stroke-width="0.3" letter-spacing="0.2">JQ5 treated</text>
</g>
<g clip-path="url(#cld1)">
<rect x="6" y="325" width="139" height="101" fill="#fcf9ec"/>
<path d="M125.8 342.8l-0.4 1.6M144.3 361.0l2.0 0.7M134.6 361.9l0.0 2.0M72.8 389.8l0.5 2.0M25.1 364.9l0.6 2.6M44.2 327.2l-2.4 0.5M100.4 341.2l-3.1 0.8M32.4 328.0l2.2 2.8M132.1 408.5l0.4 2.5M30.1 413.9l2.2 2.4M11.4 398.0l1.1 0.3M21.6 333.3l-1.4 0.3M116.1 331.6l2.7 2.6M86.5 400.4l1.8 3.1M9.9 421.2l1.3 1.4M34.0 415.2l-0.3 3.1M93.1 339.7l0.2 1.1M53.1 377.3l-0.6 2.2M120.1 417.3l1.4 0.1M102.4 343.0l2.7 2.2" stroke="#f3d0d8" stroke-width="2.5" stroke-linecap="round" fill="none" stroke-opacity="0.35"/>
<path d="M27.8 376.9l0.6 2.0M90.3 331.0l0.2 3.0M133.0 374.2l-2.8 1.1M28.1 329.2l-3.0 0.3M12.7 349.3l-1.2 1.9M9.5 372.0l0.9 1.7M142.9 339.5l2.8 0.6M87.0 325.4l-0.5 2.2M62.8 398.2l2.6 1.4M46.7 400.3l1.0 0.2M81.8 395.5l-0.0 1.6M18.0 354.8l-3.2 0.8M71.6 398.7l2.0 2.6" stroke="#efd8e0" stroke-width="3.0" stroke-linecap="round" fill="none" stroke-opacity="0.35"/>
<path d="M45.3 341.1l-1.3 0.2M76.1 412.3l2.7 2.7M90.5 341.8l0.5 1.3M23.8 417.9l2.8 0.6M133.0 329.3l0.6 1.4M7.0 382.5l1.9 3.1" stroke="#f6dce0" stroke-width="2.0" stroke-linecap="round" fill="none" stroke-opacity="0.35"/>
<path d="M137.1 408.0l0.2 2.2M62.0 380.3l-1.7 0.3M141.9 387.8l3.2 1.2M142.6 355.4l2.2 3.0M57.5 329.2l1.1 0.3M101.6 340.7l0.5 1.7M124.8 327.7l3.4 1.6M50.6 399.9l-0.3 1.9M142.8 347.9l-3.5 0.7" stroke="#efd8e0" stroke-width="2.0" stroke-linecap="round" fill="none" stroke-opacity="0.35"/>
<path d="M32.2 351.1l-1.1 0.1M44.6 325.9l-0.5 2.8M30.9 389.9l-0.8 1.7M16.3 369.0l2.4 1.6M36.5 340.8l0.6 0.8M144.2 373.5l1.5 1.0M8.7 403.1l-1.2 1.6M142.7 378.8l3.0 1.4M143.3 374.5l2.8 2.4M99.5 419.0l3.5 1.7M133.1 397.1l-0.8 0.8M66.4 328.9l-3.0 1.6M49.2 398.9l1.3 0.5M49.9 403.0l0.9 3.1M10.8 373.2l1.0 2.2M52.5 379.1l2.3 0.1M102.4 343.7l-0.7 2.4M47.9 331.3l-0.4 2.7M10.2 350.3l1.9 0.3" stroke="#f3d0d8" stroke-width="3.0" stroke-linecap="round" fill="none" stroke-opacity="0.35"/>
<path d="M102.6 410.3l0.4 2.4M44.7 378.9l-0.6 3.0M87.4 422.3l-1.8 1.3M122.0 325.9l0.2 3.4M49.1 337.2l-0.4 3.7M21.5 379.5l-0.4 3.6M66.3 394.9l-0.2 3.5M123.9 413.7l-0.3 2.9M32.6 396.3l3.0 1.5M21.3 359.2l-1.6 1.3M74.2 413.8l-1.3 1.0M89.1 415.9l1.1 1.5M31.8 332.4l2.9 2.6M40.0 375.6l0.5 2.7" stroke="#efd8e0" stroke-width="2.5" stroke-linecap="round" fill="none" stroke-opacity="0.35"/>
<path d="M38.4 371.0l-1.7 1.1M17.0 417.1l1.2 3.2M67.7 420.7l-0.9 1.7M12.2 364.5l-1.2 0.4M39.6 402.4l0.5 3.7M78.5 401.1l-2.8 0.8M6.0 364.4l1.0 0.3M125.5 353.8l1.1 2.0M56.2 338.1l3.7 1.0M107.2 346.2l-1.4 2.6M14.1 354.1l1.7 1.2M60.2 389.0l-2.2 0.3M141.0 424.8l-3.6 0.4M24.8 376.1l-0.5 1.5M68.1 384.7l-1.6 3.4M81.0 333.5l1.5 2.8M34.0 371.0l-0.8 2.5M116.4 334.9l0.4 3.9M125.7 364.8l0.7 2.2M46.5 327.8l0.2 2.4M35.6 337.4l-2.7 1.3M10.9 375.0l1.9 0.8M51.8 330.6l3.5 0.1M51.6 378.0l0.6 2.3M36.3 411.5l-1.7 1.6M117.4 341.2l1.2 2.5M110.0 422.9l0.5 1.4M42.6 379.5l2.4 0.8" stroke="#f6dce0" stroke-width="3.0" stroke-linecap="round" fill="none" stroke-opacity="0.35"/>
<path d="M44.8 422.1l-2.8 2.8M104.8 343.7l-1.3 0.8M58.8 416.3l2.5 1.7M82.6 413.0l-1.5 2.7M32.5 417.6l2.2 2.7" stroke="#efd8e0" stroke-width="3.5" stroke-linecap="round" fill="none" stroke-opacity="0.35"/>
<path d="M16.3 369.6l1.5 1.8M10.6 352.6l-0.8 0.6M38.3 407.0l1.0 2.7M125.9 364.6l1.7 0.2M122.5 365.5l0.9 3.5M15.3 404.1l1.0 0.4M51.5 329.6l-1.9 3.0M10.0 357.3l-0.5 1.7" stroke="#f6dce0" stroke-width="2.5" stroke-linecap="round" fill="none" stroke-opacity="0.35"/>
<path d="M29.0 342.5l3.3 1.8M84.4 401.3l2.4 0.6M49.8 385.8l0.5 1.6M123.5 337.2l-0.7 2.1M93.3 416.2l3.0 2.0M131.0 380.2l3.4 0.6" stroke="#f3d0d8" stroke-width="3.5" stroke-linecap="round" fill="none" stroke-opacity="0.35"/>
<path d="M16.7 405.6l-0.6 3.2M122.0 326.6l1.1 2.7M12.7 334.2l1.8 0.1M65.8 326.7l-1.8 1.1M132.3 387.2l-0.0 1.7M34.4 403.3l-2.5 1.1M39.8 333.4l-1.2 3.8M99.7 416.8l2.4 0.6" stroke="#f3d0d8" stroke-width="2.0" stroke-linecap="round" fill="none" stroke-opacity="0.35"/>
<path d="M42.7 390.8l-1.2 2.5M72.8 334.2l-0.9 1.2M59.7 386.3l3.7 1.3M141.8 417.9l1.6 0.1" stroke="#f6dce0" stroke-width="3.5" stroke-linecap="round" fill="none" stroke-opacity="0.35"/>
<path d="M3.4 323.0l0.1 0.1M12.8 335.1l0.1 0.2M12.3 408.3l-0.3 0.5M37.7 329.7l0.8 0.1M34.0 328.7l0.1 0.2M48.1 414.3l0.0 0.1M76.7 332.0l0.8 0.2M86.3 342.9l0.1 0.4M104.2 345.9l0.3 0.0M135.9 407.2l0.4 -0.0M144.2 407.6l0.6 -0.0M131.8 407.3l0.1 0.1M141.9 332.0l-0.0 0.0M85.1 332.3l-1.1 0.9M144.3 406.8l0.9 0.5M25.5 367.5l0.3 0.6M113.2 355.2l0.2 0.3M128.4 386.0l0.9 0.7M36.9 390.1l-0.7 0.1M11.2 414.5l-0.9 0.7M58.3 384.7l-0.3 0.6" stroke="#6a2050" stroke-width="1.0" stroke-linecap="round" fill="none"/>
<path d="M6.4 326.5l0.6 0.7M36.8 417.0l-0.7 0.7M48.6 339.6l0.0 1.0M48.2 395.2l-0.0 1.2M54.9 413.6l0.1 0.2M62.7 425.4l0.0 0.0M78.8 402.2l0.8 0.5M89.4 415.5l0.9 -0.1M72.0 427.3l0.3 0.0M97.6 345.1l0.5 0.2M84.7 339.2l-0.1 0.7M138.5 370.2l0.1 0.9M140.2 335.0l-0.1 0.1M32.0 379.0l0.2 0.0M119.4 335.3l-0.6 0.1M125.1 337.8l-1.4 1.0M17.7 382.1l-0.2 0.2M134.2 356.5l0.1 0.8M142.9 414.1l-0.3 1.1M108.4 329.8l-0.6 0.5M118.3 355.8l-0.5 0.4M110.4 425.1l0.3 0.3M71.9 391.0l0.5 1.2M133.6 415.2l0.2 0.9M55.0 330.7l-0.4 0.1M136.4 327.4l0.3 0.2" stroke="#d88aa0" stroke-width="1.0" stroke-linecap="round" fill="none"/>
<path d="M8.7 329.3l0.4 0.5M11.5 418.6l0.3 0.5M15.9 362.2l-0.2 0.3M23.7 379.5l0.3 0.1M40.6 384.1l0.4 0.5M36.6 362.9l-0.3 0.4M57.3 335.1l0.1 0.9M47.5 374.1l-0.0 0.1M47.7 382.2l-0.4 0.6M72.5 397.4l0.9 0.6M83.1 402.5l0.4 0.1M109.6 422.6l0.2 0.4M131.0 373.6l0.2 -0.0M120.3 419.8l0.9 -0.3M136.7 419.5l-0.1 0.2M31.9 407.9l-0.1 0.4M120.4 412.6l0.8 0.8M142.7 363.0l0.2 1.0M78.6 340.2l-0.5 0.4M138.3 380.0l1.1 0.4M33.9 425.0l0.5 1.6M49.9 400.7l0.3 1.4" stroke="#c84a68" stroke-width="1.5" stroke-linecap="round" fill="none"/>
<path d="M3.2 344.1l1.1 -0.2M20.7 343.1l0.7 0.1M23.9 424.9l0.0 0.6M35.8 336.5l0.3 0.9M28.9 344.5l-0.6 0.8M34.7 395.5l0.2 0.7M49.7 407.2l0.2 0.3M70.9 322.4l0.5 -0.2M72.2 418.2l-0.0 1.0M91.1 335.1l0.1 0.0M97.6 405.7l0.2 0.0M89.5 410.5l0.3 0.4M100.3 348.2l0.7 0.7M136.1 335.4l0.5 0.0M128.0 406.9l0.8 0.2M135.1 423.5l0.3 1.1M139.3 386.4l0.1 1.0M142.5 397.6l0.9 -0.5M10.8 389.7l-1.2 0.9M137.1 330.3l-0.9 0.8M140.2 402.0l-0.1 0.1M19.0 329.8l0.1 0.1M133.5 396.9l0.5 0.0M93.1 343.3l0.6 0.4M126.2 358.0l0.9 1.5M28.8 390.2l-1.0 1.4M130.9 355.9l-1.0 0.7M132.0 386.5l1.2 0.2M129.6 337.4l1.1 0.2M30.6 354.1l-0.8 0.5" stroke="#a03070" stroke-width="1.5" stroke-linecap="round" fill="none"/>
<path d="M6.4 343.8l1.1 -0.2M15.1 417.2l0.0 -0.0M6.3 424.5l-0.6 0.9M14.1 341.8l0.9 0.1M24.8 402.4l0.3 0.4M15.4 426.8l-0.5 0.6M29.6 408.8l0.5 0.6M40.9 417.1l0.8 0.1M46.2 422.7l0.6 -0.0M49.5 423.2l0.3 -0.0M47.6 390.9l0.0 0.8M49.5 423.3l-0.0 0.8M94.7 336.7l-1.0 0.3M90.9 341.8l0.3 0.1M77.0 392.7l-0.4 0.6M79.6 413.6l-0.3 1.0M107.0 338.3l0.3 0.3M97.5 344.7l-0.1 0.3M125.7 397.8l-0.0 0.1M130.1 403.9l0.1 0.4M145.6 338.7l-0.2 0.5M31.6 342.1l0.8 0.1M42.3 336.5l1.8 0.1M70.8 389.1l1.6 0.5M138.1 364.9l-0.5 0.2M11.2 389.4l-1.6 0.3M114.9 325.5l0.0 0.0M58.8 412.5l-1.1 0.2M138.0 344.9l0.2 0.1M43.7 414.1l-0.4 1.1M67.7 332.3l0.3 0.2" stroke="#c84a68" stroke-width="1.0" stroke-linecap="round" fill="none"/>
<path d="M14.0 341.8l1.0 -0.2M30.3 381.8l1.1 0.4M15.6 426.4l0.1 0.1M40.7 330.3l0.3 0.0M42.8 386.7l0.1 0.1M36.2 416.5l0.2 0.2M44.6 417.9l0.7 0.1M46.5 378.4l0.1 0.4M48.0 403.7l-0.8 0.3M49.0 423.2l0.3 0.1M75.9 337.9l0.6 0.5M76.7 331.5l0.3 0.3M101.4 335.5l0.4 -0.0M96.2 340.5l0.3 1.1M84.5 339.2l0.5 0.2M116.9 331.3l0.6 0.7M113.6 351.8l-0.1 0.3M131.6 340.1l-0.0 0.2M125.6 344.0l0.2 1.2M126.6 348.2l0.1 0.6M128.2 387.0l1.1 -0.1M139.3 345.3l0.6 0.1M21.7 367.7l0.2 0.3M134.2 358.3l-1.4 0.9M74.3 328.5l0.4 0.2M114.5 334.5l-1.3 1.0M134.2 405.7l-0.7 1.0M140.7 355.4l1.1 1.2M56.5 326.3l0.9 0.2M121.9 331.8l0.6 0.1M9.3 364.7l0.1 0.5M133.3 420.7l-0.3 0.3M17.8 395.6l-0.7 0.5M106.7 333.3l0.2 0.7M60.6 330.7l0.2 1.6" stroke="#a03070" stroke-width="1.0" stroke-linecap="round" fill="none"/>
<path d="M10.5 361.9l1.1 -0.0M5.2 361.9l0.1 0.5M25.1 376.6l0.9 -0.1M14.3 380.8l-0.6 0.6M10.5 388.1l-0.1 1.0M18.7 423.2l-0.2 0.3M55.5 327.8l0.0 0.1M77.1 331.7l-0.0 0.3M82.3 336.7l0.0 0.0M89.6 403.9l0.6 0.1M93.1 416.1l0.5 0.6M114.8 345.9l0.1 0.1M113.7 428.6l0.4 0.6M128.6 394.7l0.2 0.7M131.2 407.8l0.2 0.7M47.8 332.8l-0.6 1.4M8.3 333.7l0.1 1.0M68.9 393.7l0.7 0.1M43.4 402.3l0.9 0.1M90.2 331.0l-1.1 0.2M105.6 333.9l0.1 0.9M19.1 396.0l-0.3 0.2M93.1 422.2l-0.6 1.7" stroke="#7a2a5a" stroke-width="1.5" stroke-linecap="round" fill="none"/>
<path d="M8.8 373.2l0.1 0.5M9.1 377.5l0.3 1.1M14.4 325.4l0.5 -0.4M24.9 344.1l0.9 0.1M20.6 378.1l0.6 0.2M14.6 390.4l0.3 0.5M18.8 396.7l0.2 0.3M38.3 381.1l0.3 0.3M35.8 398.3l0.3 0.7M48.5 331.6l0.3 0.4M35.1 367.0l-0.1 0.2M47.2 382.3l0.0 0.1M72.7 336.0l0.2 -0.2M78.8 340.1l0.5 -0.1M66.2 422.9l-0.2 0.1M82.8 416.4l0.3 -0.0M82.7 402.8l0.7 0.8M80.4 409.8l-0.2 0.8M131.5 335.2l0.3 0.0M121.0 415.8l0.0 0.2M136.8 413.1l0.7 0.8M135.2 423.1l-0.5 0.9M21.7 416.1l0.1 0.9M80.6 330.6l0.4 0.5M16.6 359.4l0.6 0.7M58.3 389.0l-0.5 0.3M31.8 349.8l0.5 0.2M118.5 413.9l-1.1 1.3M6.1 405.9l0.5 0.5M126.9 386.4l-0.6 1.1" stroke="#7a2a5a" stroke-width="1.0" stroke-linecap="round" fill="none"/>
<path d="M17.2 377.0l0.5 -0.0M19.7 355.7l-0.1 0.1M21.5 399.8l0.8 0.9M24.4 420.6l0.0 0.3M46.5 378.6l0.6 0.1M29.4 424.0l-0.2 0.2M26.4 427.0l-0.6 0.6M47.3 403.0l0.1 0.1M54.7 413.5l-0.5 0.5M87.2 334.9l0.1 0.0M145.1 366.4l0.2 0.8M138.5 382.4l0.0 0.0M134.5 410.4l0.5 0.6M146.8 422.8l0.5 0.9M56.8 407.1l0.7 0.9M79.4 409.9l0.5 1.4M131.0 372.0l-1.0 1.4M96.2 331.1l0.9 1.0M130.3 396.7l-0.0 0.9M99.5 410.5l-0.9 0.0M49.7 412.2l-0.9 1.5M86.1 407.4l-0.2 0.4M70.9 334.5l0.3 1.6M55.8 412.5l-0.2 0.1M43.0 387.1l-0.9 0.2M138.0 354.0l-0.2 1.0M73.4 419.7l0.4 0.2" stroke="#8a2040" stroke-width="1.5" stroke-linecap="round" fill="none"/>
<path d="M6.6 399.9l-0.3 0.7M15.4 362.1l-0.1 0.1M23.8 416.5l0.0 1.0M39.5 376.8l0.6 0.1M48.3 395.6l0.7 -0.2M24.5 412.7l-0.1 0.2M47.6 402.9l-0.0 0.9M35.1 423.4l0.3 -0.0M41.8 423.2l1.1 -0.0M62.4 425.8l0.1 0.0M69.2 395.0l1.1 -0.3M110.0 340.9l0.2 0.2M107.9 419.8l0.3 0.4M96.9 406.4l-0.4 1.1M94.5 412.2l-0.4 1.0M93.3 415.4l-0.2 0.6M135.1 345.0l0.5 0.0M58.3 405.5l0.7 0.1M62.4 390.4l-0.4 1.6M103.6 332.8l-0.2 0.5M77.9 337.8l-1.1 0.2M49.6 404.2l0.4 0.9M47.2 385.8l0.1 1.8M68.4 391.2l-0.0 0.2M59.4 424.0l1.2 0.1" stroke="#d88aa0" stroke-width="1.5" stroke-linecap="round" fill="none"/>
<path d="M11.3 418.7l1.1 -0.2M10.4 383.7l0.2 0.3M33.4 329.5l1.1 0.2M47.8 403.2l0.0 0.1M77.0 331.6l0.4 -0.4M75.6 399.4l0.9 0.6M69.3 420.9l-0.5 0.4M94.5 336.0l0.3 -0.0M84.9 342.8l-0.1 1.0M136.1 351.6l0.7 -0.1M118.5 361.6l-0.1 0.7M147.3 423.4l0.5 0.4M146.6 335.5l-0.4 1.0M143.3 345.8l-0.1 0.3M144.6 366.4l-0.4 0.4M11.4 422.3l0.3 0.6M123.8 354.5l-0.8 1.2M47.5 401.6l-0.1 0.0M52.4 406.5l1.1 0.2M129.7 327.4l0.1 0.0M34.3 398.4l0.6 0.2M18.0 330.0l0.3 0.0M91.8 344.9l-0.1 1.0M80.4 403.9l1.5 0.4M111.0 415.1l-0.3 1.1M96.5 339.2l-0.5 0.3M25.3 390.5l0.9 0.7M47.7 337.9l1.1 1.4M26.2 349.9l1.3 0.7M126.7 353.3l0.1 0.6" stroke="#8a2040" stroke-width="1.0" stroke-linecap="round" fill="none"/>
<path d="M4.3 427.3l0.0 0.0M34.7 332.6l0.3 0.8M37.0 426.3l0.7 0.9M56.3 400.6l-0.7 0.2M59.8 399.6l0.0 0.2M64.1 324.5l1.1 -0.4M77.3 322.9l-0.0 0.1M71.5 392.2l-0.2 0.3M80.6 428.1l0.1 0.0M92.6 333.3l0.4 0.8M104.4 335.7l0.0 -0.0M97.6 344.6l0.3 0.9M84.5 339.5l0.2 0.7M86.9 403.1l1.1 0.3M129.0 416.9l0.1 -0.0M135.1 422.8l0.3 0.6M145.8 325.3l-0.6 0.9M118.6 361.4l0.9 0.1M85.3 325.5l0.2 0.4M47.2 401.3l-0.6 1.4M134.4 343.5l0.0 0.2M52.4 410.6l-1.4 0.5M35.0 376.0l1.0 0.1M15.9 369.3l0.3 0.1M17.3 395.8l0.7 1.2M20.4 406.6l1.0 0.5M40.1 411.0l-0.0 0.1M62.7 399.1l-0.9 0.8M62.1 395.5l-0.3 0.4M27.9 330.5l-0.3 0.8M107.8 326.3l-0.5 1.0M137.4 412.8l0.1 0.9" stroke="#b02a48" stroke-width="1.5" stroke-linecap="round" fill="none"/>
<path d="M17.5 342.8l0.8 0.1M48.4 331.1l0.7 0.1M31.4 385.6l0.1 0.2M41.5 340.9l0.8 0.2M38.7 423.3l0.3 -0.0M52.2 402.4l-0.3 0.1M83.6 333.7l0.8 0.2M79.2 405.8l-0.0 1.0M71.9 427.4l0.4 0.4M84.5 339.2l-0.7 0.2M88.2 340.7l1.0 0.5M97.2 405.6l-0.0 0.0M118.6 416.7l0.6 0.7M132.0 334.9l-0.0 1.1M131.0 344.7l-0.0 0.9M125.4 344.2l0.7 0.1M129.0 376.7l-0.7 0.9M139.4 386.5l0.9 -0.0M120.2 404.4l0.8 0.2M131.2 344.8l0.7 0.1M134.1 405.2l-0.1 0.1M138.5 416.7l-0.3 0.6M77.4 330.8l0.6 1.3M68.5 409.5l0.2 0.2M126.5 417.2l0.6 0.4M115.8 341.2l0.1 0.0M54.0 327.7l0.4 0.9M108.8 423.0l1.3 1.2M19.9 424.8l-1.5 0.9M14.6 330.7l1.2 0.7" stroke="#6a2050" stroke-width="1.5" stroke-linecap="round" fill="none"/>
<path d="M29.3 376.5l0.9 -0.1M10.6 383.0l-0.7 0.7M17.0 377.4l0.6 0.2M34.0 419.4l-0.4 0.4M36.2 362.9l0.5 0.1M60.4 403.1l0.1 1.1M93.2 415.8l0.0 -0.0M97.8 335.7l0.7 -0.1M94.0 344.0l1.0 0.5M93.8 415.7l-0.2 0.4M105.3 417.4l0.4 0.5M134.6 326.4l0.5 0.7M138.7 416.6l0.4 0.5M26.2 326.2l0.0 0.3M131.7 423.5l1.2 0.9M126.2 327.2l-1.5 0.5M72.5 424.4l0.0 0.1M27.5 417.1l-1.2 0.0M110.2 328.1l0.0 1.1M33.0 392.0l-0.8 0.2M25.3 328.3l-0.9 1.5M89.2 343.0l0.6 0.6M97.8 412.1l-1.0 0.6M42.7 376.0l-0.0 0.1M46.3 406.0l0.4 0.5" stroke="#b02a48" stroke-width="1.0" stroke-linecap="round" fill="none"/>
<path d="M121 351 Q127 356 129 364 Q131 372 131 382" stroke="#1a2a78" stroke-width="4.5" fill="none" stroke-linecap="round"/>
<path d="M104 349 Q111 350 116 354" stroke="#22308a" stroke-width="3" fill="none" stroke-linecap="round"/>
<path d="M134.8 374.1l1.5 1.8M134.6 382.2l0.4 1.8M130.2 359.5l1.6 1.4M128.2 365.8l0.9 1.9M131.8 382.9l1.7 0.1" stroke="#7a5aa8" stroke-width="1.0" stroke-linecap="round" fill="none"/>
<path d="M126.0 369.5l0.4 2.2M129.1 392.5l1.7 0.7M130.9 375.2l0.4 0.2M136.8 364.2l-0.7 0.4M139.9 393.6l0.5 2.2" stroke="#4a3a8a" stroke-width="2.0" stroke-linecap="round" fill="none"/>
<path d="M122.9 383.9l-0.1 0.1M131.7 354.0l-2.0 0.0M130.3 376.6l0.8 0.8M129.6 374.6l-0.0 0.5M137.6 370.3l-0.9 0.7M125.3 358.4l2.4 0.1M138.9 372.1l1.1 2.1" stroke="#4a3a8a" stroke-width="1.5" stroke-linecap="round" fill="none"/>
<path d="M136.1 353.1l0.2 2.4M125.7 360.6l0.2 0.0M134.7 365.0l-0.0 0.2M136.8 375.4l-0.4 0.9M134.2 385.7l1.0 1.4M126.3 365.6l-0.3 1.3" stroke="#5a6ac0" stroke-width="1.0" stroke-linecap="round" fill="none"/>
<path d="M120.9 375.5l1.3 1.0M130.1 356.4l-0.5 0.4M139.8 367.9l0.5 0.5M124.2 378.1l1.4 1.8" stroke="#5a6ac0" stroke-width="2.0" stroke-linecap="round" fill="none"/>
<path d="M134.0 387.4l-0.4 0.5M126.7 374.0l0.9 0.7M127.1 349.7l0.7 0.6" stroke="#5a6ac0" stroke-width="1.5" stroke-linecap="round" fill="none"/>
<path d="M132.6 362.4l-0.7 2.1M127.9 360.8l1.4 0.2" stroke="#2a3a90" stroke-width="2.0" stroke-linecap="round" fill="none"/>
<path d="M122.1 373.7l-1.1 0.4M124.1 347.3l-0.0 0.0M118.2 377.1l0.5 1.7M120.4 361.2l1.6 0.2M123.3 357.5l0.5 2.4M139.0 378.3l-0.2 1.7M137.6 393.5l0.4 1.9M134.8 361.3l0.9 0.6" stroke="#7a5aa8" stroke-width="1.5" stroke-linecap="round" fill="none"/>
<path d="M134.3 348.2l-0.7 0.5M121.2 367.0l1.4 0.2M131.1 349.4l1.5 1.9M135.2 377.9l-2.1 1.2M138.6 388.0l-1.9 1.6" stroke="#3a4aa0" stroke-width="1.0" stroke-linecap="round" fill="none"/>
<path d="M122.5 352.5l-1.4 1.0M139.1 383.2l-1.6 1.3" stroke="#4a3a8a" stroke-width="1.0" stroke-linecap="round" fill="none"/>
<path d="M139.9 387.1l2.4 0.1M137.4 352.1l0.0 1.2M125.2 365.2l0.7 0.3M127.2 386.1l-1.3 1.5" stroke="#3a4aa0" stroke-width="1.5" stroke-linecap="round" fill="none"/>
<path d="M138.9 382.7l0.0 0.0M128.8 347.5l0.1 0.7" stroke="#2a3a90" stroke-width="1.5" stroke-linecap="round" fill="none"/>
<path d="M130.3 364.4l-0.0 0.7M128.1 348.8l0.9 1.1M121.6 355.8l-0.0 0.0" stroke="#7a5aa8" stroke-width="2.0" stroke-linecap="round" fill="none"/>
<path d="M134.9 347.4l-1.3 0.9M138.7 367.9l0.2 0.5M139.6 363.5l1.4 0.0" stroke="#3a4aa0" stroke-width="2.0" stroke-linecap="round" fill="none"/>
<path d="M123.7 361.6l1.8 0.3" stroke="#2a3a90" stroke-width="1.0" stroke-linecap="round" fill="none"/>
<path d="M35.5 352.0C36.0 349.7 36.6 347.2 38.5 345.5C40.4 343.8 42.0 342.4 47.1 341.6C52.2 340.8 62.2 340.0 69.2 340.5C76.2 341.0 84.0 343.4 89.2 344.8C94.4 346.2 96.9 347.7 100.2 349.2C103.5 350.7 106.4 351.8 109.0 353.8C111.6 355.9 113.5 358.2 115.7 361.5C117.9 364.8 120.5 369.6 122.3 373.7C124.1 377.8 126.1 382.0 126.6 385.9C127.1 389.8 126.9 393.9 125.5 397.0C124.1 400.1 121.1 402.9 118.0 404.5C114.9 406.1 111.0 407.0 106.9 406.6C102.8 406.2 98.0 404.6 93.6 402.2C89.2 399.8 85.1 395.8 80.3 392.3C75.5 388.9 69.6 384.6 64.8 381.5C60.0 378.4 55.5 376.3 51.5 373.7C47.5 371.1 43.2 368.4 40.5 366.0C37.8 363.6 36.3 361.6 35.5 359.3C34.7 357.0 35.0 354.3 35.5 352.0Z" fill="#fefef0" stroke="#c8203c" stroke-width="3.0" stroke-opacity="0.75"/>
<path d="M35.5 352.0C36.0 349.7 36.6 347.2 38.5 345.5C40.4 343.8 42.0 342.4 47.1 341.6C52.2 340.8 62.2 340.0 69.2 340.5C76.2 341.0 84.0 343.4 89.2 344.8C94.4 346.2 96.9 347.7 100.2 349.2C103.5 350.7 106.4 351.8 109.0 353.8C111.6 355.9 113.5 358.2 115.7 361.5C117.9 364.8 120.5 369.6 122.3 373.7C124.1 377.8 126.1 382.0 126.6 385.9C127.1 389.8 126.9 393.9 125.5 397.0C124.1 400.1 121.1 402.9 118.0 404.5C114.9 406.1 111.0 407.0 106.9 406.6C102.8 406.2 98.0 404.6 93.6 402.2C89.2 399.8 85.1 395.8 80.3 392.3C75.5 388.9 69.6 384.6 64.8 381.5C60.0 378.4 55.5 376.3 51.5 373.7C47.5 371.1 43.2 368.4 40.5 366.0C37.8 363.6 36.3 361.6 35.5 359.3C34.7 357.0 35.0 354.3 35.5 352.0Z" fill="none" stroke="#5a0c1c" stroke-width="1.3"/>
<path d="M36 364 Q34 352 39 345 Q46 341 60 340.5" stroke="#3a0814" stroke-width="2.6" fill="none"/>
<path d="M70.7 388.2l0.0 0.1M113.8 405.6l-1.5 0.7M51.0 374.6l1.7 1.0M81.2 342.4l-0.3 0.2M34.5 361.1l-0.6 1.5M37.2 352.1l0.4 0.1M113.2 406.1l-1.4 1.3M82.3 391.9l-0.6 0.2M96.0 348.5l-0.1 0.1M37.1 364.9l-1.0 1.5M124.9 396.9l0.6 0.5M124.4 402.4l-1.1 0.3" stroke="#9a1a2a" stroke-width="1.5" stroke-linecap="round" fill="none"/>
<path d="M125.4 395.8l0.2 1.4M99.5 407.0l-1.0 0.9M117.2 360.3l-0.3 0.3M126.8 397.6l-0.1 0.6M51.0 373.5l-0.3 0.4M86.9 398.7l0.2 1.8M89.1 397.9l0.4 0.8" stroke="#d02038" stroke-width="1.5" stroke-linecap="round" fill="none"/>
<path d="M118.7 368.4l0.2 1.1M56.1 339.8l-0.0 0.4M124.4 374.1l-0.5 0.0M120.0 403.9l-0.1 0.1M42.2 342.2l-0.2 0.3" stroke="#5a0a1a" stroke-width="1.0" stroke-linecap="round" fill="none"/>
<path d="M39.1 346.7l-0.7 0.3M46.9 370.0l-0.2 0.3M40.1 345.3l0.4 0.3M122.5 372.4l0.6 0.3M39.7 345.3l-0.8 0.3M116.6 405.7l-0.6 1.0M64.4 382.1l1.2 0.8M123.0 380.3l-0.3 1.2M69.7 340.5l-0.9 1.0M107.5 354.7l0.2 0.0M57.3 338.7l-0.9 0.0" stroke="#e04050" stroke-width="1.5" stroke-linecap="round" fill="none"/>
<path d="M123.6 373.5l0.1 0.2M57.7 375.0l-0.8 0.7M103.9 351.5l-2.0 0.4M78.3 341.5l1.8 0.5M87.0 396.7l1.5 0.8M63.7 380.8l-1.8 0.4M43.3 341.9l-0.4 0.8" stroke="#e04050" stroke-width="1.0" stroke-linecap="round" fill="none"/>
<path d="M96.6 349.0l-0.9 0.4M87.9 399.9l0.1 0.1M80.8 394.6l-0.9 1.7M87.3 345.9l0.6 0.6M37.9 343.8l0.3 1.3M111.8 405.6l-1.2 1.1M117.6 404.6l-0.1 0.0" stroke="#d02038" stroke-width="1.0" stroke-linecap="round" fill="none"/>
<path d="M128.1 387.8l0.1 0.1M113.8 405.8l-1.8 0.4M123.7 397.7l1.9 0.0M40.5 341.3l1.2 0.0" stroke="#9a1a2a" stroke-width="1.0" stroke-linecap="round" fill="none"/>
<path d="M79.7 343.3l0.9 1.5M51.7 373.3l-1.2 0.5M37.2 349.8l0.2 0.2M125.1 377.4l0.6 0.7" stroke="#5a0a1a" stroke-width="2.0" stroke-linecap="round" fill="none"/>
<path d="M124.9 385.8l0.1 0.2M113.7 358.7l-1.3 0.8M111.9 358.4l-0.2 1.6" stroke="#e04050" stroke-width="2.0" stroke-linecap="round" fill="none"/>
<path d="M86.5 397.6l-0.3 1.9M56.9 342.3l0.5 0.3M126.8 398.8l0.1 1.9M58.1 377.5l-0.8 0.4M36.4 353.2l-0.1 0.1" stroke="#5a0a1a" stroke-width="1.5" stroke-linecap="round" fill="none"/>
<path d="M112.3 358.9l-0.1 1.3M35.6 356.9l0.9 0.5M40.7 342.6l-0.5 1.0M39.1 362.1l0.5 1.8" stroke="#d02038" stroke-width="2.0" stroke-linecap="round" fill="none"/>
<path d="M126.1 380.9l-0.5 0.2" stroke="#9a1a2a" stroke-width="2.0" stroke-linecap="round" fill="none"/>
<text x="8.1" y="334.9" font-size="9.9" fill="#1e1e1e" stroke="#1e1e1e" stroke-width="0.3" letter-spacing="-0.1">BM only</text>
</g>
<g clip-path="url(#cld3)">
<rect x="290" y="325" width="140" height="101" fill="#fcf9ec"/>
<path d="M283.7 320.7L288.4 327.2M290.1 341.9L288.2 347.1M289.6 351.7L293.1 360.0M289.8 379.9L295.1 387.9M287.8 388.8L295.1 387.9M289.1 394.8L293.9 399.1M292.3 404.3L294.8 405.9M291.0 332.0L290.1 341.9M297.1 340.1L298.9 348.2M294.3 347.4L298.9 348.2M293.1 360.0L296.6 366.0M296.6 366.0L306.0 364.4M296.1 394.9L293.9 399.1M291.8 411.2L288.7 417.8M299.2 418.1L302.9 417.5M295.2 424.7L292.2 433.9M299.3 335.3L304.9 338.5M299.3 335.3L297.1 340.1M298.9 348.2L308.1 345.7M306.9 355.3L301.5 357.9M302.5 371.0L306.3 374.4M307.2 379.6L310.3 387.0M299.8 397.1L294.8 405.9M310.7 322.8L312.5 325.8M312.5 325.8L318.3 327.8M311.1 364.2L320.5 369.2M311.1 364.2L316.2 375.6M312.4 379.0L321.5 380.8M312.5 405.1L321.0 406.0M312.5 405.1L318.1 412.5M310.8 412.9L314.0 418.4M316.2 375.6L312.4 379.0M318.4 387.2L310.7 391.2M325.4 346.2L318.7 355.6M329.8 352.5L329.4 357.7M325.8 358.1L329.4 357.7M325.8 358.1L324.8 367.3M324.8 367.3L333.5 368.2M322.5 373.8L321.5 380.8M327.2 378.1L334.0 377.1M327.2 378.1L325.6 383.7M326.2 393.1L335.5 393.4M326.2 393.1L333.2 397.3M324.1 398.4L321.0 406.0M333.6 348.3L337.0 355.5M329.4 357.7L324.8 367.3M333.5 368.2L339.7 369.0M333.4 371.8L334.0 377.1M333.6 404.4L331.7 412.1M341.0 391.8L344.1 400.1M339.8 398.3L333.6 404.4M336.4 414.7L345.5 411.2M337.5 426.9L346.8 425.3M337.5 426.9L342.2 430.0M348.2 335.1L339.9 339.6M351.2 340.9L351.4 346.5M350.1 392.3L357.1 393.6M351.3 322.7L363.3 322.5M351.3 322.7L352.1 329.6M354.0 336.4L351.2 340.9M357.1 393.6L358.7 399.3M356.4 403.4L362.3 408.0M356.4 403.4L362.0 412.5M352.2 411.0L362.0 412.5M352.2 411.0L350.4 418.8M363.3 322.5L364.2 327.7M363.3 322.5L357.7 326.8M364.2 327.7L361.1 332.0M364.2 327.7L369.3 336.3M364.9 392.2L373.0 392.1M358.7 399.3L356.4 403.4M362.0 412.5L365.6 418.8M365.6 418.8L370.2 423.7M363.2 425.5L370.2 423.7M367.9 321.3L373.8 325.3M368.0 410.7L377.6 413.7M377.7 323.4L373.8 325.3M377.6 326.8L375.8 332.8M377.6 326.8L382.4 332.6M380.7 405.8L388.3 406.6M381.7 418.7L375.0 424.7M381.5 320.6L386.8 328.8M384.9 400.6L388.3 406.6M388.3 406.6L394.3 406.2M385.6 413.4L387.8 419.2M387.8 419.2L381.4 425.8M381.4 425.8L378.6 429.8M391.3 318.4L394.2 330.0M396.0 369.2L390.8 374.1M390.8 374.1L392.6 379.9M389.9 387.8L385.8 393.0M389.9 399.0L397.6 401.3M394.3 406.2L400.7 406.9M389.9 410.5L387.8 419.2M400.7 322.4L401.4 328.9M400.7 335.6L407.5 333.9M400.7 335.6L402.5 338.3M403.1 356.2L404.8 362.0M401.2 367.4L408.7 364.8M401.2 367.4L398.0 373.7M401.5 382.0L404.3 384.1M403.2 393.3L409.7 392.8M400.7 406.9L399.0 413.6M396.1 424.6L403.8 426.3M407.5 333.9L414.5 334.0M408.8 351.5L415.0 354.6M408.6 378.8L411.8 388.0M410.4 407.5L412.3 410.3M404.0 413.1L412.3 410.3M416.1 321.3L419.3 325.5M416.1 321.3L410.7 327.2M419.3 325.5L414.5 334.0M419.3 325.5L422.6 333.3M414.5 334.0L422.6 333.3M414.5 334.0L408.7 341.2M413.7 347.0L419.4 347.2M415.0 354.6L426.6 353.5M411.9 401.3L415.6 407.4M415.6 407.4L412.3 410.3M415.6 407.4L422.3 411.8M412.3 410.3L417.1 417.4M425.8 327.9L428.8 333.9M422.6 333.3L415.9 342.8M424.5 340.7L434.2 342.9M419.4 347.2L430.5 346.7M422.5 358.8L422.5 367.0M422.5 367.0L426.0 370.8M425.1 379.4L430.4 378.2M419.7 385.7L428.5 388.7M422.2 394.1L433.0 391.3M419.1 400.0L426.6 401.3M424.8 406.5L429.7 404.8M424.8 406.5L428.4 414.1M422.4 420.2L426.0 424.6M434.2 342.9L430.5 346.7M432.8 366.5L436.9 370.9M430.4 378.2L441.7 380.4M428.5 388.7L433.0 391.3M428.5 388.7L422.2 394.1M433.0 391.3L440.3 392.2M426.6 401.3L434.2 397.5M426.6 401.3L424.8 406.5M429.7 404.8L428.4 414.1M428.4 414.1L422.4 420.2M439.0 342.8L435.2 347.5M441.7 380.4L437.1 388.8M437.1 388.8L433.0 391.3M434.2 397.5L438.7 403.9M437.7 414.5L433.6 417.9" stroke="#f2ccd4" stroke-width="1.3" fill="none" stroke-opacity="0.7" stroke-linecap="round"/>
<path d="M288.4 327.2L291.0 332.0M284.7 335.9L291.0 332.0M287.5 357.9L289.0 364.9M289.0 364.9L287.2 373.0M287.2 373.0L295.7 375.6M285.0 412.3L291.8 411.2M288.7 417.8L299.2 418.1M296.3 327.0L291.0 332.0M291.0 332.0L299.3 335.3M296.6 366.0L295.7 375.6M295.7 375.6L295.6 381.9M295.6 381.9L307.2 379.6M295.6 381.9L299.5 384.1M295.1 387.9L296.1 394.9M295.1 387.9L289.1 394.8M296.1 394.9L299.8 397.1M294.8 405.9L291.8 411.2M299.2 418.1L295.2 424.7M295.2 431.4L302.8 431.4M299.3 319.2L305.7 328.6M298.9 348.2L306.9 355.3M307.2 379.6L312.4 379.0M299.5 384.1L296.1 394.9M303.5 393.8L310.7 391.2M303.5 393.8L299.8 397.1M306.1 404.1L299.3 410.8M312.5 325.8L318.0 334.2M307.7 361.1L306.0 364.4M311.1 364.2L306.3 374.4M312.4 379.0L318.4 387.2M310.3 387.0L318.4 387.2M310.7 391.2L317.1 399.6M310.6 398.8L317.1 399.6M310.6 398.8L306.1 404.1M314.0 418.4L317.6 423.0M310.3 430.9L322.1 430.0M318.7 355.6L325.8 358.1M315.4 361.5L311.1 364.2M316.2 375.6L321.5 380.8M321.5 380.8L327.2 378.1M321.5 380.8L318.4 387.2M319.5 394.5L326.2 393.1M321.0 406.0L326.1 404.1M321.0 406.0L325.2 411.8M323.1 331.8L321.8 341.7M325.4 346.2L333.6 348.3M325.4 346.2L329.8 352.5M329.8 352.5L337.0 355.5M322.5 373.8L327.2 378.1M325.6 383.7L319.5 394.5M325.2 411.8L321.8 418.6M325.7 420.9L335.3 416.3M337.2 328.0L340.5 332.3M331.0 334.7L327.1 342.5M333.6 348.3L340.5 344.6M337.0 355.5L338.0 362.1M335.5 393.4L341.0 391.8M333.2 397.3L333.6 404.4M333.2 397.3L326.1 404.1M333.6 404.4L344.7 403.9M331.7 412.1L336.4 414.7M336.7 321.2L345.9 321.4M340.9 328.3L348.2 335.1M340.5 332.3L339.9 339.6M340.5 332.3L335.8 339.2M340.5 344.6L340.1 353.0M340.5 344.6L337.0 355.5M338.0 362.1L333.5 368.2M337.4 375.7L334.0 377.1M337.5 426.9L335.8 433.4M345.9 321.4L340.9 328.3M352.1 329.6L348.2 335.1M351.2 340.9L346.5 348.3M346.5 348.3L349.8 353.2M350.1 392.3L353.2 401.8M350.9 403.2L352.2 411.0M345.5 411.2L350.4 418.8M345.5 411.2L341.9 420.3M357.1 393.6L353.2 401.8M353.2 401.8L358.7 399.3M352.2 411.0L359.6 416.5M356.0 427.8L348.5 430.4M361.1 332.0L357.9 338.9M363.2 425.5L366.3 430.0M373.8 325.3L375.8 332.8M373.4 403.8L368.0 410.7M368.0 410.7L373.2 417.9M368.0 410.7L365.6 418.8M373.2 417.9L370.2 423.7M373.2 417.9L375.0 424.7M370.2 423.7L366.3 430.0M375.8 332.8L382.4 332.6M375.8 332.8L371.2 340.4M378.3 400.0L380.7 405.8M378.3 400.0L373.4 403.8M380.7 405.8L385.6 413.4M377.6 413.7L385.6 413.4M381.7 418.7L381.4 425.8M387.2 377.3L392.6 379.9M385.9 387.9L389.9 387.8M385.8 393.0L389.9 399.0M385.6 413.4L389.9 410.5M387.1 430.2L395.5 433.0M391.3 318.4L386.8 328.8M391.0 333.2L395.9 341.8M395.9 341.8L396.3 348.3M392.6 379.9L401.5 382.0M392.6 379.9L389.9 387.8M389.9 387.8L394.6 391.0M394.6 391.0L403.2 393.3M394.6 391.0L397.6 401.3M394.3 406.2L399.0 413.6M389.7 427.3L395.5 433.0M400.7 335.6L395.9 341.8M402.5 338.3L408.7 341.2M396.3 348.3L403.1 356.2M400.5 388.1L404.3 384.1M400.5 388.1L394.6 391.0M399.0 413.6L401.2 420.4M399.0 413.6L397.1 416.7M396.1 424.6L395.5 433.0M406.7 319.9L416.1 321.3M406.7 319.9L401.4 328.9M408.7 341.2L405.4 347.2M408.7 341.2L413.7 347.0M404.8 362.0L415.1 358.3M404.3 384.1L411.8 388.0M410.4 407.5L415.6 407.4M403.8 426.3L409.0 433.6M415.1 358.3L422.5 358.8M418.9 367.6L414.2 372.7M418.9 367.6L421.7 374.2M414.2 372.7L421.7 374.2M418.8 390.6L419.1 400.0M412.3 410.3L422.3 411.8M417.1 417.4L420.4 423.2M411.5 422.9L420.4 423.2M416.8 434.1L424.9 429.8M422.6 333.3L428.8 333.9M424.5 340.7L419.4 347.2M424.5 340.7L430.5 346.7M422.5 367.0L421.7 374.2M425.1 379.4L419.7 385.7M420.4 423.2L426.0 424.6M434.7 327.8L438.0 329.8M434.7 327.8L437.8 335.5M428.8 333.9L434.2 342.9M432.8 366.5L426.0 370.8M426.0 370.8L436.9 370.9M426.0 370.8L430.4 378.2M430.4 378.2L437.1 388.8M428.4 414.1L433.6 417.9M437.7 318.6L438.0 329.8M437.8 335.5L439.0 342.8M436.2 359.5L440.2 364.4M434.4 423.7L438.6 433.0" stroke="#eec6d2" stroke-width="1.3" fill="none" stroke-opacity="0.7" stroke-linecap="round"/>
<path d="M283.7 320.7L295.0 320.5M288.4 327.2L296.3 327.0M289.6 351.7L295.1 355.5M287.2 373.0L289.8 379.9M289.8 379.9L287.8 388.8M287.8 388.8L289.1 394.8M292.3 404.3L291.8 411.2M288.7 417.8L295.2 424.7M284.4 427.6L295.2 424.7M296.3 327.0L305.7 328.6M296.3 327.0L299.3 335.3M297.1 340.1L304.9 338.5M294.3 347.4L289.6 351.7M295.1 355.5L306.9 355.3M293.1 360.0L289.0 364.9M296.1 394.9L303.5 393.8M293.9 399.1L299.8 397.1M293.9 399.1L292.3 404.3M299.2 418.1L298.7 422.8M304.9 338.5L298.9 348.2M306.9 355.3L314.3 351.6M301.5 357.9L306.0 364.4M302.5 371.0L307.2 379.6M302.5 371.0L295.6 381.9M299.5 384.1L303.5 393.8M306.1 404.1L312.5 405.1M302.9 417.5L314.0 418.4M302.9 417.5L309.5 423.2M314.3 351.6L318.7 355.6M314.3 351.6L315.4 361.5M307.7 361.1L311.1 364.2M306.3 374.4L316.2 375.6M310.3 387.0L310.7 391.2M314.0 418.4L321.8 418.6M309.5 423.2L302.8 431.4M314.9 323.4L318.3 327.8M318.0 334.2L321.8 341.7M318.0 334.2L312.4 340.9M318.7 355.6L315.4 361.5M315.4 361.5L325.8 358.1M315.4 361.5L320.5 369.2M320.5 369.2L316.2 375.6M321.5 380.8L325.6 383.7M319.5 394.5L317.1 399.6M321.8 418.6L325.7 420.9M321.8 418.6L317.6 423.0M321.8 418.6L325.0 427.4M323.0 319.8L330.5 323.1M323.0 319.8L318.3 327.8M324.8 367.3L322.5 373.8M322.5 373.8L333.4 371.8M325.6 383.7L330.2 384.4M326.1 404.1L331.7 412.1M325.2 411.8L331.7 412.1M325.2 411.8L325.7 420.9M325.0 427.4L327.5 434.5M325.0 427.4L322.1 430.0M330.5 323.1L336.7 321.2M331.0 334.7L335.8 339.2M335.8 339.2L339.9 339.6M335.8 339.2L340.5 344.6M337.0 355.5L340.1 353.0M333.4 371.8L327.2 378.1M330.2 384.4L336.8 388.8M330.2 384.4L326.2 393.1M333.6 404.4L336.4 414.7M335.3 416.3L329.5 425.5M335.3 416.3L337.5 426.9M335.8 433.4L342.2 430.0M340.5 332.3L348.2 335.1M339.9 339.6L340.5 344.6M336.8 388.8L335.5 393.4M344.7 403.9L350.9 403.2M336.4 414.7L341.9 420.3M348.2 335.1L354.0 336.4M346.5 348.3L351.4 346.5M344.1 400.1L350.9 403.2M344.1 400.1L344.7 403.9M345.5 411.2L352.2 411.0M351.3 322.7L357.7 326.8M357.7 326.8L361.1 332.0M354.0 336.4L357.9 338.9M357.1 393.6L364.9 392.2M353.2 401.8L350.9 403.2M359.6 416.5L356.0 427.8M356.0 427.8L358.4 431.3M363.3 322.5L367.9 321.3M361.1 332.0L366.7 338.3M358.7 399.3L369.9 401.3M358.7 399.3L362.3 408.0M362.3 408.0L373.4 403.8M365.6 418.8L363.2 425.5M373.8 325.3L369.3 336.3M369.3 336.3L375.8 332.8M369.3 336.3L371.2 340.4M369.3 336.3L366.7 338.3M373.0 392.1L381.2 391.5M373.0 392.1L378.3 400.0M369.9 401.3L378.3 400.0M373.4 403.8L377.6 413.7M370.2 423.7L375.0 424.7M370.5 433.4L378.6 429.8M377.9 388.6L385.9 387.9M381.2 391.5L384.9 400.6M381.7 418.7L387.8 419.2M386.8 328.8L391.0 333.2M382.4 332.6L391.0 333.2M385.9 387.9L381.2 391.5M384.9 400.6L389.9 399.0M385.6 413.4L381.7 418.7M381.4 425.8L389.7 427.3M381.4 425.8L387.1 430.2M390.8 374.1L398.0 373.7M397.1 416.7L401.2 420.4M389.7 427.3L396.1 424.6M400.7 322.4L406.7 319.9M397.5 359.7L404.8 362.0M397.5 359.7L401.2 367.4M397.6 401.3L400.7 406.9M400.7 406.9L410.4 407.5M400.7 406.9L404.0 413.1M407.5 333.9L408.7 341.2M404.8 362.0L401.2 367.4M405.4 373.5L401.5 382.0M409.7 392.8L418.8 390.6M409.7 392.8L408.1 398.6M409.7 392.8L411.9 401.3M408.1 398.6L410.4 407.5M408.1 398.6L400.7 406.9M409.2 416.6L417.1 417.4M403.8 426.3L403.4 434.3M414.5 334.0L415.9 342.8M415.0 354.6L422.5 358.8M415.1 358.3L418.9 367.6M415.1 358.3L408.7 364.8M418.9 367.6L422.5 367.0M411.8 388.0L419.7 385.7M418.8 390.6L422.2 394.1M411.9 401.3L410.4 407.5M415.6 407.4L424.8 406.5M412.3 410.3L409.2 416.6M417.1 417.4L422.4 420.2M421.0 320.5L419.3 325.5M425.8 327.9L422.6 333.3M426.6 353.5L430.6 352.9M426.6 353.5L426.4 360.0M422.5 358.8L418.9 367.6M422.2 394.1L419.1 400.0M419.1 400.0L424.8 406.5M419.1 400.0L415.6 407.4M422.3 411.8L428.4 414.1M422.3 411.8L417.1 417.4M422.4 420.2L420.4 423.2M420.4 423.2L424.9 429.8M426.4 322.0L434.7 327.8M430.4 378.2L428.5 388.7M429.7 404.8L437.7 414.5M433.6 417.9L440.8 417.4M433.6 417.9L426.0 424.6M426.0 424.6L429.9 433.6M437.7 414.5L440.8 417.4" stroke="#f4d8dc" stroke-width="1.3" fill="none" stroke-opacity="0.7" stroke-linecap="round"/>
<path d="M285.1 320.5L290.3 329.8M292.6 402.0L298.9 407.2M292.9 317.5L306.9 317.7M293.2 389.7L298.1 401.8M329.9 400.4L323.8 405.0M353.6 418.2L349.0 421.9M358.8 424.1L352.1 434.2M362.8 407.9L369.8 414.7M383.9 389.6L395.2 390.5M402.6 327.6L409.4 329.5M395.2 375.0L402.8 382.1M396.6 405.8L401.2 413.3M406.3 409.1L415.4 406.3M404.8 425.8L401.9 435.3M438.9 411.4L443.3 414.5" stroke="#c04060" stroke-width="0.6" fill="none" stroke-opacity="0.6" stroke-linecap="round"/>
<path d="M303.1 361.4L298.0 372.8M313.6 350.4L319.4 350.1M306.1 371.8L300.4 384.7M318.7 364.5L331.9 364.2M324.2 379.2L312.9 389.3M321.0 397.5L329.9 400.4M325.3 389.5L321.0 397.5M339.4 323.0L338.8 330.7M346.8 341.1L339.9 347.9M364.4 399.7L354.7 408.1M363.6 391.4L379.2 392.3M389.6 400.5L404.0 396.2M387.7 419.7L385.1 424.7M401.8 344.2L404.5 356.5M411.9 346.6L423.6 344.8M423.6 344.8L412.8 355.1M433.6 319.8L432.7 331.3" stroke="#b03050" stroke-width="0.6" fill="none" stroke-opacity="0.6" stroke-linecap="round"/>
<path d="M285.0 339.0L295.9 340.0M285.0 339.0L291.6 343.8M290.8 365.0L298.0 372.8M303.4 336.0L298.8 346.4M311.7 414.8L319.5 416.9M317.6 318.9L310.4 332.2M329.1 382.7L334.1 390.9M339.4 323.0L334.2 327.9M364.0 323.7L373.9 332.8M389.2 373.4L391.6 384.0M389.6 400.5L396.6 405.8M388.8 408.0L380.0 415.4M393.4 323.2L387.8 330.6M401.8 344.2L397.2 353.4M392.9 423.1L401.9 435.3M409.4 365.8L406.6 374.7M424.0 323.1L433.6 319.8M432.7 331.3L426.7 338.5M423.2 392.4L433.7 396.8M429.1 419.5L443.3 414.5" stroke="#d06a84" stroke-width="0.6" fill="none" stroke-opacity="0.6" stroke-linecap="round"/>
<path d="M290.3 329.8L285.0 339.0M286.3 391.3L293.2 389.7M293.3 414.0L303.8 416.9M308.9 389.7L307.7 398.0M308.0 437.3L319.4 432.1M318.7 364.5L324.3 373.0M328.8 355.1L331.9 364.2M323.8 405.0L338.3 408.6M346.8 341.1L347.6 346.4M354.5 324.1L352.5 327.5M355.2 337.7L367.7 335.9M363.6 391.4L372.8 397.5M386.7 323.1L393.4 323.2M391.6 384.0L395.2 390.5M398.4 336.7L401.8 344.2M404.0 396.2L412.7 399.3M396.6 405.8L406.3 409.1M412.8 355.1L422.3 366.5M414.4 393.4L423.2 392.4M419.5 416.0L423.5 422.8M429.1 419.5L423.5 422.8M432.9 353.7L429.9 365.5M438.5 376.4L437.6 378.6" stroke="#9a3a6a" stroke-width="0.6" fill="none" stroke-opacity="0.6" stroke-linecap="round"/>
<path d="M353.9 403.5l-0.8 1.1M305.8 395.9l0.9 1.1M337.4 400.6l0.7 1.5M309.6 415.6l-0.3 0.5M425.0 386.2l-1.1 1.3M330.5 349.6l-0.1 0.0M426.6 356.9l-1.9 0.4M407.3 413.9l-1.8 0.4M417.8 376.6l0.0 0.1M320.9 411.8l0.6 1.9M342.2 360.3l-0.1 0.5M342.2 395.6l-0.8 1.2M358.7 412.3l-0.8 0.9M397.8 336.6l-0.0 1.8M330.8 408.9l-0.9 1.6M428.8 403.1l-0.5 0.8M408.0 389.6l-1.5 0.9M366.8 388.7l-0.8 0.0M403.8 401.6l-0.1 0.5M354.0 394.0l-1.4 0.9" stroke="#8a2040" stroke-width="1.0" stroke-linecap="round" fill="none"/>
<path d="M386.8 420.3l-0.2 0.1M410.7 377.2l0.1 0.7M328.9 403.4l1.3 0.1M405.0 336.3l0.7 0.4M415.2 327.2l-0.4 0.8M407.4 351.8l0.4 1.0M357.4 423.5l-0.0 0.1M403.0 348.8l-0.7 0.2M397.3 394.9l-0.2 0.2M320.6 364.5l1.6 0.1M296.0 351.6l-1.1 0.8M323.3 361.0l0.4 0.7M324.5 391.9l-1.6 0.4M403.6 352.9l-0.7 0.0M329.1 337.9l0.0 0.0M407.8 380.4l0.2 0.4M341.1 414.9l-0.7 0.5M292.1 387.9l0.1 0.0M427.8 379.4l1.5 1.3M378.9 423.1l-0.5 0.9" stroke="#5a1a3a" stroke-width="1.0" stroke-linecap="round" fill="none"/>
<path d="M293.1 360.5l-0.1 0.4M394.3 366.1l0.0 1.2M324.9 389.9l0.1 0.3M404.2 370.2l-1.9 0.1M390.9 329.5l-0.7 1.5M392.8 406.5l-0.1 0.2M428.5 400.2l-0.5 1.4M373.2 385.7l-0.5 1.3M398.3 381.2l0.0 0.1M421.8 355.4l0.3 0.7M401.5 386.7l-0.2 0.1M293.9 374.4l-1.7 0.6M423.3 415.8l-1.2 0.8M394.9 393.1l1.0 0.4M382.4 418.3l0.6 0.7M424.9 382.2l-0.4 0.1M303.5 413.3l-0.6 0.1M412.5 390.5l-0.8 0.8M318.3 418.1l0.3 0.1M401.2 419.5l0.2 0.3M375.5 397.8l-0.0 0.0M341.1 368.8l0.6 0.6M352.8 345.0l-0.9 0.2M293.2 390.5l-1.0 0.7" stroke="#6a2050" stroke-width="1.0" stroke-linecap="round" fill="none"/>
<path d="M397.3 405.7l0.2 0.2M376.3 417.1l0.8 1.7M341.5 349.5l-0.1 1.1M305.6 397.7l0.5 0.5M306.4 377.5l1.7 0.9M305.8 424.3l-0.2 0.3M333.6 366.7l-0.5 0.8M418.5 338.6l0.2 0.1M313.0 336.9l0.7 0.2M326.2 360.3l-0.1 1.1M320.2 362.4l0.0 0.6M290.5 395.3l0.2 0.1M300.7 327.1l-1.0 0.6M414.5 425.2l0.2 0.4M410.1 381.5l-0.5 0.1M424.6 373.1l-0.2 1.0M345.6 352.7l0.7 0.3M334.3 418.6l-0.8 1.6M307.7 390.1l1.8 0.7M393.9 382.7l-0.5 0.7M349.0 342.3l-1.7 0.0M372.7 417.0l0.2 0.0M326.9 330.6l0.9 1.1M360.6 421.5l-0.3 0.3M393.8 416.6l-1.2 0.3M424.6 368.2l1.1 1.1M319.8 402.5l-1.5 0.5" stroke="#b02a48" stroke-width="1.5" stroke-linecap="round" fill="none"/>
<path d="M428.6 362.4l-1.4 0.5M394.1 408.4l0.1 1.5M383.3 336.5l-1.1 0.7M349.8 353.9l0.9 0.9M399.6 327.9l-1.1 1.5M387.4 375.9l0.8 0.3M347.0 418.8l0.0 0.0M292.0 419.9l0.5 1.6M362.7 405.9l-1.7 0.9M343.4 355.8l0.1 0.1M407.3 367.1l0.8 1.3M404.3 338.3l-1.2 1.2M390.2 395.5l-0.1 0.1M409.6 375.6l-0.6 0.5M399.0 335.0l0.0 0.0" stroke="#8a2040" stroke-width="1.5" stroke-linecap="round" fill="none"/>
<path d="M376.2 329.1l-0.3 0.4M301.0 369.7l-0.9 0.9M323.9 384.9l-0.9 0.4M367.7 327.2l-0.4 0.4M343.8 398.9l0.1 0.6M328.8 351.1l0.4 0.6M427.6 326.9l-0.4 0.2M344.7 420.7l-0.5 1.2M425.5 411.7l0.9 0.6M420.0 357.2l1.2 0.2M291.4 371.5l-0.2 0.5M404.0 377.9l0.1 1.9M301.8 417.1l-0.1 0.6M383.5 400.3l-1.1 1.0M429.2 389.2l0.1 0.3M291.5 342.7l-0.5 0.5M336.4 361.1l0.8 0.4M414.3 377.9l0.2 0.1M357.6 340.6l1.4 0.9M348.4 352.7l1.3 0.4M331.4 404.6l0.1 0.4M419.7 386.4l-0.5 0.2" stroke="#c84a68" stroke-width="1.5" stroke-linecap="round" fill="none"/>
<path d="M326.9 363.6l-1.0 0.0M297.0 380.6l0.1 1.6M300.1 341.7l1.2 0.1M399.7 425.1l1.0 0.7M342.9 358.2l-1.5 0.5M308.9 399.2l0.2 1.1M329.6 370.8l0.1 0.0M392.2 399.9l-0.5 1.9M405.0 389.1l-0.8 0.1M429.8 364.9l-1.1 0.1M309.6 344.0l0.4 0.4M387.6 377.5l0.5 1.8M321.3 336.6l-0.0 0.8M366.1 393.7l0.1 0.3M298.3 350.4l0.0 0.2M423.5 364.7l-1.3 1.4M294.4 350.9l0.8 0.6M366.4 410.4l-0.5 1.0M362.3 392.9l-0.4 0.2M344.1 334.1l0.1 0.0M303.1 388.8l-0.2 0.2M291.8 344.6l1.4 0.7" stroke="#c05a80" stroke-width="1.5" stroke-linecap="round" fill="none"/>
<path d="M318.2 395.0l-0.6 0.4M393.8 417.5l0.2 0.1M408.9 374.9l0.0 0.2M421.2 412.0l-0.5 1.1M382.1 413.7l0.8 0.4M355.7 336.2l0.7 0.8M421.7 401.3l0.8 0.4M299.9 398.7l0.8 0.6M295.4 378.9l0.3 1.3M316.1 426.0l0.0 0.1M302.6 373.5l1.1 0.6M326.3 377.4l0.4 1.0M348.7 350.6l1.4 0.5M419.3 412.9l1.3 0.3M394.8 338.1l-0.3 1.1M360.6 335.8l-0.6 1.5M425.8 341.4l1.6 0.7M331.3 372.6l0.0 1.4M360.0 345.8l0.1 1.3M406.1 387.6l-0.6 1.0" stroke="#6a2050" stroke-width="1.5" stroke-linecap="round" fill="none"/>
<path d="M359.5 418.9l1.2 0.2M293.1 330.0l-0.7 0.8M421.3 380.4l-1.6 1.2M413.8 367.8l1.7 1.0M394.3 364.1l0.1 0.8M327.2 349.0l-0.5 0.8M385.8 389.8l1.0 0.8M387.4 327.0l-0.1 0.3M311.3 372.1l0.3 0.2M374.4 328.3l0.4 1.9M338.9 336.6l-0.4 0.6M412.4 370.7l-0.8 0.5M302.1 368.6l-0.9 0.5M305.5 400.0l0.5 0.3M306.5 344.2l-1.4 0.4M331.0 377.3l0.4 1.8M413.6 337.9l-0.6 0.6M329.7 337.1l0.9 0.6" stroke="#7a2a5a" stroke-width="1.5" stroke-linecap="round" fill="none"/>
<path d="M306.6 419.9l0.3 1.0M423.6 417.7l0.4 1.5M410.3 344.7l-0.1 0.8M303.0 389.4l1.5 0.3M299.6 365.2l0.7 0.4M387.5 415.0l-0.4 0.7M419.2 357.9l0.6 0.1M398.2 359.6l-0.0 0.6M315.6 382.5l-1.1 1.5M324.1 339.0l-0.8 0.8M332.1 388.9l0.5 0.4M355.9 399.2l0.4 0.7M354.5 408.0l0.0 0.2M402.1 400.0l-0.4 0.2M296.8 414.2l1.8 0.5M337.3 402.4l0.1 0.0M378.7 404.9l-1.8 0.2M420.5 345.9l-0.0 0.0M385.4 329.3l-1.9 0.6M380.9 380.4l-0.4 0.2M322.4 387.6l1.8 0.0M330.4 405.3l0.3 0.4M301.9 358.6l0.4 0.4M345.8 332.3l0.6 0.4M381.1 328.2l-1.0 1.4M357.3 398.1l0.3 1.8M319.6 411.5l0.7 0.3M330.4 354.4l-1.1 1.3" stroke="#c84a68" stroke-width="1.0" stroke-linecap="round" fill="none"/>
<path d="M418.9 384.0l-0.5 0.7M315.4 330.3l-0.2 0.4M297.8 418.2l0.1 0.9M307.0 379.7l-0.1 0.5M413.3 402.8l0.5 1.8M424.5 358.9l0.0 0.1M300.0 414.1l-0.8 1.0M395.5 385.1l-0.2 0.5M395.9 394.1l0.5 0.8M422.3 411.5l-0.6 1.3M329.1 361.6l-1.4 0.4M305.0 410.8l0.5 0.4M356.1 423.9l-0.1 0.0M330.7 374.4l-0.2 0.6M369.6 402.5l-0.2 0.4M409.7 363.8l-0.3 0.3M387.2 377.6l-1.5 0.9M333.5 340.0l-0.9 1.1M423.8 423.5l0.1 0.7M368.3 325.9l1.1 0.7" stroke="#7a2a5a" stroke-width="1.0" stroke-linecap="round" fill="none"/>
<path d="M320.1 353.5l0.7 0.9M308.2 404.1l0.9 0.8M424.3 381.7l0.6 1.7M423.8 375.0l0.4 1.4M412.8 362.5l1.1 1.5M416.2 363.1l-1.7 0.4M305.9 376.1l-1.8 0.7M346.1 346.9l0.8 0.0M342.2 374.7l0.4 1.7M403.5 410.5l-0.1 0.1M415.5 353.1l0.4 1.2M397.7 366.2l0.6 0.2M298.2 417.7l0.8 1.4M418.1 388.6l0.6 0.0M344.0 359.5l-1.4 1.4M398.9 394.8l-0.1 0.3M397.4 417.6l0.0 0.5M324.3 369.7l1.2 0.4M314.2 328.1l-0.0 0.3" stroke="#b02a48" stroke-width="1.0" stroke-linecap="round" fill="none"/>
<path d="M291.1 385.1l0.6 0.9M363.3 421.9l-1.4 0.7M335.8 336.0l-0.8 0.7M318.4 421.6l-1.4 0.5M405.6 404.0l1.0 1.6M406.8 368.2l1.0 0.7M331.1 361.0l-0.8 1.0M322.1 352.4l-0.6 0.6M426.5 357.5l0.3 0.7M334.6 345.7l0.7 1.0M306.6 402.9l-0.8 1.5M420.1 335.0l0.4 0.3M299.3 357.6l0.3 0.6M332.3 408.0l-0.9 1.3M412.9 342.4l-0.1 1.2M296.3 404.7l1.4 0.4M300.0 373.1l0.4 0.9M323.1 348.0l-0.4 0.0M326.8 357.9l-0.4 0.9" stroke="#a03070" stroke-width="1.0" stroke-linecap="round" fill="none"/>
<path d="M321.4 416.9l-1.0 1.4M422.7 376.4l0.6 0.3M297.5 371.7l-0.6 0.3M324.6 354.4l0.2 0.4M290.1 350.0l0.6 0.1M302.8 329.8l1.4 0.3M301.7 419.4l-0.8 0.0M416.3 404.6l-0.0 0.4M341.9 368.9l-0.2 0.8M420.0 417.1l-1.3 1.4M357.1 329.7l-0.1 0.1M328.1 344.0l-1.8 0.4M322.2 352.1l-0.3 0.4M323.7 416.0l-0.0 0.3M396.4 327.4l0.8 0.7M318.0 329.5l-1.0 0.2M374.5 390.4l0.3 0.3M422.2 372.1l-1.6 0.4M382.7 386.9l1.8 0.5M422.0 413.0l-1.0 1.6M343.2 425.9l1.4 0.5M385.1 383.3l-0.7 1.2" stroke="#5a1a3a" stroke-width="1.5" stroke-linecap="round" fill="none"/>
<path d="M293.4 393.2l0.2 0.3M366.6 415.9l-0.8 0.2M301.6 361.2l0.7 1.1M390.6 408.4l-0.5 1.3M330.5 345.8l0.7 1.6M411.3 374.6l0.1 0.9M390.1 375.2l0.2 0.5M298.5 355.1l0.4 0.6M337.6 394.7l0.3 1.8M325.7 398.5l1.0 0.0M306.2 426.0l-0.9 0.4M306.1 382.9l-1.6 0.2M419.6 375.3l-0.4 0.6M411.4 365.1l-0.3 0.1M368.0 343.5l0.0 0.7M410.6 387.8l-0.5 0.8M427.8 347.5l-1.2 0.4M297.5 422.6l-1.9 0.1M339.3 374.6l0.3 1.6M401.8 336.6l-0.7 0.6M411.7 385.1l-0.9 1.0" stroke="#c05a80" stroke-width="1.0" stroke-linecap="round" fill="none"/>
<path d="M309.3 356.0l-0.7 0.8M360.5 410.1l0.2 0.5M419.0 425.3l0.1 0.4M394.8 407.3l0.5 0.1M364.9 326.8l0.0 0.1M421.5 380.5l0.7 0.4M312.2 391.8l-1.5 0.2M293.8 333.5l-0.5 0.0M420.4 385.3l-0.1 0.1M402.3 337.9l1.7 0.8M317.0 334.5l-0.1 0.1M347.1 396.9l-1.1 0.1M386.7 408.4l-0.2 0.1" stroke="#a03070" stroke-width="1.5" stroke-linecap="round" fill="none"/>
<polygon points="316.0,345.0 328.0,347.0 343.0,354.0 343.0,364.0 338.0,375.0 332.0,387.0 326.0,384.0 323.0,370.0 320.0,356.0" fill="#8a8ad0" opacity="0.3"/>
<path d="M321.7 346.6l-1.2 1.8M331.6 385.6l2.2 1.5M327.6 347.6l2.0 0.9M327.3 362.3l1.2 2.6M323.6 372.2l-1.7 0.9M342.8 358.7l2.0 0.5" stroke="#2a3a9a" stroke-width="1.5" stroke-linecap="round" fill="none"/>
<path d="M322.2 359.1l-0.0 0.1M333.8 351.5l-1.4 1.1M330.7 380.4l-2.2 1.6M331.4 385.0l-0.2 2.8" stroke="#4a4ab0" stroke-width="2.0" stroke-linecap="round" fill="none"/>
<path d="M324.0 358.7l0.7 0.6M337.3 366.4l0.1 2.3M329.4 366.0l-2.3 1.0M326.0 379.3l-0.1 0.7M332.9 369.9l1.8 0.6M333.0 370.1l0.0 0.0M339.8 370.7l-0.0 0.0M331.9 354.8l1.1 1.9M330.6 367.9l-0.4 0.0M336.0 351.0l0.1 2.0M319.3 349.4l0.2 1.2" stroke="#4a4ab0" stroke-width="1.5" stroke-linecap="round" fill="none"/>
<path d="M323.6 356.4l0.5 1.3M335.8 353.9l0.5 0.3M327.9 365.9l-0.7 0.5M332.0 378.5l0.1 0.5M333.0 383.1l-0.2 0.5" stroke="#4a4ab0" stroke-width="1.0" stroke-linecap="round" fill="none"/>
<path d="M322.5 356.8l-0.8 0.4M330.2 367.8l-2.2 0.7M340.6 358.5l-0.7 0.6M323.3 350.6l-0.7 0.4M329.5 375.5l-0.3 2.1" stroke="#8a3a7a" stroke-width="2.0" stroke-linecap="round" fill="none"/>
<path d="M340.3 354.4l1.2 0.6M335.1 372.8l-0.2 0.4M336.2 355.0l-1.0 2.3M342.0 360.8l-1.0 2.7M333.3 366.4l-2.9 0.3" stroke="#1a2a8a" stroke-width="1.0" stroke-linecap="round" fill="none"/>
<path d="M334.1 352.4l-1.4 1.0M325.5 369.6l-2.9 0.0M336.9 362.9l-2.2 0.3" stroke="#7a4aa0" stroke-width="1.5" stroke-linecap="round" fill="none"/>
<path d="M326.7 363.5l0.1 0.1M337.4 365.5l-1.4 1.8M330.5 367.5l0.4 0.1M326.1 354.7l0.1 0.4M334.2 375.0l-0.3 1.7M328.2 363.5l0.9 0.3M332.1 379.7l-0.4 1.9M336.2 374.7l-2.0 1.2M340.4 364.7l-0.3 0.4M327.2 364.6l1.2 1.0" stroke="#3a5ac0" stroke-width="2.0" stroke-linecap="round" fill="none"/>
<path d="M333.5 376.7l-0.1 0.1M320.9 348.5l2.1 2.1M331.8 373.6l1.2 1.2M328.2 373.3l-0.4 3.0M340.0 359.4l-0.3 0.3" stroke="#2a3a9a" stroke-width="1.0" stroke-linecap="round" fill="none"/>
<path d="M334.5 378.4l-2.4 1.0M341.3 361.1l-0.7 0.2M331.3 352.3l-1.0 0.2M335.1 374.4l-0.6 1.6" stroke="#5a3a9a" stroke-width="1.5" stroke-linecap="round" fill="none"/>
<path d="M324.6 363.2l1.3 1.4M332.8 377.6l-0.0 0.1M323.9 365.2l0.7 1.2M339.3 352.7l-0.8 1.4" stroke="#5a3a9a" stroke-width="1.0" stroke-linecap="round" fill="none"/>
<path d="M322.9 352.9l0.0 0.3M328.3 359.6l2.5 1.4M333.4 356.6l0.0 0.0M332.4 380.6l0.8 2.6M342.3 358.5l-2.1 0.9M326.9 381.6l-1.0 2.6M331.5 350.2l-1.1 0.7" stroke="#7a4aa0" stroke-width="2.0" stroke-linecap="round" fill="none"/>
<path d="M339.8 367.7l0.2 1.4M328.3 382.9l2.4 0.0M342.8 358.0l0.1 0.6M336.5 370.6l0.1 0.2" stroke="#8a3a7a" stroke-width="1.0" stroke-linecap="round" fill="none"/>
<path d="M328.1 355.4l1.3 0.6M327.2 384.0l0.4 0.3M320.4 355.4l0.7 2.0M334.0 358.5l-1.4 0.7M335.4 350.5l0.1 0.1" stroke="#5a3a9a" stroke-width="2.0" stroke-linecap="round" fill="none"/>
<path d="M330.0 369.0l-0.5 0.6M326.3 352.7l-0.5 2.5M335.4 350.6l-0.1 0.2M331.0 372.0l0.8 0.4M331.3 351.2l-0.0 0.5M330.1 359.9l-1.2 2.5M326.4 347.4l0.4 0.6M321.3 353.7l0.6 2.2M339.1 354.0l-0.0 0.0" stroke="#1a2a8a" stroke-width="1.5" stroke-linecap="round" fill="none"/>
<path d="M334.0 352.6l2.0 0.2M320.6 358.4l0.0 0.3M330.5 365.5l0.0 0.0M324.6 367.2l-0.7 0.5M317.1 347.1l-1.1 0.1" stroke="#3a5ac0" stroke-width="1.5" stroke-linecap="round" fill="none"/>
<path d="M331.0 353.3l2.0 2.2M337.5 372.5l-0.2 2.8M329.5 371.5l0.5 0.7M335.1 356.2l-1.5 1.8M323.2 360.4l1.5 0.1M328.8 350.9l-1.2 0.4M329.7 365.8l-1.4 0.8" stroke="#2a3a9a" stroke-width="2.0" stroke-linecap="round" fill="none"/>
<path d="M320.5 347.9l0.5 0.5M336.0 361.9l-2.6 0.4M332.8 367.4l0.2 2.9" stroke="#1a2a8a" stroke-width="2.0" stroke-linecap="round" fill="none"/>
<path d="M335.6 351.6l0.0 0.3M336.6 356.4l1.6 1.1M325.3 366.7l0.1 0.3M335.4 365.5l0.3 3.0M329.8 364.7l-0.4 0.6" stroke="#7a4aa0" stroke-width="1.0" stroke-linecap="round" fill="none"/>
<path d="M329.6 368.6l-0.9 2.0M325.4 361.5l0.4 0.6M326.3 382.2l0.6 1.2" stroke="#8a3a7a" stroke-width="1.5" stroke-linecap="round" fill="none"/>
<path d="M322 351 Q333 355 341 359" stroke="#2a2a8a" stroke-width="2" fill="none"/>
<path d="M341 359 Q334 372 325 387" stroke="#1a1a6a" stroke-width="2" fill="none"/>
<path d="M334 354 Q327 366 319 379" stroke="#3a2a8a" stroke-width="1.6" fill="none"/>
<path d="M346.0 359.0C347.7 356.6 349.7 355.2 353.0 353.0C356.3 350.8 361.6 347.7 366.0 345.5C370.4 343.3 375.6 340.9 379.4 339.6C383.2 338.4 386.5 337.4 389.0 338.0C391.5 338.6 393.4 340.9 394.6 343.5C395.8 346.1 396.2 350.0 396.0 353.5C395.8 357.0 395.0 360.8 393.2 364.5C391.4 368.2 389.1 372.1 385.0 375.6C380.9 379.1 373.4 382.9 368.3 385.3C363.2 387.8 358.2 389.9 354.5 390.3C350.8 390.8 348.2 390.0 346.2 388.0C344.2 386.0 343.2 381.8 342.6 378.4C342.0 374.9 342.0 370.5 342.6 367.3C343.2 364.1 344.3 361.4 346.0 359.0Z" fill="#fefdf2" stroke="#c8202c" stroke-width="3.2" stroke-opacity="0.85"/>
<path d="M346.0 359.0C347.7 356.6 349.7 355.2 353.0 353.0C356.3 350.8 361.6 347.7 366.0 345.5C370.4 343.3 375.6 340.9 379.4 339.6C383.2 338.4 386.5 337.4 389.0 338.0C391.5 338.6 393.4 340.9 394.6 343.5C395.8 346.1 396.2 350.0 396.0 353.5C395.8 357.0 395.0 360.8 393.2 364.5C391.4 368.2 389.1 372.1 385.0 375.6C380.9 379.1 373.4 382.9 368.3 385.3C363.2 387.8 358.2 389.9 354.5 390.3C350.8 390.8 348.2 390.0 346.2 388.0C344.2 386.0 343.2 381.8 342.6 378.4C342.0 374.9 342.0 370.5 342.6 367.3C343.2 364.1 344.3 361.4 346.0 359.0Z" fill="none" stroke="#5a0c14" stroke-width="1.6"/>
<text x="293.0" y="335.1" font-size="9.8" fill="#1e1e1e" stroke="#1e1e1e" stroke-width="0.3" letter-spacing="0.15">JQ1 treated</text>
</g>
<g clip-path="url(#cld2)">
<rect x="148" y="325" width="139" height="101" fill="#fcfbee"/>
<polygon points="146,323 291,323 291,428 289.0,428.0 288.7,426.9 288.3,425.5 287.8,423.8 287.3,421.9 286.7,419.9 286.0,418.0 285.3,416.2 284.5,414.6 283.7,413.2 282.8,411.8 281.9,410.5 281.0,409.3 279.9,408.1 278.8,407.0 277.6,406.0 276.3,405.0 274.9,404.1 273.3,403.3 271.7,402.5 270.0,401.8 268.2,401.1 266.4,400.6 264.6,400.0 262.7,399.6 260.8,399.2 258.8,398.9 256.8,398.6 254.7,398.4 252.6,398.3 250.5,398.2 248.4,398.3 246.3,398.4 244.3,398.6 242.5,398.9 240.6,399.4 238.8,399.8 236.8,400.4 234.8,401.0 232.5,401.6 229.9,402.3 227.0,403.0 223.7,403.9 220.2,404.8 216.6,405.7 212.9,406.7 209.3,407.6 205.8,408.5 202.6,409.2 199.6,409.9 196.7,410.5 194.0,411.0 191.3,411.6 188.7,412.0 186.1,412.5 183.4,412.9 180.8,413.2 178.1,413.5 175.4,413.7 172.6,413.9 169.9,414.0 167.3,414.1 164.7,414.1 162.3,414.2 160.0,414.3 157.8,414.4 155.7,414.5 153.6,414.6 151.7,414.6 149.9,414.7 148.4,414.7 147.0,414.8 146.0,414.8" fill="#3a62c4"/>
<path d="M146.0 375.5C148.3 371.6 155.1 373.3 160.0 372.0C164.9 370.7 169.6 369.6 175.3 367.5C181.0 365.4 190.1 361.7 194.4 359.5C198.7 357.3 196.3 356.5 201.0 354.5C205.7 352.5 215.2 348.9 222.3 347.5C229.4 346.1 237.2 345.9 243.5 346.0C249.8 346.1 256.1 346.7 260.4 347.8C264.6 348.9 267.0 350.6 269.0 352.6C271.0 354.6 272.5 357.6 272.5 360.0C272.5 362.4 271.0 365.1 269.0 367.0C267.0 368.9 263.6 370.2 260.4 371.3C257.2 372.4 253.7 372.7 250.0 373.3C246.3 373.9 241.2 374.2 238.0 375.0C234.8 375.8 232.8 376.8 231.0 378.0C229.2 379.2 228.8 380.4 227.5 382.0C226.2 383.6 224.9 385.8 223.0 387.3C221.1 388.8 220.1 390.1 216.3 391.2C212.5 392.3 204.0 392.8 200.0 393.8C196.0 394.9 194.3 395.9 192.5 397.5C190.7 399.1 190.3 401.5 189.3 403.5C188.3 405.5 187.5 409.6 186.5 409.5C185.5 409.4 184.7 404.9 183.5 403.0C182.3 401.1 180.9 399.3 179.5 398.0C178.1 396.7 177.8 395.8 175.3 395.2C172.8 394.6 169.3 394.2 164.4 394.3C159.5 394.4 149.1 398.6 146.0 395.5C142.9 392.4 143.7 379.4 146.0 375.5Z" fill="none" stroke="#1a2e9a" stroke-width="9" stroke-opacity="0.75"/>
<path d="M146.0 333.0C152.5 326.1 178.0 334.8 185.0 333.0C192.0 331.2 185.5 323.8 188.0 322.0C190.5 320.2 197.3 319.7 200.0 322.0C202.7 324.3 200.7 333.2 204.0 336.0C207.3 338.8 214.0 338.4 220.0 339.0C226.0 339.6 233.0 339.8 240.0 339.5C247.0 339.2 257.7 337.2 262.0 337.5C266.3 337.8 268.0 340.2 266.0 341.0C264.0 341.8 257.3 341.7 250.0 342.0C242.7 342.3 230.5 342.0 222.3 343.0C214.1 344.0 206.4 345.8 201.0 348.0C195.6 350.2 194.3 353.0 190.0 356.0C185.7 359.0 180.3 363.5 175.3 366.0C170.3 368.5 164.9 369.6 160.0 371.0C155.1 372.4 148.3 380.8 146.0 374.5C143.7 368.2 139.5 339.9 146.0 333.0Z" fill="#fbf6ee"/>
<path d="M156.8 370.1l0.9 0.2M175.3 336.2l-0.1 0.0M164.5 358.2l-2.5 0.4M161.8 367.3l-0.6 1.1M158.8 358.3l-0.6 0.7M186.9 356.8l0.1 0.3" stroke="#e02a50" stroke-width="2.0" stroke-linecap="round" fill="none"/>
<path d="M182.2 346.7l0.2 2.6M192.5 348.8l-2.2 1.9M178.1 352.1l-0.1 0.7M155.8 346.9l-0.0 2.5M170.1 357.8l0.5 1.8M183.6 350.8l0.8 1.2M177.8 340.6l1.0 0.8M191.4 342.7l-0.1 1.9M173.7 341.5l-0.3 0.6" stroke="#6a2a7a" stroke-width="2.0" stroke-linecap="round" fill="none"/>
<path d="M173.7 360.5l0.2 0.6M177.3 338.3l-0.3 2.1M190.0 354.4l0.2 0.0M176.7 336.7l0.3 0.6M176.9 333.0l0.3 0.4M184.4 335.1l-1.3 2.0M207.2 345.7l-1.3 0.8M164.3 339.2l-0.0 1.4M146.2 358.6l0.0 1.2M174.5 334.4l-0.0 0.2M170.7 363.7l-2.5 1.0M190.2 349.0l0.2 0.7M156.5 347.7l0.4 1.6M198.6 348.0l0.9 0.1M205.2 337.2l-1.0 0.6M152.2 336.9l0.9 1.6" stroke="#8a1a3a" stroke-width="1.5" stroke-linecap="round" fill="none"/>
<path d="M169.4 362.8l1.0 0.0M178.5 362.9l-1.1 0.5M238.4 342.1l0.1 0.3M160.3 337.5l2.2 1.8M164.6 356.5l1.9 0.5M185.6 349.0l-1.5 0.3M179.6 359.9l-0.7 0.1M161.3 353.6l-1.8 1.8M197.8 336.2l-2.3 0.9M147.9 346.8l1.1 2.3" stroke="#d04a70" stroke-width="1.0" stroke-linecap="round" fill="none"/>
<path d="M183.3 347.1l0.5 0.3M159.8 348.3l-0.0 0.1M155.9 342.9l1.7 0.4M148.9 341.6l0.0 0.0" stroke="#e02a50" stroke-width="1.0" stroke-linecap="round" fill="none"/>
<path d="M182.2 338.1l-0.7 2.4M155.5 335.2l0.6 0.7M199.6 334.1l2.1 1.0M162.9 346.1l0.1 0.0M190.9 348.9l0.7 0.7M170.5 363.0l-0.6 1.1M158.1 339.4l2.3 1.1M189.6 346.9l0.5 2.5M152.7 347.7l-1.0 1.5M169.9 356.6l1.6 1.2M181.2 354.4l0.2 2.3M163.9 343.3l2.6 1.4M176.0 337.0l0.6 1.4" stroke="#6a2a7a" stroke-width="1.5" stroke-linecap="round" fill="none"/>
<path d="M177.5 346.9l0.1 1.7M181.3 338.5l1.2 0.5M157.7 333.4l-1.9 1.4M148.1 340.4l-0.4 1.0M173.6 335.2l0.2 0.3M184.3 353.5l-1.7 0.1" stroke="#a01a4a" stroke-width="1.0" stroke-linecap="round" fill="none"/>
<path d="M174.6 357.8l0.4 0.9M146.9 360.8l0.9 2.7M225.5 339.6l-0.5 0.1M174.3 342.4l0.1 0.5M231.7 341.7l0.7 1.0" stroke="#a01a4a" stroke-width="2.0" stroke-linecap="round" fill="none"/>
<path d="M150.3 360.8l0.9 1.1M155.2 365.7l-0.1 0.1M181.6 346.4l-0.1 1.1M173.2 349.0l-0.6 1.4M225.5 340.6l-0.0 0.5M177.1 358.2l1.7 1.9M161.0 347.3l-0.8 2.0M173.5 352.9l-1.3 2.1M153.3 365.8l-0.3 0.6M161.6 355.6l-2.2 0.7M175.7 344.5l-0.7 1.2M207.3 340.1l-0.5 0.6" stroke="#e02a50" stroke-width="1.5" stroke-linecap="round" fill="none"/>
<path d="M147.2 371.4l1.3 0.8M182.9 339.2l0.5 0.9M151.2 352.3l0.7 0.2M157.6 334.5l1.4 2.4" stroke="#8a1a3a" stroke-width="1.0" stroke-linecap="round" fill="none"/>
<path d="M160.6 340.7l2.4 0.2M234.4 341.3l1.2 0.1M195.3 342.8l1.1 1.8M148.3 347.1l1.3 1.0M147.7 341.8l2.2 1.6M189.4 333.3l-0.1 0.6M164.4 364.9l-0.0 0.9M149.3 339.8l-2.5 0.5M212.2 338.8l0.0 0.9M171.6 356.5l-0.3 0.2" stroke="#b02050" stroke-width="2.0" stroke-linecap="round" fill="none"/>
<path d="M198.6 336.6l-1.1 0.5M216.3 342.7l0.7 0.7M194.6 349.4l-0.2 2.8M149.9 371.0l1.9 0.3M231.6 341.5l-1.5 1.5M259.5 340.8l-1.5 2.3M205.8 343.4l2.4 1.7" stroke="#a01a4a" stroke-width="1.5" stroke-linecap="round" fill="none"/>
<path d="M150.8 365.0l0.6 0.4M208.4 343.1l0.7 1.0M158.3 347.8l2.9 0.2M152.9 370.9l-0.5 0.4M177.6 348.1l1.9 0.5M183.5 339.7l0.7 1.3M162.9 353.7l-0.2 0.3M149.5 333.2l-1.2 1.9" stroke="#6a2a7a" stroke-width="1.0" stroke-linecap="round" fill="none"/>
<path d="M193.6 346.0l0.2 0.0M188.5 344.6l-1.2 0.1M155.1 353.4l0.8 1.1M167.2 350.4l-0.1 0.7M160.9 342.0l0.1 1.4M175.3 358.3l-1.2 1.3M174.8 343.8l0.7 0.4M147.3 371.0l-0.1 0.1M169.1 364.6l1.0 2.6M159.1 335.3l-0.3 0.3M169.8 365.9l-0.5 0.1M209.3 340.3l1.7 1.0M161.2 353.9l1.0 0.3" stroke="#d04a70" stroke-width="1.5" stroke-linecap="round" fill="none"/>
<path d="M157.8 334.8l-1.0 0.2M179.2 339.7l1.6 1.3M247.0 341.3l2.8 0.5M154.7 370.3l0.2 2.8M158.0 363.4l-1.3 1.2M196.3 347.2l-0.3 0.0M194.0 351.8l1.7 1.7M171.4 347.9l-2.2 1.8M172.9 356.4l0.4 0.6" stroke="#b02050" stroke-width="1.5" stroke-linecap="round" fill="none"/>
<path d="M173.7 361.1l0.0 0.0M181.1 337.7l1.4 0.8M152.4 358.9l-0.3 1.2M201.6 337.1l0.1 0.1" stroke="#c81a40" stroke-width="1.0" stroke-linecap="round" fill="none"/>
<path d="M173.9 347.4l0.2 0.2M162.1 339.1l2.1 0.6M234.8 340.9l-0.0 0.2M190.0 349.2l0.8 2.0M181.9 358.6l2.2 0.7M184.2 348.8l-0.2 1.0M172.6 333.2l-0.6 0.7M170.8 351.8l0.2 0.9M161.8 366.4l-0.7 2.5M178.0 344.0l1.3 1.4M181.2 348.9l-1.1 1.6" stroke="#c81a40" stroke-width="1.5" stroke-linecap="round" fill="none"/>
<path d="M179.5 355.7l0.2 1.4M254.6 341.2l-2.6 0.7M164.8 358.6l0.4 0.4M166.1 356.3l-0.1 0.2M171.0 351.6l0.0 0.1M213.9 341.4l2.4 1.5M212.7 342.0l0.3 2.2" stroke="#8a1a3a" stroke-width="2.0" stroke-linecap="round" fill="none"/>
<path d="M178.9 341.6l2.4 0.7M198.6 337.0l-0.8 1.1M162.8 368.2l-1.6 0.3M188.8 354.5l0.7 0.0M191.5 334.6l0.4 0.5M169.6 350.5l-0.8 1.5" stroke="#b02050" stroke-width="1.0" stroke-linecap="round" fill="none"/>
<path d="M173.5 359.6l-2.4 0.8M222.3 339.3l0.9 0.3M160.2 357.0l-0.7 0.1M183.7 348.4l-0.0 0.1M161.6 363.2l0.8 0.5M158.0 371.0l-1.1 2.3" stroke="#d04a70" stroke-width="2.0" stroke-linecap="round" fill="none"/>
<path d="M201.2 334.1l2.7 0.5M169.7 352.0l2.1 0.4M217.2 341.6l2.0 0.1M160.5 347.7l0.2 0.1" stroke="#c81a40" stroke-width="2.0" stroke-linecap="round" fill="none"/>
<path d="M148.5 351 Q153 357 150 369" stroke="#e0203f" stroke-width="4.5" fill="none"/>
<path d="M277.3 373.2l1.2 0.8M272.3 382.9l2.0 0.4M214.5 347.6l-1.3 1.2M256.6 337.1l-1.7 1.5M283.3 352.0l0.3 0.6M275.9 372.7l1.9 0.2M277.4 349.5l1.4 2.0M260.7 386.5l-1.3 0.6M250.4 373.9l-0.2 0.1M166.2 411.1l-0.6 1.5M237.8 395.5l0.0 0.1M286.1 378.0l-1.1 0.5" stroke="#8ab8ec" stroke-width="1.5" stroke-linecap="round" fill="none"/>
<path d="M215.1 398.9l-2.4 0.6M226.2 399.2l-0.5 2.0M269.9 368.0l0.3 0.5M275.4 387.8l-1.7 0.1M173.9 402.0l-0.9 0.1M282.0 334.6l-1.2 1.3M281.1 406.6l1.0 0.5" stroke="#bcd8f4" stroke-width="2.5" stroke-linecap="round" fill="none"/>
<path d="M260.8 380.3l-0.7 1.5M290.0 383.8l-0.9 0.7M262.9 388.8l1.5 0.1M219.5 334.3l1.0 1.6M163.9 410.7l-0.3 0.8M236.5 382.2l1.2 0.3M228.5 344.4l0.6 1.5M225.1 395.5l-1.0 0.8M280.9 336.4l2.2 0.2M222.8 334.2l1.2 0.3M166.7 369.8l2.1 0.5" stroke="#ffffff" stroke-width="1.5" stroke-linecap="round" fill="none"/>
<path d="M215.1 347.8l0.6 0.3M215.1 406.0l1.9 0.1M220.2 404.8l1.7 0.7M274.7 360.4l-1.8 0.1M287.4 403.6l-0.0 0.6M236.2 390.4l-0.6 1.1M168.0 410.7l0.3 0.4M184.8 411.5l-0.5 0.1M210.4 400.4l-1.0 0.8M222.3 394.2l-0.5 1.1" stroke="#ffffff" stroke-width="2.0" stroke-linecap="round" fill="none"/>
<path d="M263.8 374.7l0.5 1.6M147.3 413.4l0.7 0.5M285.7 391.7l-1.3 0.7M248.5 376.1l0.7 0.5M218.2 403.7l-0.3 2.3M274.6 372.1l-0.2 0.1M280.5 393.3l-0.9 1.2M218.4 394.7l-1.2 0.5M159.9 401.5l-0.6 0.1" stroke="#bcd8f4" stroke-width="2.0" stroke-linecap="round" fill="none"/>
<path d="M260.2 381.1l-0.4 0.2M268.5 335.8l-2.1 0.8M278.0 399.4l-0.3 0.2M167.4 412.6l-1.4 0.5M220.8 393.6l0.2 0.3M271.9 393.0l2.2 0.9" stroke="#8ab8ec" stroke-width="2.0" stroke-linecap="round" fill="none"/>
<path d="M226.3 392.7l1.2 1.5" stroke="#bcd8f4" stroke-width="1.0" stroke-linecap="round" fill="none"/>
<path d="M267.9 394.6l0.5 0.1M217.0 403.4l-2.3 1.0M146.3 409.2l1.0 0.4M276.0 362.6l-0.4 1.9M271.6 393.7l1.8 1.5M277.5 398.5l-1.3 0.5M258.2 346.2l0.1 2.4M274.1 365.2l-0.1 0.1M222.9 388.5l-1.9 1.2M283.5 375.8l-0.0 0.0M248.4 344.0l2.2 0.9M289.7 387.6l-0.5 1.3" stroke="#eef6ff" stroke-width="2.0" stroke-linecap="round" fill="none"/>
<path d="M254.9 387.4l-0.5 0.1" stroke="#d8ecff" stroke-width="3.0" stroke-linecap="round" fill="none"/>
<path d="M180.8 403.1l0.5 0.9M165.0 397.3l1.3 0.7M285.8 375.7l-0.3 0.8M184.1 408.6l0.3 0.5M262.0 336.5l0.9 0.2M165.2 401.1l-0.8 1.4M277.2 354.8l-0.5 1.8M173.3 403.4l-0.1 2.0M287.2 335.0l0.0 0.0M179.0 400.1l0.1 0.1" stroke="#ffffff" stroke-width="2.5" stroke-linecap="round" fill="none"/>
<path d="M277.4 335.3l0.7 1.2M285.3 342.9l0.0 1.2M284.4 375.5l0.3 0.0M153.0 397.3l-1.3 1.8M287.5 412.6l0.1 0.5M275.4 335.7l-0.1 0.1M260.5 385.9l0.2 0.8M274.0 359.6l-0.2 0.3M243.1 337.1l0.2 1.3M213.3 333.5l-1.2 2.1M177.8 404.6l-0.3 0.3M220.2 391.8l-2.0 0.5" stroke="#f8f8f0" stroke-width="1.5" stroke-linecap="round" fill="none"/>
<path d="M251.2 391.7l0.2 0.1M256.0 393.5l1.3 1.1M211.3 397.4l-0.5 1.0M219.6 346.8l0.6 0.7M276.6 374.4l0.5 0.7M225.1 337.2l0.5 0.2M287.2 409.5l0.6 0.8" stroke="#d8ecff" stroke-width="2.5" stroke-linecap="round" fill="none"/>
<path d="M225.8 404.4l0.1 0.3M277.1 358.3l-0.3 0.2M166.3 397.9l1.8 1.1M288.0 370.7l0.3 0.2M205.3 334.5l-0.5 0.4M253.6 385.9l0.5 0.6M215.5 337.2l1.5 1.6" stroke="#8ab8ec" stroke-width="2.5" stroke-linecap="round" fill="none"/>
<path d="M278.3 349.1l-1.1 2.1M249.1 380.9l0.1 1.2M289.5 369.9l1.6 0.5M159.2 404.6l-0.1 0.0M259.0 347.4l-0.7 0.7M282.6 377.5l0.0 1.9M203.2 397.5l0.1 1.5M288.5 380.0l2.1 0.9M282.3 377.1l-1.0 0.7M178.0 399.7l-0.7 0.9M211.4 334.7l-1.2 1.6M235.4 394.8l1.9 0.5" stroke="#bcd8f4" stroke-width="1.5" stroke-linecap="round" fill="none"/>
<path d="M183.7 360.8l-0.7 0.2M279.0 389.4l0.8 0.7M170.1 396.4l-0.1 1.1M175.6 403.2l-1.5 0.3M267.6 349.6l-0.9 1.4M269.8 399.5l-0.6 1.0" stroke="#d8ecff" stroke-width="1.5" stroke-linecap="round" fill="none"/>
<path d="M282.9 359.5l0.1 0.2M283.9 346.4l-1.4 0.1M236.5 345.0l-0.2 0.7" stroke="#bcd8f4" stroke-width="3.0" stroke-linecap="round" fill="none"/>
<path d="M264.3 343.3l-1.2 1.5M238.2 379.9l-0.3 0.2M278.5 339.8l2.0 1.2M258.5 334.9l1.0 0.9M268.9 371.1l0.3 1.4M272.8 392.7l0.1 0.2M289.4 408.5l1.4 0.9M246.4 389.6l-0.3 0.8M256.4 342.1l1.1 1.0" stroke="#d8ecff" stroke-width="1.0" stroke-linecap="round" fill="none"/>
<path d="M281.3 382.0l-0.5 2.1M287.3 388.2l0.1 0.0M219.3 403.1l-0.5 0.5M287.4 362.2l-0.3 2.3M236.4 334.4l0.1 0.4M177.4 365.4l-1.3 0.0M246.4 397.8l1.1 0.1M251.9 337.2l-0.0 0.0M171.1 413.8l-0.7 2.4M218.7 397.8l-0.3 0.7M232.2 391.8l0.2 1.0" stroke="#d8ecff" stroke-width="2.0" stroke-linecap="round" fill="none"/>
<path d="M264.6 386.3l1.6 1.1M271.3 373.8l-0.2 1.4M219.7 395.1l-0.4 2.0M149.7 407.0l-0.3 0.7M259.4 381.0l-1.1 0.0M280.7 373.9l0.9 1.0M220.1 400.5l-0.0 0.8M281.0 401.3l0.1 1.4M270.2 400.8l1.2 0.3M283.0 381.4l0.5 0.8M156.5 407.2l-0.0 1.4M152.7 401.7l-2.0 0.3M253.0 334.9l-2.2 0.9M265.7 370.7l1.0 0.2M191.7 399.4l-0.8 1.7" stroke="#f8f8f0" stroke-width="2.5" stroke-linecap="round" fill="none"/>
<path d="M283.4 347.3l1.0 2.0M226.6 334.8l2.0 1.4M198.2 410.1l0.7 0.2M213.2 404.4l0.0 0.0M262.4 388.3l1.6 1.0M228.5 390.7l-1.8 0.1" stroke="#f8f8f0" stroke-width="2.0" stroke-linecap="round" fill="none"/>
<path d="M278.4 345.4l-1.4 0.5M164.4 399.8l-0.4 2.1M272.4 336.5l-1.3 0.3M209.0 398.2l-1.8 0.1M166.3 400.2l-0.9 0.9M270.7 334.7l0.0 1.0M162.4 396.0l0.6 0.6" stroke="#eef6ff" stroke-width="2.5" stroke-linecap="round" fill="none"/>
<path d="M259.2 335.6l1.5 1.1M162.8 409.9l-0.2 0.1M283.4 391.8l1.6 0.2M225.1 385.2l-0.0 1.5M238.5 394.1l1.9 0.1M278.7 375.6l0.0 0.3M174.2 400.3l-2.1 0.3" stroke="#ffffff" stroke-width="1.0" stroke-linecap="round" fill="none"/>
<path d="M236.6 388.2l-2.1 0.8M174.0 396.9l1.8 0.9M181.3 403.4l-1.0 0.9M211.5 392.4l-1.9 0.7" stroke="#f8f8f0" stroke-width="1.0" stroke-linecap="round" fill="none"/>
<path d="M276.1 377.9l0.3 0.8M256.2 395.9l0.3 0.3M191.9 407.2l0.6 0.4M250.6 380.4l1.7 0.8" stroke="#8ab8ec" stroke-width="1.0" stroke-linecap="round" fill="none"/>
<path d="M288.0 347.5l-0.6 0.4M221.1 346.7l0.3 0.6M283.6 363.6l0.1 1.6M284.8 399.3l-0.5 1.3M279.3 365.8l1.9 1.0M277.4 343.9l0.2 1.2M187.7 357.9l1.4 0.7M150.8 408.7l-1.1 1.8" stroke="#eef6ff" stroke-width="1.5" stroke-linecap="round" fill="none"/>
<path d="M220.1 334.5l-1.1 0.3" stroke="#ffffff" stroke-width="3.0" stroke-linecap="round" fill="none"/>
<path d="M273.6 372.3l-1.3 0.5" stroke="#eef6ff" stroke-width="1.0" stroke-linecap="round" fill="none"/>
<path d="M268.2 377.8l-0.1 1.3" stroke="#8ab8ec" stroke-width="3.0" stroke-linecap="round" fill="none"/>
<path d="M276.3 374.1l-0.3 0.8M151.7 400.7l0.3 0.0M273.2 368.7l-0.6 0.0M259.4 336.8l0.8 0.6M276.8 374.3l0.0 0.0M271.8 364.4l-0.0 0.1M155.1 400.3l-1.3 1.6M289.3 366.9l0.1 0.7M260.7 399.0l-0.2 0.3M170.4 399.5l0.4 0.6M268.9 372.2l0.1 0.1M289.9 355.2l-1.2 1.6M283.5 375.5l-0.9 1.5M239.6 381.8l0.3 0.7M213.4 345.6l-0.8 0.5" stroke="#2a50b8" stroke-width="1.5" stroke-linecap="round" fill="none"/>
<path d="M244.2 385.3l0.2 0.0M262.7 370.8l-0.2 0.1M226.3 334.8l1.3 1.9M177.7 402.4l0.0 0.0M262.4 394.7l1.9 0.9" stroke="#3a6ac8" stroke-width="1.0" stroke-linecap="round" fill="none"/>
<path d="M244.4 338.2l0.2 0.4M223.5 392.6l0.3 0.1M279.1 394.1l1.6 1.7M272.0 379.1l-0.7 0.6M247.0 378.7l0.1 0.1M275.7 357.1l-2.3 0.4M254.4 345.2l-1.2 1.6M279.7 350.0l1.0 1.3M253.4 379.6l1.1 1.9M286.9 346.9l0.1 0.0M273.8 344.4l-0.9 0.6M273.0 370.1l1.1 0.4M287.3 337.7l-1.7 1.6" stroke="#2a50b8" stroke-width="2.0" stroke-linecap="round" fill="none"/>
<path d="M220.4 405.3l1.5 0.4M283.0 399.6l1.2 0.0M258.6 387.8l-1.5 1.8M284.1 386.6l0.0 0.1M252.6 397.2l-0.1 1.5M155.1 410.1l-0.9 1.6M275.1 397.6l-0.1 0.4M244.7 381.5l-0.7 1.3" stroke="#5a4aa0" stroke-width="1.0" stroke-linecap="round" fill="none"/>
<path d="M264.0 392.7l-2.4 0.7M263.3 373.1l0.2 1.8M182.6 405.9l-1.0 0.4M285.2 384.9l-0.6 0.9M248.8 379.5l-2.1 0.5M250.8 391.2l0.0 0.2M273.5 357.9l0.7 1.4M287.2 343.5l0.7 0.2M284.7 338.4l-0.9 0.7M208.1 399.2l1.5 0.0M250.5 382.9l1.5 1.2M224.9 389.3l0.4 1.1M255.2 374.8l-0.1 1.1" stroke="#1e3a9a" stroke-width="2.0" stroke-linecap="round" fill="none"/>
<path d="M205.1 393.2l-0.7 1.2M287.2 386.3l-1.4 1.4M261.3 379.5l0.2 0.1M281.3 356.1l0.7 1.7M228.4 342.6l-0.8 1.3M177.7 397.9l1.7 1.4" stroke="#1e3a9a" stroke-width="1.0" stroke-linecap="round" fill="none"/>
<path d="M204.3 334.3l1.0 0.5M242.6 378.8l1.0 1.5M216.0 394.4l0.0 0.1M266.3 382.7l0.8 0.7M266.4 346.3l-1.6 0.5M281.3 404.3l-0.4 0.2M238.8 342.6l1.0 0.4M166.2 403.7l0.3 0.3M279.9 333.6l0.9 1.6M240.4 335.6l-0.1 0.4M278.8 405.0l0.0 0.0M273.3 377.5l0.7 1.2" stroke="#6aa0e0" stroke-width="1.5" stroke-linecap="round" fill="none"/>
<path d="M241.7 381.7l1.0 0.9M152.1 404.6l0.2 1.0M271.7 373.8l-0.9 0.4M213.1 335.6l0.4 0.2M258.5 377.2l1.7 0.3M243.6 383.6l0.9 1.1M232.6 346.1l0.8 1.7M162.7 397.9l-0.0 0.6M265.1 372.7l0.4 1.8M250.0 334.3l-1.2 1.5M153.6 399.4l0.4 0.1M188.6 359.8l0.0 0.5M289.9 348.5l0.3 0.0" stroke="#2a5ab0" stroke-width="2.0" stroke-linecap="round" fill="none"/>
<path d="M186.3 410.0l0.8 2.0M187.5 362.6l-0.3 0.2M251.1 335.4l-1.0 0.2" stroke="#6aa0e0" stroke-width="2.5" stroke-linecap="round" fill="none"/>
<path d="M279.8 338.3l0.1 0.4M199.8 352.6l0.2 0.2M175.2 405.5l-0.9 1.0M228.7 344.4l0.0 0.3M189.1 408.9l0.6 2.4M267.7 386.7l-0.2 1.8M215.2 336.7l0.7 0.8M191.0 355.4l-1.4 1.6M256.7 390.2l-0.9 0.8M272.7 391.3l-0.2 0.5M268.5 385.4l0.3 0.1M214.3 397.0l1.0 1.5M158.1 412.4l-1.4 0.2" stroke="#6aa0e0" stroke-width="2.0" stroke-linecap="round" fill="none"/>
<path d="M194.5 396.8l1.3 1.3M276.1 396.7l-2.0 0.8M209.2 397.5l-2.0 1.3M282.8 339.9l-2.3 0.4M268.2 339.0l1.2 2.2M212.3 338.1l-0.3 1.9" stroke="#5a4aa0" stroke-width="2.5" stroke-linecap="round" fill="none"/>
<path d="M222.7 343.7l0.5 0.8M216.6 405.5l0.2 0.2M246.5 338.2l-0.3 0.9M285.5 398.7l1.5 0.0M184.3 363.1l1.5 1.8M285.6 395.6l0.1 0.3M197.9 355.9l-0.3 0.3M279.5 378.6l-0.8 0.7M282.4 354.5l0.4 0.6M184.4 407.4l0.7 0.4" stroke="#5a4aa0" stroke-width="2.0" stroke-linecap="round" fill="none"/>
<path d="M285.1 373.0l0.5 1.0M278.9 336.9l2.1 0.3M239.4 336.8l-0.6 0.3M197.3 404.7l0.9 0.3M278.4 382.2l0.2 0.3M215.5 398.1l-0.7 1.3M278.0 377.8l-0.5 0.1" stroke="#3a6ac8" stroke-width="2.0" stroke-linecap="round" fill="none"/>
<path d="M272.7 364.9l0.1 2.2M285.1 339.6l1.1 2.0M283.7 333.2l-0.6 0.5M167.2 408.3l-0.4 1.9" stroke="#2a5ab0" stroke-width="1.0" stroke-linecap="round" fill="none"/>
<path d="M244.6 386.6l0.9 0.4M271.8 391.2l0.2 2.0M226.2 396.5l-0.9 0.9M209.8 336.1l0.4 0.6M282.2 345.6l0.5 0.4M220.1 335.9l1.7 0.9M270.7 335.4l-0.7 0.4" stroke="#2a5ab0" stroke-width="1.5" stroke-linecap="round" fill="none"/>
<path d="M268.3 351.5l0.7 1.8M277.0 360.8l1.9 1.2" stroke="#2a50b8" stroke-width="2.5" stroke-linecap="round" fill="none"/>
<path d="M221.5 402.0l-0.3 0.8M263.1 372.2l0.0 0.5M282.2 408.8l-0.4 0.5M267.0 345.7l-1.9 0.3" stroke="#5a4aa0" stroke-width="1.5" stroke-linecap="round" fill="none"/>
<path d="M286.6 345.8l0.1 1.5M288.6 367.6l-1.1 0.4M271.5 355.3l-0.0 0.0M223.4 404.3l-0.8 1.1" stroke="#2a50b8" stroke-width="1.0" stroke-linecap="round" fill="none"/>
<path d="M286.3 356.3l0.3 0.2M164.2 370.1l0.6 1.6M205.2 394.2l-1.7 1.5M173.8 395.4l-0.4 0.3M273.3 347.7l-0.0 0.0M262.9 342.5l0.3 1.2" stroke="#6aa0e0" stroke-width="1.0" stroke-linecap="round" fill="none"/>
<path d="M190.3 356.8l-0.9 0.4M224.2 395.3l1.0 0.7M218.7 335.9l0.1 0.1M272.9 382.7l0.6 1.8M271.9 374.7l1.2 0.6M219.0 396.7l-0.2 0.1M212.4 348.3l-2.2 0.7M288.2 337.3l-2.2 1.2" stroke="#1e3a9a" stroke-width="1.5" stroke-linecap="round" fill="none"/>
<path d="M193.5 405.5l0.2 0.6M217.9 398.4l0.4 2.1M148.8 414.3l1.5 0.2" stroke="#3a6ac8" stroke-width="2.5" stroke-linecap="round" fill="none"/>
<path d="M266.5 372.2l0.3 0.2M277.8 341.4l-0.3 0.5M257.5 346.6l0.2 0.1M146.0 406.6l-0.4 0.9M277.4 393.6l1.4 1.8M254.4 397.3l-0.8 0.3M287.0 414.8l-2.4 0.2" stroke="#3a6ac8" stroke-width="1.5" stroke-linecap="round" fill="none"/>
<path d="M155.1 403.7l-1.2 0.2" stroke="#2a5ab0" stroke-width="2.5" stroke-linecap="round" fill="none"/>
<path d="M287.7 390.0l-0.3 0.5M239.5 386.6l0.5 1.1M243.4 392.6l0.3 1.2M275.3 379.7l0.9 0.3" stroke="#a02a78" stroke-width="1.5" stroke-linecap="round" fill="none"/>
<path d="M219.4 405.0l-1.2 0.1M288.1 368.9l-0.8 1.5M273.2 342.6l0.3 1.6M216.5 338.2l1.3 0.6M284.4 366.2l0.0 0.0M272.9 398.4l-1.2 0.2M167.6 402.3l0.1 0.7M198.6 396.5l-0.4 1.0M282.0 405.7l0.5 0.0" stroke="#c0306a" stroke-width="1.0" stroke-linecap="round" fill="none"/>
<path d="M277.0 379.7l-1.2 1.1M264.9 398.3l0.1 0.9M221.5 396.9l0.1 0.4M177.0 410.4l-0.1 0.3M148.6 404.6l-0.2 0.0M286.7 333.5l0.2 0.6" stroke="#8a3aa0" stroke-width="1.0" stroke-linecap="round" fill="none"/>
<path d="M192.6 355.1l-0.1 0.3M282.8 385.1l-0.8 1.6M274.1 381.0l0.2 0.9M239.4 381.0l1.5 0.6M257.4 378.1l0.0 0.2" stroke="#a02a78" stroke-width="1.0" stroke-linecap="round" fill="none"/>
<path d="M276.9 348.6l-0.7 0.4M282.7 342.5l-0.9 0.2" stroke="#c0306a" stroke-width="1.5" stroke-linecap="round" fill="none"/>
<path d="M170.9 411.4l1.5 0.4M148.7 409.5l1.5 0.6M211.5 346.6l0.9 0.6M169.2 399.2l0.9 1.6" stroke="#8a3aa0" stroke-width="1.5" stroke-linecap="round" fill="none"/>
<path d="M146 323 L189 323 Q191 330 186 338 L146 338.5 Z" fill="#1c0c24"/>
<path d="M197 323 L268 323 Q266 331 262 336 Q250 339 235 340 Q215 340 204 337 Q198 331 197 323 Z" fill="#1c0c24"/>
<path d="M282.5 333.4l0.2 1.9M269.5 325.1l1.2 1.5M257.8 335.1l0.1 2.2M224.0 330.8l-0.1 0.1M177.4 325.9l-0.6 1.7M268.2 326.1l-1.2 1.6M238.6 323.6l-0.2 0.1M257.9 323.5l-0.6 2.1M275.7 328.4l0.1 1.8" stroke="#e0d0e0" stroke-width="2.0" stroke-linecap="round" fill="none"/>
<path d="M206.0 329.3l1.0 0.2M182.8 324.2l1.4 0.2M281.0 326.0l0.3 0.5M252.7 332.9l1.9 1.5M172.0 327.2l0.4 1.0M258.2 330.6l-0.7 0.2M260.9 334.0l1.9 1.4" stroke="#6a1a3a" stroke-width="1.0" stroke-linecap="round" fill="none"/>
<path d="M283.8 331.0l-0.9 0.9M220.9 333.3l0.4 1.1M252.8 332.1l0.0 0.0M201.0 325.1l1.1 0.1M240.9 330.4l-0.8 2.1" stroke="#a0203a" stroke-width="1.0" stroke-linecap="round" fill="none"/>
<path d="M263.2 327.2l1.4 2.0M267.8 335.1l0.4 0.1M284.7 328.0l-0.0 1.7M176.5 329.5l-1.0 0.1M225.0 325.7l-0.3 1.1" stroke="#3a2a7a" stroke-width="2.0" stroke-linecap="round" fill="none"/>
<path d="M182.3 335.9l-1.3 0.8M147.4 331.5l0.6 0.1M197.6 329.2l-1.1 0.1M159.9 327.0l-0.5 0.1" stroke="#e0d0e0" stroke-width="1.0" stroke-linecap="round" fill="none"/>
<path d="M200.0 333.5l-1.7 0.9M186.2 334.9l-1.7 0.1M162.0 330.2l-1.8 0.6M158.9 327.3l-0.7 0.4" stroke="#a0203a" stroke-width="1.5" stroke-linecap="round" fill="none"/>
<path d="M203.6 323.1l-2.3 0.2M212.6 329.2l0.3 0.0M173.7 334.3l-0.4 0.2M178.2 327.8l-1.1 0.0M223.3 324.9l0.8 1.8M269.5 330.5l0.2 0.0M262.3 325.5l-2.1 1.3M237.8 330.4l-0.1 0.7" stroke="#6a1a3a" stroke-width="1.5" stroke-linecap="round" fill="none"/>
<path d="M247.7 324.9l0.0 0.0M260.1 330.1l-2.4 0.3M199.1 323.7l0.2 0.2M174.7 332.5l1.3 1.5M229.0 331.5l-0.5 0.9M175.4 330.7l-0.3 0.7" stroke="#e0d0e0" stroke-width="1.5" stroke-linecap="round" fill="none"/>
<path d="M154.1 326.0l-1.2 0.6M229.1 328.0l-0.5 0.4M254.4 332.4l0.3 0.9M162.6 334.9l0.9 1.0M164.9 328.4l1.3 1.3M250.9 333.1l-1.5 1.6" stroke="#c03050" stroke-width="2.0" stroke-linecap="round" fill="none"/>
<path d="M272.5 328.8l-0.7 1.9M213.3 333.9l-0.9 0.6" stroke="#3a2a7a" stroke-width="1.5" stroke-linecap="round" fill="none"/>
<path d="M225.1 324.8l0.4 0.5M177.7 335.8l-0.6 1.9M185.7 324.4l-0.5 1.0" stroke="#2a3a8a" stroke-width="2.0" stroke-linecap="round" fill="none"/>
<path d="M188.8 332.0l2.0 1.3M289.2 328.5l0.1 1.4M234.2 326.1l0.3 0.0M251.2 332.0l-0.3 0.3" stroke="#c03050" stroke-width="1.5" stroke-linecap="round" fill="none"/>
<path d="M267.9 329.1l-0.2 0.2M251.8 331.8l1.5 1.0M275.3 330.1l0.5 1.0" stroke="#a0203a" stroke-width="2.0" stroke-linecap="round" fill="none"/>
<path d="M263.1 333.1l-0.3 1.2" stroke="#c03050" stroke-width="1.0" stroke-linecap="round" fill="none"/>
<path d="M255.8 327.5l-0.5 0.2M191.6 327.4l-0.2 1.0M151.4 335.0l0.3 0.5M230.4 331.3l0.5 0.9" stroke="#3a2a7a" stroke-width="1.0" stroke-linecap="round" fill="none"/>
<path d="M191.9 327.8l0.6 0.8M235.6 325.2l1.0 1.0M172.3 323.9l0.9 0.4M179.5 331.4l-0.0 0.3" stroke="#6a1a3a" stroke-width="2.0" stroke-linecap="round" fill="none"/>
<path d="M288.7 325.4l0.6 0.4M282.0 334.4l0.4 1.8M287.0 326.0l-0.9 1.4M284.3 335.9l-0.4 0.3M226.6 332.8l0.1 0.2" stroke="#2a3a8a" stroke-width="1.5" stroke-linecap="round" fill="none"/>
<path d="M266 323 L291 323 L291 339 Q280 341 268 338 Q264 331 266 323 Z" fill="#f6f0f2"/>
<path d="M287.3 334.7l-1.0 0.9M289.9 325.2l1.7 0.5M273.5 330.3l-0.5 1.1M268.2 337.8l0.1 0.2M285.6 332.2l-0.2 0.7M271.4 331.3l-0.0 0.0M282.1 335.7l0.6 1.0M273.5 328.4l1.2 1.2M275.2 333.9l1.2 0.7" stroke="#8a5aa8" stroke-width="1.0" stroke-linecap="round" fill="none"/>
<path d="M267.4 327.7l0.3 0.3M279.2 329.4l-1.8 0.1M268.2 326.5l-1.0 0.4M283.0 325.6l0.3 0.8M273.4 336.6l-0.6 1.8" stroke="#b06a9a" stroke-width="1.0" stroke-linecap="round" fill="none"/>
<path d="M284.4 330.2l-0.2 1.7M271.3 336.2l-1.1 1.4M271.8 337.5l-1.1 0.6" stroke="#b06a9a" stroke-width="1.5" stroke-linecap="round" fill="none"/>
<path d="M272.6 324.4l0.0 0.9" stroke="#8a5aa8" stroke-width="1.5" stroke-linecap="round" fill="none"/>
<path d="M270.6 328.1l0.3 1.7" stroke="#6a4a9a" stroke-width="1.5" stroke-linecap="round" fill="none"/>
<path d="M267.9 328.9l-1.3 0.7" stroke="#3a3a8a" stroke-width="1.0" stroke-linecap="round" fill="none"/>
<path d="M283.3 332.3l0.5 0.3M276.7 334.2l0.3 0.6" stroke="#6a4a9a" stroke-width="1.0" stroke-linecap="round" fill="none"/>
<path d="M192.0 357.5C193.5 356.7 195.9 354.6 201.0 352.5C206.1 350.4 215.2 346.5 222.3 345.0C229.4 343.5 237.2 343.4 243.5 343.5C249.8 343.6 256.1 344.2 260.4 345.3C264.6 346.4 266.7 347.9 269.0 350.0C271.3 352.1 273.2 356.7 274.0 358.0" stroke="#1a2a8a" stroke-width="7" fill="none" stroke-opacity="0.75"/>
<path d="M146.0 375.5C148.3 371.6 155.1 373.3 160.0 372.0C164.9 370.7 169.6 369.6 175.3 367.5C181.0 365.4 190.1 361.7 194.4 359.5C198.7 357.3 196.3 356.5 201.0 354.5C205.7 352.5 215.2 348.9 222.3 347.5C229.4 346.1 237.2 345.9 243.5 346.0C249.8 346.1 256.1 346.7 260.4 347.8C264.6 348.9 267.0 350.6 269.0 352.6C271.0 354.6 272.5 357.6 272.5 360.0C272.5 362.4 271.0 365.1 269.0 367.0C267.0 368.9 263.6 370.2 260.4 371.3C257.2 372.4 253.7 372.7 250.0 373.3C246.3 373.9 241.2 374.2 238.0 375.0C234.8 375.8 232.8 376.8 231.0 378.0C229.2 379.2 228.8 380.4 227.5 382.0C226.2 383.6 224.9 385.8 223.0 387.3C221.1 388.8 220.1 390.1 216.3 391.2C212.5 392.3 204.0 392.8 200.0 393.8C196.0 394.9 194.3 395.9 192.5 397.5C190.7 399.1 190.3 401.5 189.3 403.5C188.3 405.5 187.5 409.6 186.5 409.5C185.5 409.4 184.7 404.9 183.5 403.0C182.3 401.1 180.9 399.3 179.5 398.0C178.1 396.7 177.8 395.8 175.3 395.2C172.8 394.6 169.3 394.2 164.4 394.3C159.5 394.4 149.1 398.6 146.0 395.5C142.9 392.4 143.7 379.4 146.0 375.5Z" fill="#fcfbee" stroke="#0e1650" stroke-width="2.8"/>
<path d="M146.0 375.5C148.3 374.9 155.1 373.3 160.0 372.0C164.9 370.7 169.6 369.6 175.3 367.5C181.0 365.4 190.1 361.7 194.4 359.5C198.7 357.3 196.3 356.5 201.0 354.5C205.7 352.5 215.2 348.9 222.3 347.5C229.4 346.1 237.2 345.9 243.5 346.0C249.8 346.1 256.1 346.7 260.4 347.8C264.6 348.9 267.0 350.6 269.0 352.6C271.0 354.6 271.9 358.8 272.5 360.0" stroke="#0a0e3a" stroke-width="2.6" fill="none"/>
<path d="M146.0 414.8C148.3 414.7 154.2 414.6 160.0 414.3C165.8 414.0 173.7 414.1 180.8 413.2C187.9 412.3 194.4 411.0 202.6 409.2C210.8 407.4 222.6 404.1 229.9 402.3C237.2 400.5 240.8 398.8 246.3 398.4C251.8 397.9 257.7 398.5 262.7 399.6C267.7 400.7 272.7 402.5 276.3 405.0C279.9 407.5 282.4 410.8 284.5 414.6C286.6 418.4 288.2 425.8 289.0 428.0" stroke="#10102a" stroke-width="4" fill="none"/>
<path d="M146.0 418.8C148.3 418.7 154.2 418.6 160.0 418.3C165.8 418.0 173.7 418.1 180.8 417.2C187.9 416.3 194.4 415.0 202.6 413.2C210.8 411.4 222.6 408.1 229.9 406.3C237.2 404.5 240.8 402.8 246.3 402.4C251.8 401.9 257.7 402.5 262.7 403.6C267.7 404.7 272.7 406.5 276.3 409.0C279.9 411.5 282.4 414.8 284.5 418.6C286.6 422.4 288.2 429.8 289.0 432.0" stroke="#c8183c" stroke-width="3.5" fill="none" stroke-opacity="0.85"/>
<path d="M181.0 414.1l-0.1 0.2M207.2 408.8l-1.3 0.8M283.1 416.0l-0.3 0.3M177.3 416.9l-0.6 1.6M239.9 403.0l2.5 0.1M209.1 411.5l1.8 1.0M241.2 400.5l-0.5 0.7M192.2 412.2l-0.8 1.3M209.4 415.4l1.1 2.0" stroke="#e83a5a" stroke-width="1.5" stroke-linecap="round" fill="none"/>
<path d="M262.0 407.3l-0.6 1.8M253.4 403.0l-1.3 2.1M153.1 418.1l0.8 1.0M190.3 411.3l-0.6 1.0M239.0 401.3l1.1 0.2M223.9 409.9l-1.2 1.9M240.8 405.9l1.8 0.9M157.6 419.7l0.7 1.0M271.3 406.6l-0.2 1.0" stroke="#801020" stroke-width="2.0" stroke-linecap="round" fill="none"/>
<path d="M218.5 406.3l0.3 1.8M164.3 420.8l-0.6 2.0M248.5 406.5l-0.3 0.2M226.2 411.7l0.5 1.5M277.2 415.0l-0.7 0.6M262.2 400.8l-0.5 1.0M189.5 419.5l1.5 0.4" stroke="#a01030" stroke-width="2.0" stroke-linecap="round" fill="none"/>
<path d="M242.6 402.1l-2.4 0.2M148.9 415.1l-0.0 0.0M279.6 417.9l1.9 0.4M201.2 409.6l0.2 0.2M200.7 417.6l-1.6 0.2" stroke="#a01030" stroke-width="1.5" stroke-linecap="round" fill="none"/>
<path d="M156.7 416.6l0.8 0.9M252.0 405.1l-0.2 0.5M181.2 412.9l-0.5 1.8M279.9 408.5l0.3 0.5" stroke="#801020" stroke-width="1.5" stroke-linecap="round" fill="none"/>
<path d="M237.6 399.5l-2.2 0.1M276.5 409.6l0.1 2.2M208.2 408.6l-1.8 0.0M184.7 417.9l-0.3 0.1M147.9 417.4l1.6 1.6" stroke="#d01a40" stroke-width="2.0" stroke-linecap="round" fill="none"/>
<path d="M190.7 411.9l0.7 0.3M283.5 411.9l2.3 0.9M258.5 399.3l0.2 1.3M152.2 420.5l0.1 0.0" stroke="#a01030" stroke-width="1.0" stroke-linecap="round" fill="none"/>
<path d="M201.1 416.8l-1.3 1.4M182.2 413.8l-0.5 0.6M217.4 405.6l1.5 0.9M218.5 410.1l0.8 1.4M278.1 416.0l-0.2 0.0M242.4 407.1l0.1 0.5M287.2 421.4l-0.0 0.6M217.0 411.3l-2.4 0.1M274.2 403.2l0.5 2.1" stroke="#801020" stroke-width="2.5" stroke-linecap="round" fill="none"/>
<path d="M235.2 401.4l1.2 0.1M199.7 418.3l0.3 0.7M262.7 404.3l0.1 0.0M288.2 418.8l1.4 0.7M182.5 414.2l-0.5 1.6M287.4 424.6l1.8 1.2" stroke="#d01a40" stroke-width="2.5" stroke-linecap="round" fill="none"/>
<path d="M152.6 422.9l1.3 0.1M210.1 413.7l-0.1 1.7M285.6 416.6l-0.7 2.1M203.7 413.1l-0.5 0.1M258.9 402.0l0.9 1.6" stroke="#e83a5a" stroke-width="2.5" stroke-linecap="round" fill="none"/>
<path d="M158.4 420.6l0.4 0.2M269.2 409.4l-0.3 0.0M269.4 402.1l-0.8 0.3M232.6 403.6l-0.2 0.1M231.8 403.4l0.0 0.3M240.7 405.6l0.1 0.1M225.8 404.6l-1.5 1.3M289.7 427.0l1.2 0.3" stroke="#a01030" stroke-width="2.5" stroke-linecap="round" fill="none"/>
<path d="M268.3 402.8l0.7 2.0M224.6 410.2l-1.3 1.6M261.0 403.5l0.7 0.5M167.6 417.0l-0.0 2.0" stroke="#2a1a4a" stroke-width="2.0" stroke-linecap="round" fill="none"/>
<path d="M250.4 402.6l-0.5 1.0M215.7 406.2l0.3 0.8M149.1 418.1l-0.7 0.1M175.1 415.1l0.9 0.4M226.6 403.4l-0.7 0.1M154.8 417.9l1.3 1.2M232.3 409.1l1.3 0.6M231.1 404.6l0.1 0.2M182.5 419.9l-2.2 0.9M184.9 416.9l-0.2 1.4M268.2 402.4l-2.3 1.1" stroke="#e83a5a" stroke-width="2.0" stroke-linecap="round" fill="none"/>
<path d="M177.7 420.0l-1.6 1.8M242.1 401.9l2.0 0.9M248.7 406.7l-0.8 0.3" stroke="#2a1a4a" stroke-width="1.0" stroke-linecap="round" fill="none"/>
<path d="M230.3 403.9l-0.9 0.5M234.1 408.1l-0.6 2.1M250.7 403.2l-1.6 1.1M152.2 423.0l1.4 2.0M193.6 417.3l0.0 1.5M286.9 419.0l-0.1 0.1M273.3 403.4l-0.9 0.7M282.3 422.4l1.5 0.7M278.0 407.0l-0.5 0.5" stroke="#2a1a4a" stroke-width="1.5" stroke-linecap="round" fill="none"/>
<path d="M146.3 420.9l0.7 0.2M170.8 414.4l-2.0 0.6M180.0 420.5l0.8 1.0M256.4 403.9l-0.0 0.0" stroke="#801020" stroke-width="1.0" stroke-linecap="round" fill="none"/>
<path d="M204.7 414.0l1.4 1.3M214.9 408.5l0.1 1.9M211.4 409.5l0.3 0.5M176.0 418.3l0.8 0.7" stroke="#d01a40" stroke-width="1.5" stroke-linecap="round" fill="none"/>
<path d="M184.1 417.0l1.7 1.4M242.9 404.6l-2.1 0.3" stroke="#2a1a4a" stroke-width="2.5" stroke-linecap="round" fill="none"/>
<path d="M238.7 408.2l2.3 0.1M271.4 410.7l1.0 0.0" stroke="#d01a40" stroke-width="1.0" stroke-linecap="round" fill="none"/>
<ellipse cx="247.5" cy="405.5" rx="3.5" ry="4" fill="#b81a3a"/>
<ellipse cx="280" cy="411" rx="3" ry="3.5" fill="#b81a3a"/>
<ellipse cx="224" cy="408" rx="3" ry="2" fill="#b81a3a"/>
<ellipse cx="262" cy="405.5" rx="2.5" ry="2" fill="#b81a3a"/>
<path d="M146 428 L146 417 Q165 418 185 416 Q180 422 165 424 L150 428 Z" fill="#b01a40"/>
<path d="M146 428 L146 423 Q160 423 175 426 L175 428 Z" fill="#301020"/>
<text x="151" y="334.5" font-size="9.6" fill="#fff" stroke="#1a1a1a" stroke-width="2" stroke-linejoin="round" paint-order="stroke" letter-spacing="0.1">cGVHD</text>
</g>
<g class="ch">
<line x1="34.5" y1="24.7" x2="34.5" y2="117.6" stroke="#1a1a1a" stroke-width="1.3"/>
<line x1="34.5" y1="117.6" x2="82.5" y2="117.6" stroke="#1a1a1a" stroke-width="1.3"/>
<line x1="32.0" y1="117.60" x2="34.5" y2="117.60" stroke="#1a1a1a" stroke-width="1.1"/>
<text x="29.9" y="120.60" text-anchor="end" font-size="8.6" fill="#151515">0.0</text>
<line x1="32.0" y1="94.50" x2="34.5" y2="94.50" stroke="#1a1a1a" stroke-width="1.1"/>
<text x="29.9" y="97.50" text-anchor="end" font-size="8.6" fill="#151515">0.5</text>
<line x1="32.0" y1="71.40" x2="34.5" y2="71.40" stroke="#1a1a1a" stroke-width="1.1"/>
<text x="29.9" y="74.40" text-anchor="end" font-size="8.6" fill="#151515">1.0</text>
<line x1="32.0" y1="48.30" x2="34.5" y2="48.30" stroke="#1a1a1a" stroke-width="1.1"/>
<text x="29.9" y="51.30" text-anchor="end" font-size="8.6" fill="#151515">1.5</text>
<line x1="32.0" y1="25.20" x2="34.5" y2="25.20" stroke="#1a1a1a" stroke-width="1.1"/>
<text x="29.9" y="28.20" text-anchor="end" font-size="8.6" fill="#151515">2.0</text>
<line x1="44.0" y1="117.6" x2="44.0" y2="120.1" stroke="#1a1a1a" stroke-width="1.1"/>
<line x1="58.3" y1="117.6" x2="58.3" y2="120.1" stroke="#1a1a1a" stroke-width="1.1"/>
<line x1="72.6" y1="117.6" x2="72.6" y2="120.1" stroke="#1a1a1a" stroke-width="1.1"/>
<text transform="translate(46.1,126.39999999999999) rotate(-45)" text-anchor="end" font-size="8.2" fill="#151515">BM only</text>
<text transform="translate(60.4,126.39999999999999) rotate(-45)" text-anchor="end" font-size="8.2" fill="#151515">cGVHD</text>
<text transform="translate(74.69999999999999,126.39999999999999) rotate(-45)" text-anchor="end" font-size="8.2" fill="#151515">JQ5 treated</text>
<text x="58.2" y="23.2" text-anchor="middle" font-size="8.2" fill="#151515" letter-spacing="-0.22">Resistance</text>
<text transform="translate(14.2,67.5) rotate(-90)" text-anchor="middle" font-size="8" fill="#151515">cmH2O.s/mL</text>
<line x1="43.3" y1="40.099999999999994" x2="57.1" y2="40.099999999999994" stroke="#2a2a2a" stroke-width="1.6"/>
<polygon points="44.73,34.60 45.28,35.73 46.53,35.91 45.63,36.79 45.84,38.04 44.73,37.45 43.61,38.04 43.82,36.79 42.92,35.91 44.17,35.73" fill="#1a1a1a"/>
<polygon points="48.38,34.60 48.93,35.73 50.18,35.91 49.28,36.79 49.49,38.04 48.38,37.45 47.26,38.04 47.47,36.79 46.57,35.91 47.82,35.73" fill="#1a1a1a"/>
<polygon points="52.03,34.60 52.58,35.73 53.83,35.91 52.93,36.79 53.14,38.04 52.03,37.45 50.91,38.04 51.12,36.79 50.22,35.91 51.47,35.73" fill="#1a1a1a"/>
<polygon points="55.68,34.60 56.23,35.73 57.48,35.91 56.58,36.79 56.79,38.04 55.68,37.45 54.56,38.04 54.77,36.79 53.87,35.91 55.12,35.73" fill="#1a1a1a"/>
<line x1="60.6" y1="40.099999999999994" x2="73.6" y2="40.099999999999994" stroke="#2a2a2a" stroke-width="1.6"/>
<polygon points="65.27,34.60 65.83,35.73 67.08,35.91 66.18,36.79 66.39,38.04 65.27,37.45 64.16,38.04 64.37,36.79 63.47,35.91 64.72,35.73" fill="#1a1a1a"/>
<polygon points="68.92,34.60 69.48,35.73 70.73,35.91 69.83,36.79 70.04,38.04 68.92,37.45 67.81,38.04 68.02,36.79 67.12,35.91 68.37,35.73" fill="#1a1a1a"/>
<circle cx="44.00" cy="75.80" r="1.4" fill="#1b5c9e"/>
<circle cx="44.00" cy="78.70" r="1.4" fill="#1b5c9e"/>
<circle cx="45.80" cy="82.60" r="1.4" fill="#1b5c9e"/>
<circle cx="42.40" cy="84.50" r="1.4" fill="#1b5c9e"/>
<circle cx="47.20" cy="85.50" r="1.4" fill="#1b5c9e"/>
<circle cx="44.80" cy="86.00" r="1.4" fill="#1b5c9e"/>
<circle cx="40.60" cy="88.00" r="1.4" fill="#1b5c9e"/>
<circle cx="46.80" cy="88.40" r="1.4" fill="#1b5c9e"/>
<circle cx="43.00" cy="89.40" r="1.4" fill="#1b5c9e"/>
<circle cx="45.80" cy="90.90" r="1.4" fill="#1b5c9e"/>
<circle cx="41.40" cy="93.30" r="1.4" fill="#1b5c9e"/>
<circle cx="44.80" cy="94.20" r="1.4" fill="#1b5c9e"/>
<circle cx="46.80" cy="95.70" r="1.4" fill="#1b5c9e"/>
<circle cx="41.40" cy="96.20" r="1.4" fill="#1b5c9e"/>
<circle cx="44.00" cy="102.50" r="1.4" fill="#1b5c9e"/>
<circle cx="44.00" cy="109.30" r="1.4" fill="#1b5c9e"/>
<line x1="39.4" y1="90.4" x2="48.6" y2="90.4" stroke="#000" stroke-width="1"/>
<line x1="44.0" y1="88.4" x2="44.0" y2="92.4" stroke="#000" stroke-width="0.9"/>
<line x1="41.4" y1="88.4" x2="46.6" y2="88.4" stroke="#000" stroke-width="0.9"/>
<line x1="41.4" y1="92.4" x2="46.6" y2="92.4" stroke="#000" stroke-width="0.9"/>
<rect x="56.90" y="43.20" width="2.8" height="2.8" fill="#d4103c"/>
<rect x="56.90" y="58.40" width="2.8" height="2.8" fill="#d4103c"/>
<rect x="56.90" y="61.60" width="2.8" height="2.8" fill="#d4103c"/>
<rect x="56.90" y="70.30" width="2.8" height="2.8" fill="#d4103c"/>
<rect x="54.10" y="75.40" width="2.8" height="2.8" fill="#d4103c"/>
<rect x="59.70" y="75.40" width="2.8" height="2.8" fill="#d4103c"/>
<rect x="55.50" y="77.80" width="2.8" height="2.8" fill="#d4103c"/>
<rect x="58.30" y="77.80" width="2.8" height="2.8" fill="#d4103c"/>
<rect x="54.50" y="80.20" width="2.8" height="2.8" fill="#d4103c"/>
<rect x="59.30" y="80.20" width="2.8" height="2.8" fill="#d4103c"/>
<rect x="55.50" y="82.60" width="2.8" height="2.8" fill="#d4103c"/>
<rect x="58.90" y="82.60" width="2.8" height="2.8" fill="#d4103c"/>
<rect x="54.50" y="85.10" width="2.8" height="2.8" fill="#d4103c"/>
<rect x="59.30" y="85.10" width="2.8" height="2.8" fill="#d4103c"/>
<rect x="54.50" y="87.50" width="2.8" height="2.8" fill="#d4103c"/>
<rect x="59.30" y="87.50" width="2.8" height="2.8" fill="#d4103c"/>
<line x1="53.699999999999996" y1="76.8" x2="62.9" y2="76.8" stroke="#000" stroke-width="1"/>
<line x1="58.3" y1="73.8" x2="58.3" y2="79.8" stroke="#000" stroke-width="0.9"/>
<line x1="55.699999999999996" y1="73.8" x2="60.9" y2="73.8" stroke="#000" stroke-width="0.9"/>
<line x1="55.699999999999996" y1="79.8" x2="60.9" y2="79.8" stroke="#000" stroke-width="0.9"/>
<circle cx="70.20" cy="81.20" r="1.4" fill="#5e1e7a"/>
<circle cx="75.00" cy="81.20" r="1.4" fill="#5e1e7a"/>
<circle cx="71.60" cy="83.10" r="1.4" fill="#5e1e7a"/>
<circle cx="69.80" cy="85.50" r="1.4" fill="#5e1e7a"/>
<circle cx="75.00" cy="85.50" r="1.4" fill="#5e1e7a"/>
<circle cx="69.40" cy="88.60" r="1.4" fill="#5e1e7a"/>
<circle cx="72.60" cy="88.60" r="1.4" fill="#5e1e7a"/>
<circle cx="75.80" cy="88.60" r="1.4" fill="#5e1e7a"/>
<circle cx="72.60" cy="92.80" r="1.4" fill="#5e1e7a"/>
<line x1="68.0" y1="86.0" x2="77.19999999999999" y2="86.0" stroke="#000" stroke-width="1"/>
<line x1="72.6" y1="84.8" x2="72.6" y2="87.2" stroke="#000" stroke-width="0.9"/>
<line x1="70.0" y1="84.8" x2="75.19999999999999" y2="84.8" stroke="#000" stroke-width="0.9"/>
<line x1="70.0" y1="87.2" x2="75.19999999999999" y2="87.2" stroke="#000" stroke-width="0.9"/>
<line x1="112.7" y1="24.7" x2="112.7" y2="117.6" stroke="#1a1a1a" stroke-width="1.3"/>
<line x1="112.7" y1="117.6" x2="161.4" y2="117.6" stroke="#1a1a1a" stroke-width="1.3"/>
<line x1="110.2" y1="117.60" x2="112.7" y2="117.60" stroke="#1a1a1a" stroke-width="1.1"/>
<text x="108.10000000000001" y="120.60" text-anchor="end" font-size="8.6" fill="#151515">0</text>
<line x1="110.2" y1="94.50" x2="112.7" y2="94.50" stroke="#1a1a1a" stroke-width="1.1"/>
<text x="108.10000000000001" y="97.50" text-anchor="end" font-size="8.6" fill="#151515">20</text>
<line x1="110.2" y1="71.40" x2="112.7" y2="71.40" stroke="#1a1a1a" stroke-width="1.1"/>
<text x="108.10000000000001" y="74.40" text-anchor="end" font-size="8.6" fill="#151515">40</text>
<line x1="110.2" y1="48.30" x2="112.7" y2="48.30" stroke="#1a1a1a" stroke-width="1.1"/>
<text x="108.10000000000001" y="51.30" text-anchor="end" font-size="8.6" fill="#151515">60</text>
<line x1="110.2" y1="25.20" x2="112.7" y2="25.20" stroke="#1a1a1a" stroke-width="1.1"/>
<text x="108.10000000000001" y="28.20" text-anchor="end" font-size="8.6" fill="#151515">80</text>
<line x1="122.6" y1="117.6" x2="122.6" y2="120.1" stroke="#1a1a1a" stroke-width="1.1"/>
<line x1="136.7" y1="117.6" x2="136.7" y2="120.1" stroke="#1a1a1a" stroke-width="1.1"/>
<line x1="150.9" y1="117.6" x2="150.9" y2="120.1" stroke="#1a1a1a" stroke-width="1.1"/>
<text transform="translate(124.69999999999999,126.39999999999999) rotate(-45)" text-anchor="end" font-size="8.2" fill="#151515">BM only</text>
<text transform="translate(138.79999999999998,126.39999999999999) rotate(-45)" text-anchor="end" font-size="8.2" fill="#151515">cGVHD</text>
<text transform="translate(153.0,126.39999999999999) rotate(-45)" text-anchor="end" font-size="8.2" fill="#151515">JQ5 treated</text>
<text x="137" y="23.2" text-anchor="middle" font-size="8.2" fill="#151515" letter-spacing="-0.22">Elastance</text>
<text transform="translate(95.7,67.5) rotate(-90)" text-anchor="middle" font-size="8" fill="#151515">cmH2O/mL</text>
<line x1="121.7" y1="40.099999999999994" x2="135.2" y2="40.099999999999994" stroke="#2a2a2a" stroke-width="1.6"/>
<polygon points="122.97,34.60 123.53,35.73 124.78,35.91 123.88,36.79 124.09,38.04 122.97,37.45 121.86,38.04 122.07,36.79 121.17,35.91 122.42,35.73" fill="#1a1a1a"/>
<polygon points="126.62,34.60 127.18,35.73 128.43,35.91 127.53,36.79 127.74,38.04 126.62,37.45 125.51,38.04 125.72,36.79 124.82,35.91 126.07,35.73" fill="#1a1a1a"/>
<polygon points="130.27,34.60 130.83,35.73 132.08,35.91 131.18,36.79 131.39,38.04 130.27,37.45 129.16,38.04 129.37,36.79 128.47,35.91 129.72,35.73" fill="#1a1a1a"/>
<polygon points="133.92,34.60 134.48,35.73 135.73,35.91 134.83,36.79 135.04,38.04 133.92,37.45 132.81,38.04 133.02,36.79 132.12,35.91 133.37,35.73" fill="#1a1a1a"/>
<line x1="139" y1="40.099999999999994" x2="152.2" y2="40.099999999999994" stroke="#2a2a2a" stroke-width="1.6"/>
<polygon points="140.12,34.60 140.68,35.73 141.93,35.91 141.03,36.79 141.24,38.04 140.12,37.45 139.01,38.04 139.22,36.79 138.32,35.91 139.57,35.73" fill="#1a1a1a"/>
<polygon points="143.78,34.60 144.33,35.73 145.58,35.91 144.68,36.79 144.89,38.04 143.78,37.45 142.66,38.04 142.87,36.79 141.97,35.91 143.22,35.73" fill="#1a1a1a"/>
<polygon points="147.42,34.60 147.98,35.73 149.23,35.91 148.33,36.79 148.54,38.04 147.42,37.45 146.31,38.04 146.52,36.79 145.62,35.91 146.87,35.73" fill="#1a1a1a"/>
<polygon points="151.07,34.60 151.63,35.73 152.88,35.91 151.98,36.79 152.19,38.04 151.07,37.45 149.96,38.04 150.17,36.79 149.27,35.91 150.52,35.73" fill="#1a1a1a"/>
<circle cx="122.60" cy="73.90" r="1.4" fill="#1b5c9e"/>
<circle cx="122.60" cy="78.40" r="1.4" fill="#1b5c9e"/>
<circle cx="121.20" cy="82.00" r="1.4" fill="#1b5c9e"/>
<circle cx="124.00" cy="82.00" r="1.4" fill="#1b5c9e"/>
<circle cx="120.00" cy="84.60" r="1.4" fill="#1b5c9e"/>
<circle cx="125.20" cy="84.60" r="1.4" fill="#1b5c9e"/>
<circle cx="122.60" cy="86.00" r="1.4" fill="#1b5c9e"/>
<circle cx="119.60" cy="88.50" r="1.4" fill="#1b5c9e"/>
<circle cx="123.10" cy="88.50" r="1.4" fill="#1b5c9e"/>
<circle cx="125.60" cy="88.50" r="1.4" fill="#1b5c9e"/>
<circle cx="121.60" cy="90.00" r="1.4" fill="#1b5c9e"/>
<circle cx="121.60" cy="96.50" r="1.4" fill="#1b5c9e"/>
<circle cx="123.60" cy="96.50" r="1.4" fill="#1b5c9e"/>
<line x1="118.0" y1="86.3" x2="127.19999999999999" y2="86.3" stroke="#000" stroke-width="1"/>
<line x1="122.6" y1="84.8" x2="122.6" y2="87.8" stroke="#000" stroke-width="0.9"/>
<line x1="120.0" y1="84.8" x2="125.19999999999999" y2="84.8" stroke="#000" stroke-width="0.9"/>
<line x1="120.0" y1="87.8" x2="125.19999999999999" y2="87.8" stroke="#000" stroke-width="0.9"/>
<rect x="135.30" y="47.40" width="2.8" height="2.8" fill="#d4103c"/>
<rect x="132.70" y="54.60" width="2.8" height="2.8" fill="#d4103c"/>
<rect x="136.10" y="54.60" width="2.8" height="2.8" fill="#d4103c"/>
<rect x="139.10" y="54.60" width="2.8" height="2.8" fill="#d4103c"/>
<rect x="131.90" y="57.10" width="2.8" height="2.8" fill="#d4103c"/>
<rect x="138.50" y="57.10" width="2.8" height="2.8" fill="#d4103c"/>
<rect x="132.30" y="64.60" width="2.8" height="2.8" fill="#d4103c"/>
<rect x="138.10" y="64.60" width="2.8" height="2.8" fill="#d4103c"/>
<rect x="135.30" y="66.60" width="2.8" height="2.8" fill="#d4103c"/>
<rect x="132.30" y="68.40" width="2.8" height="2.8" fill="#d4103c"/>
<rect x="138.50" y="68.40" width="2.8" height="2.8" fill="#d4103c"/>
<rect x="133.80" y="70.40" width="2.8" height="2.8" fill="#d4103c"/>
<rect x="138.30" y="70.40" width="2.8" height="2.8" fill="#d4103c"/>
<rect x="132.10" y="72.20" width="2.8" height="2.8" fill="#d4103c"/>
<rect x="135.90" y="72.20" width="2.8" height="2.8" fill="#d4103c"/>
<line x1="132.1" y1="64.6" x2="141.29999999999998" y2="64.6" stroke="#000" stroke-width="1"/>
<line x1="136.7" y1="62.8" x2="136.7" y2="66.39999999999999" stroke="#000" stroke-width="0.9"/>
<line x1="134.1" y1="62.8" x2="139.29999999999998" y2="62.8" stroke="#000" stroke-width="0.9"/>
<line x1="134.1" y1="66.39999999999999" x2="139.29999999999998" y2="66.39999999999999" stroke="#000" stroke-width="0.9"/>
<circle cx="151.50" cy="70.40" r="1.4" fill="#5e1e7a"/>
<circle cx="150.10" cy="73.00" r="1.4" fill="#5e1e7a"/>
<circle cx="152.90" cy="73.00" r="1.4" fill="#5e1e7a"/>
<circle cx="147.90" cy="75.30" r="1.4" fill="#5e1e7a"/>
<circle cx="151.50" cy="75.30" r="1.4" fill="#5e1e7a"/>
<circle cx="154.10" cy="75.30" r="1.4" fill="#5e1e7a"/>
<circle cx="148.50" cy="78.00" r="1.4" fill="#5e1e7a"/>
<circle cx="152.10" cy="78.00" r="1.4" fill="#5e1e7a"/>
<circle cx="150.90" cy="79.50" r="1.4" fill="#5e1e7a"/>
<circle cx="150.90" cy="83.30" r="1.4" fill="#5e1e7a"/>
<line x1="146.3" y1="76.0" x2="155.5" y2="76.0" stroke="#000" stroke-width="1"/>
<line x1="150.9" y1="75.0" x2="150.9" y2="77.0" stroke="#000" stroke-width="0.9"/>
<line x1="148.3" y1="75.0" x2="153.5" y2="75.0" stroke="#000" stroke-width="0.9"/>
<line x1="148.3" y1="77.0" x2="153.5" y2="77.0" stroke="#000" stroke-width="0.9"/>
<line x1="200.8" y1="24.7" x2="200.8" y2="117.6" stroke="#1a1a1a" stroke-width="1.3"/>
<line x1="200.8" y1="117.6" x2="248.6" y2="117.6" stroke="#1a1a1a" stroke-width="1.3"/>
<line x1="198.3" y1="117.60" x2="200.8" y2="117.60" stroke="#1a1a1a" stroke-width="1.1"/>
<text x="196.20000000000002" y="120.60" text-anchor="end" font-size="8.6" fill="#151515">0.00</text>
<line x1="198.3" y1="94.50" x2="200.8" y2="94.50" stroke="#1a1a1a" stroke-width="1.1"/>
<text x="196.20000000000002" y="97.50" text-anchor="end" font-size="8.6" fill="#151515">0.02</text>
<line x1="198.3" y1="71.40" x2="200.8" y2="71.40" stroke="#1a1a1a" stroke-width="1.1"/>
<text x="196.20000000000002" y="74.40" text-anchor="end" font-size="8.6" fill="#151515">0.04</text>
<line x1="198.3" y1="48.30" x2="200.8" y2="48.30" stroke="#1a1a1a" stroke-width="1.1"/>
<text x="196.20000000000002" y="51.30" text-anchor="end" font-size="8.6" fill="#151515">0.06</text>
<line x1="198.3" y1="25.20" x2="200.8" y2="25.20" stroke="#1a1a1a" stroke-width="1.1"/>
<text x="196.20000000000002" y="28.20" text-anchor="end" font-size="8.6" fill="#151515">0.08</text>
<line x1="210.3" y1="117.6" x2="210.3" y2="120.1" stroke="#1a1a1a" stroke-width="1.1"/>
<line x1="224.6" y1="117.6" x2="224.6" y2="120.1" stroke="#1a1a1a" stroke-width="1.1"/>
<line x1="238.9" y1="117.6" x2="238.9" y2="120.1" stroke="#1a1a1a" stroke-width="1.1"/>
<text transform="translate(212.4,126.39999999999999) rotate(-45)" text-anchor="end" font-size="8.2" fill="#151515">BM only</text>
<text transform="translate(226.7,126.39999999999999) rotate(-45)" text-anchor="end" font-size="8.2" fill="#151515">cGVHD</text>
<text transform="translate(241.0,126.39999999999999) rotate(-45)" text-anchor="end" font-size="8.2" fill="#151515">JQ5 treated</text>
<text x="224.8" y="23.2" text-anchor="middle" font-size="8.2" fill="#151515" letter-spacing="-0.22">Compliance</text>
<text transform="translate(176.7,67.5) rotate(-90)" text-anchor="middle" font-size="8" fill="#151515">mL/cmH2O</text>
<line x1="209.5" y1="40.099999999999994" x2="222.8" y2="40.099999999999994" stroke="#2a2a2a" stroke-width="1.6"/>
<polygon points="210.68,34.60 211.23,35.73 212.48,35.91 211.58,36.79 211.79,38.04 210.68,37.45 209.56,38.04 209.77,36.79 208.87,35.91 210.12,35.73" fill="#1a1a1a"/>
<polygon points="214.33,34.60 214.88,35.73 216.13,35.91 215.23,36.79 215.44,38.04 214.33,37.45 213.21,38.04 213.42,36.79 212.52,35.91 213.77,35.73" fill="#1a1a1a"/>
<polygon points="217.97,34.60 218.53,35.73 219.78,35.91 218.88,36.79 219.09,38.04 217.97,37.45 216.86,38.04 217.07,36.79 216.17,35.91 217.42,35.73" fill="#1a1a1a"/>
<polygon points="221.62,34.60 222.18,35.73 223.43,35.91 222.53,36.79 222.74,38.04 221.62,37.45 220.51,38.04 220.72,36.79 219.82,35.91 221.07,35.73" fill="#1a1a1a"/>
<line x1="226.8" y1="40.099999999999994" x2="240.1" y2="40.099999999999994" stroke="#2a2a2a" stroke-width="1.6"/>
<polygon points="227.97,34.60 228.53,35.73 229.78,35.91 228.88,36.79 229.09,38.04 227.97,37.45 226.86,38.04 227.07,36.79 226.17,35.91 227.42,35.73" fill="#1a1a1a"/>
<polygon points="231.62,34.60 232.18,35.73 233.43,35.91 232.53,36.79 232.74,38.04 231.62,37.45 230.51,38.04 230.72,36.79 229.82,35.91 231.07,35.73" fill="#1a1a1a"/>
<polygon points="235.27,34.60 235.83,35.73 237.08,35.91 236.18,36.79 236.39,38.04 235.27,37.45 234.16,38.04 234.37,36.79 233.47,35.91 234.72,35.73" fill="#1a1a1a"/>
<polygon points="238.92,34.60 239.48,35.73 240.73,35.91 239.83,36.79 240.04,38.04 238.92,37.45 237.81,38.04 238.02,36.79 237.12,35.91 238.37,35.73" fill="#1a1a1a"/>
<circle cx="210.30" cy="50.60" r="1.4" fill="#1b5c9e"/>
<circle cx="210.30" cy="52.70" r="1.4" fill="#1b5c9e"/>
<circle cx="207.30" cy="71.00" r="1.4" fill="#1b5c9e"/>
<circle cx="210.30" cy="71.00" r="1.4" fill="#1b5c9e"/>
<circle cx="213.80" cy="71.00" r="1.4" fill="#1b5c9e"/>
<circle cx="208.50" cy="73.40" r="1.4" fill="#1b5c9e"/>
<circle cx="212.30" cy="73.40" r="1.4" fill="#1b5c9e"/>
<circle cx="207.90" cy="77.30" r="1.4" fill="#1b5c9e"/>
<circle cx="211.70" cy="77.30" r="1.4" fill="#1b5c9e"/>
<circle cx="207.30" cy="80.40" r="1.4" fill="#1b5c9e"/>
<circle cx="211.10" cy="80.40" r="1.4" fill="#1b5c9e"/>
<circle cx="214.10" cy="80.40" r="1.4" fill="#1b5c9e"/>
<circle cx="210.30" cy="84.00" r="1.4" fill="#1b5c9e"/>
<circle cx="210.30" cy="86.00" r="1.4" fill="#1b5c9e"/>
<circle cx="210.30" cy="88.00" r="1.4" fill="#1b5c9e"/>
<line x1="205.70000000000002" y1="74.5" x2="214.9" y2="74.5" stroke="#000" stroke-width="1"/>
<line x1="210.3" y1="71.7" x2="210.3" y2="77.3" stroke="#000" stroke-width="0.9"/>
<line x1="207.70000000000002" y1="71.7" x2="212.9" y2="71.7" stroke="#000" stroke-width="0.9"/>
<line x1="207.70000000000002" y1="77.3" x2="212.9" y2="77.3" stroke="#000" stroke-width="0.9"/>
<rect x="222.40" y="86.00" width="2.8" height="2.8" fill="#d4103c"/>
<rect x="220.80" y="87.20" width="2.8" height="2.8" fill="#d4103c"/>
<rect x="225.60" y="87.20" width="2.8" height="2.8" fill="#d4103c"/>
<rect x="220.20" y="89.10" width="2.8" height="2.8" fill="#d4103c"/>
<rect x="223.20" y="89.10" width="2.8" height="2.8" fill="#d4103c"/>
<rect x="226.20" y="89.10" width="2.8" height="2.8" fill="#d4103c"/>
<rect x="221.20" y="91.10" width="2.8" height="2.8" fill="#d4103c"/>
<rect x="225.20" y="91.10" width="2.8" height="2.8" fill="#d4103c"/>
<rect x="220.00" y="93.10" width="2.8" height="2.8" fill="#d4103c"/>
<rect x="223.20" y="93.10" width="2.8" height="2.8" fill="#d4103c"/>
<rect x="226.20" y="93.10" width="2.8" height="2.8" fill="#d4103c"/>
<rect x="221.60" y="94.60" width="2.8" height="2.8" fill="#d4103c"/>
<rect x="224.80" y="94.60" width="2.8" height="2.8" fill="#d4103c"/>
<rect x="223.20" y="96.40" width="2.8" height="2.8" fill="#d4103c"/>
<rect x="223.20" y="106.90" width="2.8" height="2.8" fill="#d4103c"/>
<line x1="220.0" y1="93.6" x2="229.2" y2="93.6" stroke="#000" stroke-width="1"/>
<line x1="224.6" y1="92.6" x2="224.6" y2="94.6" stroke="#000" stroke-width="0.9"/>
<line x1="222.0" y1="92.6" x2="227.2" y2="92.6" stroke="#000" stroke-width="0.9"/>
<line x1="222.0" y1="94.6" x2="227.2" y2="94.6" stroke="#000" stroke-width="0.9"/>
<circle cx="238.90" cy="79.60" r="1.4" fill="#5e1e7a"/>
<circle cx="237.10" cy="82.70" r="1.4" fill="#5e1e7a"/>
<circle cx="240.70" cy="82.70" r="1.4" fill="#5e1e7a"/>
<circle cx="236.30" cy="85.00" r="1.4" fill="#5e1e7a"/>
<circle cx="241.50" cy="85.00" r="1.4" fill="#5e1e7a"/>
<circle cx="237.10" cy="87.60" r="1.4" fill="#5e1e7a"/>
<circle cx="240.10" cy="87.60" r="1.4" fill="#5e1e7a"/>
<circle cx="238.90" cy="89.70" r="1.4" fill="#5e1e7a"/>
<line x1="234.3" y1="85.5" x2="243.5" y2="85.5" stroke="#000" stroke-width="1"/>
<line x1="238.9" y1="84.7" x2="238.9" y2="86.3" stroke="#000" stroke-width="0.9"/>
<line x1="236.3" y1="84.7" x2="241.5" y2="84.7" stroke="#000" stroke-width="0.9"/>
<line x1="236.3" y1="86.3" x2="241.5" y2="86.3" stroke="#000" stroke-width="0.9"/>
<line x1="292.7" y1="23.7" x2="292.7" y2="117.6" stroke="#1a1a1a" stroke-width="1.3"/>
<line x1="292.7" y1="117.6" x2="342.9" y2="117.6" stroke="#1a1a1a" stroke-width="1.3"/>
<line x1="290.2" y1="117.60" x2="292.7" y2="117.60" stroke="#1a1a1a" stroke-width="1.1"/>
<text x="288.09999999999997" y="120.60" text-anchor="end" font-size="8.6" fill="#151515">0.0</text>
<line x1="290.2" y1="86.47" x2="292.7" y2="86.47" stroke="#1a1a1a" stroke-width="1.1"/>
<text x="288.09999999999997" y="89.47" text-anchor="end" font-size="8.6" fill="#151515">0.5</text>
<line x1="290.2" y1="55.33" x2="292.7" y2="55.33" stroke="#1a1a1a" stroke-width="1.1"/>
<text x="288.09999999999997" y="58.33" text-anchor="end" font-size="8.6" fill="#151515">1.0</text>
<line x1="290.2" y1="24.20" x2="292.7" y2="24.20" stroke="#1a1a1a" stroke-width="1.1"/>
<text x="288.09999999999997" y="27.20" text-anchor="end" font-size="8.6" fill="#151515">1.5</text>
<line x1="303.6" y1="117.6" x2="303.6" y2="120.1" stroke="#1a1a1a" stroke-width="1.1"/>
<line x1="317.8" y1="117.6" x2="317.8" y2="120.1" stroke="#1a1a1a" stroke-width="1.1"/>
<line x1="332.2" y1="117.6" x2="332.2" y2="120.1" stroke="#1a1a1a" stroke-width="1.1"/>
<text transform="translate(305.70000000000005,126.39999999999999) rotate(-45)" text-anchor="end" font-size="8.2" fill="#151515">BM only</text>
<text transform="translate(319.90000000000003,126.39999999999999) rotate(-45)" text-anchor="end" font-size="8.2" fill="#151515">cGVHD</text>
<text transform="translate(334.3,126.39999999999999) rotate(-45)" text-anchor="end" font-size="8.2" fill="#151515">JQ1 treated</text>
<text x="317.6" y="22.2" text-anchor="middle" font-size="8.2" fill="#151515" letter-spacing="-0.22">Resistance</text>
<text transform="translate(274.2,67.5) rotate(-90)" text-anchor="middle" font-size="8" fill="#151515">cmH2O.s/mL</text>
<line x1="302.6" y1="34.599999999999994" x2="316.4" y2="34.599999999999994" stroke="#2a2a2a" stroke-width="1.6"/>
<polygon points="304.02,29.10 304.58,30.23 305.83,30.41 304.93,31.29 305.14,32.54 304.02,31.95 302.91,32.54 303.12,31.29 302.22,30.41 303.47,30.23" fill="#1a1a1a"/>
<polygon points="307.68,29.10 308.23,30.23 309.48,30.41 308.58,31.29 308.79,32.54 307.68,31.95 306.56,32.54 306.77,31.29 305.87,30.41 307.12,30.23" fill="#1a1a1a"/>
<polygon points="311.32,29.10 311.88,30.23 313.13,30.41 312.23,31.29 312.44,32.54 311.32,31.95 310.21,32.54 310.42,31.29 309.52,30.41 310.77,30.23" fill="#1a1a1a"/>
<polygon points="314.98,29.10 315.53,30.23 316.78,30.41 315.88,31.29 316.09,32.54 314.98,31.95 313.86,32.54 314.07,31.29 313.17,30.41 314.42,30.23" fill="#1a1a1a"/>
<line x1="320.4" y1="34.599999999999994" x2="333.2" y2="34.599999999999994" stroke="#2a2a2a" stroke-width="1.6"/>
<polygon points="324.97,29.10 325.53,30.23 326.78,30.41 325.88,31.29 326.09,32.54 324.97,31.95 323.86,32.54 324.07,31.29 323.17,30.41 324.42,30.23" fill="#1a1a1a"/>
<polygon points="328.62,29.10 329.18,30.23 330.43,30.41 329.53,31.29 329.74,32.54 328.62,31.95 327.51,32.54 327.72,31.29 326.82,30.41 328.07,30.23" fill="#1a1a1a"/>
<circle cx="304.20" cy="70.60" r="1.4" fill="#1b5c9e"/>
<circle cx="301.20" cy="72.50" r="1.4" fill="#1b5c9e"/>
<circle cx="305.60" cy="72.50" r="1.4" fill="#1b5c9e"/>
<circle cx="303.60" cy="74.50" r="1.4" fill="#1b5c9e"/>
<circle cx="306.60" cy="74.50" r="1.4" fill="#1b5c9e"/>
<circle cx="300.80" cy="76.50" r="1.4" fill="#1b5c9e"/>
<circle cx="305.20" cy="76.50" r="1.4" fill="#1b5c9e"/>
<circle cx="302.80" cy="78.40" r="1.4" fill="#1b5c9e"/>
<circle cx="306.40" cy="78.40" r="1.4" fill="#1b5c9e"/>
<circle cx="300.60" cy="80.40" r="1.4" fill="#1b5c9e"/>
<circle cx="304.00" cy="80.40" r="1.4" fill="#1b5c9e"/>
<circle cx="307.00" cy="80.40" r="1.4" fill="#1b5c9e"/>
<circle cx="302.00" cy="82.40" r="1.4" fill="#1b5c9e"/>
<circle cx="305.60" cy="82.40" r="1.4" fill="#1b5c9e"/>
<circle cx="301.00" cy="84.40" r="1.4" fill="#1b5c9e"/>
<circle cx="304.60" cy="84.40" r="1.4" fill="#1b5c9e"/>
<circle cx="303.60" cy="86.40" r="1.4" fill="#1b5c9e"/>
<circle cx="306.00" cy="86.40" r="1.4" fill="#1b5c9e"/>
<circle cx="302.40" cy="88.60" r="1.4" fill="#1b5c9e"/>
<line x1="299.0" y1="80.4" x2="308.20000000000005" y2="80.4" stroke="#000" stroke-width="1"/>
<line x1="303.6" y1="79.4" x2="303.6" y2="81.4" stroke="#000" stroke-width="0.9"/>
<line x1="301.0" y1="79.4" x2="306.20000000000005" y2="79.4" stroke="#000" stroke-width="0.9"/>
<line x1="301.0" y1="81.4" x2="306.20000000000005" y2="81.4" stroke="#000" stroke-width="0.9"/>
<rect x="316.40" y="35.60" width="2.8" height="2.8" fill="#d4103c"/>
<rect x="313.20" y="53.10" width="2.8" height="2.8" fill="#d4103c"/>
<rect x="316.40" y="53.10" width="2.8" height="2.8" fill="#d4103c"/>
<rect x="319.60" y="53.10" width="2.8" height="2.8" fill="#d4103c"/>
<rect x="315.00" y="55.60" width="2.8" height="2.8" fill="#d4103c"/>
<rect x="318.40" y="55.60" width="2.8" height="2.8" fill="#d4103c"/>
<rect x="313.40" y="58.40" width="2.8" height="2.8" fill="#d4103c"/>
<rect x="319.40" y="58.40" width="2.8" height="2.8" fill="#d4103c"/>
<rect x="315.40" y="61.10" width="2.8" height="2.8" fill="#d4103c"/>
<rect x="318.80" y="61.10" width="2.8" height="2.8" fill="#d4103c"/>
<rect x="313.40" y="64.10" width="2.8" height="2.8" fill="#d4103c"/>
<rect x="319.40" y="64.10" width="2.8" height="2.8" fill="#d4103c"/>
<rect x="314.90" y="66.60" width="2.8" height="2.8" fill="#d4103c"/>
<rect x="318.20" y="66.60" width="2.8" height="2.8" fill="#d4103c"/>
<rect x="313.20" y="69.10" width="2.8" height="2.8" fill="#d4103c"/>
<rect x="319.60" y="69.10" width="2.8" height="2.8" fill="#d4103c"/>
<rect x="314.40" y="72.10" width="2.8" height="2.8" fill="#d4103c"/>
<rect x="317.40" y="72.10" width="2.8" height="2.8" fill="#d4103c"/>
<rect x="313.40" y="74.60" width="2.8" height="2.8" fill="#d4103c"/>
<rect x="318.60" y="74.60" width="2.8" height="2.8" fill="#d4103c"/>
<rect x="316.40" y="77.60" width="2.8" height="2.8" fill="#d4103c"/>
<rect x="314.40" y="77.60" width="2.8" height="2.8" fill="#d4103c"/>
<rect x="314.00" y="80.60" width="2.8" height="2.8" fill="#d4103c"/>
<rect x="318.80" y="80.60" width="2.8" height="2.8" fill="#d4103c"/>
<rect x="316.40" y="84.60" width="2.8" height="2.8" fill="#d4103c"/>
<line x1="313.2" y1="65.7" x2="322.40000000000003" y2="65.7" stroke="#000" stroke-width="1"/>
<line x1="317.8" y1="63.7" x2="317.8" y2="67.7" stroke="#000" stroke-width="0.9"/>
<line x1="315.2" y1="63.7" x2="320.40000000000003" y2="63.7" stroke="#000" stroke-width="0.9"/>
<line x1="315.2" y1="67.7" x2="320.40000000000003" y2="67.7" stroke="#000" stroke-width="0.9"/>
<circle cx="332.70" cy="64.30" r="1.4" fill="#2cb449"/>
<circle cx="330.60" cy="66.50" r="1.4" fill="#2cb449"/>
<circle cx="334.00" cy="66.50" r="1.4" fill="#2cb449"/>
<circle cx="329.40" cy="68.80" r="1.4" fill="#2cb449"/>
<circle cx="333.00" cy="68.80" r="1.4" fill="#2cb449"/>
<circle cx="335.40" cy="68.80" r="1.4" fill="#2cb449"/>
<circle cx="330.80" cy="71.20" r="1.4" fill="#2cb449"/>
<circle cx="334.60" cy="71.20" r="1.4" fill="#2cb449"/>
<circle cx="329.20" cy="73.40" r="1.4" fill="#2cb449"/>
<circle cx="332.70" cy="73.40" r="1.4" fill="#2cb449"/>
<circle cx="330.20" cy="75.80" r="1.4" fill="#2cb449"/>
<circle cx="334.60" cy="75.80" r="1.4" fill="#2cb449"/>
<circle cx="329.00" cy="78.00" r="1.4" fill="#2cb449"/>
<circle cx="333.00" cy="78.00" r="1.4" fill="#2cb449"/>
<circle cx="335.40" cy="78.00" r="1.4" fill="#2cb449"/>
<circle cx="330.60" cy="80.20" r="1.4" fill="#2cb449"/>
<circle cx="334.20" cy="80.20" r="1.4" fill="#2cb449"/>
<circle cx="329.80" cy="82.40" r="1.4" fill="#2cb449"/>
<circle cx="333.60" cy="82.40" r="1.4" fill="#2cb449"/>
<circle cx="335.00" cy="83.90" r="1.4" fill="#2cb449"/>
<line x1="327.59999999999997" y1="75.1" x2="336.8" y2="75.1" stroke="#000" stroke-width="1"/>
<line x1="332.2" y1="74.1" x2="332.2" y2="76.1" stroke="#000" stroke-width="0.9"/>
<line x1="329.59999999999997" y1="74.1" x2="334.8" y2="74.1" stroke="#000" stroke-width="0.9"/>
<line x1="329.59999999999997" y1="76.1" x2="334.8" y2="76.1" stroke="#000" stroke-width="0.9"/>
<line x1="376.0" y1="23.7" x2="376.0" y2="117.6" stroke="#1a1a1a" stroke-width="1.3"/>
<line x1="376.0" y1="117.6" x2="424" y2="117.6" stroke="#1a1a1a" stroke-width="1.3"/>
<line x1="373.5" y1="117.60" x2="376.0" y2="117.60" stroke="#1a1a1a" stroke-width="1.1"/>
<text x="371.4" y="120.60" text-anchor="end" font-size="8.6" fill="#151515">0</text>
<line x1="373.5" y1="86.47" x2="376.0" y2="86.47" stroke="#1a1a1a" stroke-width="1.1"/>
<text x="371.4" y="89.47" text-anchor="end" font-size="8.6" fill="#151515">20</text>
<line x1="373.5" y1="55.33" x2="376.0" y2="55.33" stroke="#1a1a1a" stroke-width="1.1"/>
<text x="371.4" y="58.33" text-anchor="end" font-size="8.6" fill="#151515">40</text>
<line x1="373.5" y1="24.20" x2="376.0" y2="24.20" stroke="#1a1a1a" stroke-width="1.1"/>
<text x="371.4" y="27.20" text-anchor="end" font-size="8.6" fill="#151515">60</text>
<line x1="385.5" y1="117.6" x2="385.5" y2="120.1" stroke="#1a1a1a" stroke-width="1.1"/>
<line x1="400.0" y1="117.6" x2="400.0" y2="120.1" stroke="#1a1a1a" stroke-width="1.1"/>
<line x1="414.6" y1="117.6" x2="414.6" y2="120.1" stroke="#1a1a1a" stroke-width="1.1"/>
<text transform="translate(387.6,126.39999999999999) rotate(-45)" text-anchor="end" font-size="8.2" fill="#151515">BM only</text>
<text transform="translate(402.1,126.39999999999999) rotate(-45)" text-anchor="end" font-size="8.2" fill="#151515">cGVHD</text>
<text transform="translate(416.70000000000005,126.39999999999999) rotate(-45)" text-anchor="end" font-size="8.2" fill="#151515">JQ1 treated</text>
<text x="400" y="22.2" text-anchor="middle" font-size="8.2" fill="#151515" letter-spacing="-0.22">Elastance</text>
<text transform="translate(358.2,67.5) rotate(-90)" text-anchor="middle" font-size="8" fill="#151515">cmH2O/mL</text>
<line x1="385.3" y1="31.1" x2="398.5" y2="31.1" stroke="#2a2a2a" stroke-width="1.6"/>
<polygon points="386.42,25.60 386.98,26.73 388.23,26.91 387.33,27.79 387.54,29.04 386.42,28.45 385.31,29.04 385.52,27.79 384.62,26.91 385.87,26.73" fill="#1a1a1a"/>
<polygon points="390.07,25.60 390.63,26.73 391.88,26.91 390.98,27.79 391.19,29.04 390.07,28.45 388.96,29.04 389.17,27.79 388.27,26.91 389.52,26.73" fill="#1a1a1a"/>
<polygon points="393.72,25.60 394.28,26.73 395.53,26.91 394.63,27.79 394.84,29.04 393.72,28.45 392.61,29.04 392.82,27.79 391.92,26.91 393.17,26.73" fill="#1a1a1a"/>
<polygon points="397.38,25.60 397.93,26.73 399.18,26.91 398.28,27.79 398.49,29.04 397.38,28.45 396.26,29.04 396.47,27.79 395.57,26.91 396.82,26.73" fill="#1a1a1a"/>
<line x1="402.7" y1="31.1" x2="415.8" y2="31.1" stroke="#2a2a2a" stroke-width="1.6"/>
<polygon points="405.60,25.60 406.16,26.73 407.41,26.91 406.50,27.79 406.72,29.04 405.60,28.45 404.48,29.04 404.70,27.79 403.79,26.91 405.04,26.73" fill="#1a1a1a"/>
<polygon points="409.25,25.60 409.81,26.73 411.06,26.91 410.15,27.79 410.37,29.04 409.25,28.45 408.13,29.04 408.35,27.79 407.44,26.91 408.69,26.73" fill="#1a1a1a"/>
<polygon points="412.90,25.60 413.46,26.73 414.71,26.91 413.80,27.79 414.02,29.04 412.90,28.45 411.78,29.04 412.00,27.79 411.09,26.91 412.34,26.73" fill="#1a1a1a"/>
<circle cx="385.50" cy="66.50" r="1.4" fill="#1b5c9e"/>
<circle cx="385.50" cy="68.80" r="1.4" fill="#1b5c9e"/>
<circle cx="382.70" cy="71.80" r="1.4" fill="#1b5c9e"/>
<circle cx="385.50" cy="71.80" r="1.4" fill="#1b5c9e"/>
<circle cx="388.10" cy="71.80" r="1.4" fill="#1b5c9e"/>
<circle cx="382.10" cy="73.80" r="1.4" fill="#1b5c9e"/>
<circle cx="387.00" cy="73.80" r="1.4" fill="#1b5c9e"/>
<circle cx="383.50" cy="75.80" r="1.4" fill="#1b5c9e"/>
<circle cx="388.30" cy="75.80" r="1.4" fill="#1b5c9e"/>
<circle cx="382.10" cy="77.80" r="1.4" fill="#1b5c9e"/>
<circle cx="385.50" cy="77.80" r="1.4" fill="#1b5c9e"/>
<circle cx="388.50" cy="77.80" r="1.4" fill="#1b5c9e"/>
<circle cx="382.90" cy="80.10" r="1.4" fill="#1b5c9e"/>
<circle cx="388.10" cy="80.10" r="1.4" fill="#1b5c9e"/>
<circle cx="385.50" cy="92.20" r="1.4" fill="#1b5c9e"/>
<line x1="380.9" y1="76.0" x2="390.1" y2="76.0" stroke="#000" stroke-width="1"/>
<line x1="385.5" y1="74.8" x2="385.5" y2="77.2" stroke="#000" stroke-width="0.9"/>
<line x1="382.9" y1="74.8" x2="388.1" y2="74.8" stroke="#000" stroke-width="0.9"/>
<line x1="382.9" y1="77.2" x2="388.1" y2="77.2" stroke="#000" stroke-width="0.9"/>
<rect x="398.60" y="32.60" width="2.8" height="2.8" fill="#d4103c"/>
<rect x="398.00" y="38.60" width="2.8" height="2.8" fill="#d4103c"/>
<rect x="399.60" y="41.10" width="2.8" height="2.8" fill="#d4103c"/>
<rect x="398.20" y="44.60" width="2.8" height="2.8" fill="#d4103c"/>
<rect x="398.60" y="58.10" width="2.8" height="2.8" fill="#d4103c"/>
<rect x="395.60" y="64.40" width="2.8" height="2.8" fill="#d4103c"/>
<rect x="400.10" y="64.40" width="2.8" height="2.8" fill="#d4103c"/>
<rect x="397.60" y="65.90" width="2.8" height="2.8" fill="#d4103c"/>
<rect x="402.00" y="65.90" width="2.8" height="2.8" fill="#d4103c"/>
<rect x="396.00" y="67.40" width="2.8" height="2.8" fill="#d4103c"/>
<rect x="399.00" y="67.40" width="2.8" height="2.8" fill="#d4103c"/>
<rect x="401.40" y="67.40" width="2.8" height="2.8" fill="#d4103c"/>
<rect x="398.60" y="73.40" width="2.8" height="2.8" fill="#d4103c"/>
<line x1="395.4" y1="58.2" x2="404.6" y2="58.2" stroke="#000" stroke-width="1"/>
<line x1="400.0" y1="55.800000000000004" x2="400.0" y2="60.6" stroke="#000" stroke-width="0.9"/>
<line x1="397.4" y1="55.800000000000004" x2="402.6" y2="55.800000000000004" stroke="#000" stroke-width="0.9"/>
<line x1="397.4" y1="60.6" x2="402.6" y2="60.6" stroke="#000" stroke-width="0.9"/>
<circle cx="415.40" cy="59.00" r="1.4" fill="#2cb449"/>
<circle cx="413.00" cy="61.00" r="1.4" fill="#2cb449"/>
<circle cx="412.00" cy="65.30" r="1.4" fill="#2cb449"/>
<circle cx="417.20" cy="65.30" r="1.4" fill="#2cb449"/>
<circle cx="414.20" cy="67.00" r="1.4" fill="#2cb449"/>
<circle cx="412.20" cy="70.00" r="1.4" fill="#2cb449"/>
<circle cx="411.80" cy="73.50" r="1.4" fill="#2cb449"/>
<circle cx="415.80" cy="73.50" r="1.4" fill="#2cb449"/>
<circle cx="413.20" cy="78.00" r="1.4" fill="#2cb449"/>
<circle cx="416.60" cy="78.00" r="1.4" fill="#2cb449"/>
<circle cx="412.20" cy="80.00" r="1.4" fill="#2cb449"/>
<circle cx="416.60" cy="80.00" r="1.4" fill="#2cb449"/>
<circle cx="413.80" cy="81.60" r="1.4" fill="#2cb449"/>
<line x1="410.0" y1="71.5" x2="419.20000000000005" y2="71.5" stroke="#000" stroke-width="1"/>
<line x1="414.6" y1="69.7" x2="414.6" y2="73.3" stroke="#000" stroke-width="0.9"/>
<line x1="412.0" y1="69.7" x2="417.20000000000005" y2="69.7" stroke="#000" stroke-width="0.9"/>
<line x1="412.0" y1="73.3" x2="417.20000000000005" y2="73.3" stroke="#000" stroke-width="0.9"/>
<line x1="462.7" y1="23.7" x2="462.7" y2="117.6" stroke="#1a1a1a" stroke-width="1.3"/>
<line x1="462.7" y1="117.6" x2="512.2" y2="117.6" stroke="#1a1a1a" stroke-width="1.3"/>
<line x1="460.2" y1="117.60" x2="462.7" y2="117.60" stroke="#1a1a1a" stroke-width="1.1"/>
<text x="458.09999999999997" y="120.60" text-anchor="end" font-size="8.6" fill="#151515">0.00</text>
<line x1="460.2" y1="98.92" x2="462.7" y2="98.92" stroke="#1a1a1a" stroke-width="1.1"/>
<text x="458.09999999999997" y="101.92" text-anchor="end" font-size="8.6" fill="#151515">0.02</text>
<line x1="460.2" y1="80.24" x2="462.7" y2="80.24" stroke="#1a1a1a" stroke-width="1.1"/>
<text x="458.09999999999997" y="83.24" text-anchor="end" font-size="8.6" fill="#151515">0.04</text>
<line x1="460.2" y1="61.56" x2="462.7" y2="61.56" stroke="#1a1a1a" stroke-width="1.1"/>
<text x="458.09999999999997" y="64.56" text-anchor="end" font-size="8.6" fill="#151515">0.06</text>
<line x1="460.2" y1="42.88" x2="462.7" y2="42.88" stroke="#1a1a1a" stroke-width="1.1"/>
<text x="458.09999999999997" y="45.88" text-anchor="end" font-size="8.6" fill="#151515">0.08</text>
<line x1="460.2" y1="24.20" x2="462.7" y2="24.20" stroke="#1a1a1a" stroke-width="1.1"/>
<text x="458.09999999999997" y="27.20" text-anchor="end" font-size="8.6" fill="#151515">0.10</text>
<line x1="472.8" y1="117.6" x2="472.8" y2="120.1" stroke="#1a1a1a" stroke-width="1.1"/>
<line x1="487.4" y1="117.6" x2="487.4" y2="120.1" stroke="#1a1a1a" stroke-width="1.1"/>
<line x1="501.8" y1="117.6" x2="501.8" y2="120.1" stroke="#1a1a1a" stroke-width="1.1"/>
<text transform="translate(474.90000000000003,126.39999999999999) rotate(-45)" text-anchor="end" font-size="8.2" fill="#151515">BM only</text>
<text transform="translate(489.5,126.39999999999999) rotate(-45)" text-anchor="end" font-size="8.2" fill="#151515">cGVHD</text>
<text transform="translate(503.90000000000003,126.39999999999999) rotate(-45)" text-anchor="end" font-size="8.2" fill="#151515">JQ1 treated</text>
<text x="488" y="22.2" text-anchor="middle" font-size="8.2" fill="#151515" letter-spacing="-0.22">Compliance</text>
<text transform="translate(437.7,67.5) rotate(-90)" text-anchor="middle" font-size="8" fill="#151515">mL/cmH2O</text>
<line x1="472.6" y1="34.599999999999994" x2="485.6" y2="34.599999999999994" stroke="#2a2a2a" stroke-width="1.6"/>
<polygon points="475.45,29.10 476.01,30.23 477.26,30.41 476.35,31.29 476.57,32.54 475.45,31.95 474.33,32.54 474.55,31.29 473.64,30.41 474.89,30.23" fill="#1a1a1a"/>
<polygon points="479.10,29.10 479.66,30.23 480.91,30.41 480.00,31.29 480.22,32.54 479.10,31.95 477.98,32.54 478.20,31.29 477.29,30.41 478.54,30.23" fill="#1a1a1a"/>
<polygon points="482.75,29.10 483.31,30.23 484.56,30.41 483.65,31.29 483.87,32.54 482.75,31.95 481.63,32.54 481.85,31.29 480.94,30.41 482.19,30.23" fill="#1a1a1a"/>
<line x1="489.9" y1="34.599999999999994" x2="502.9" y2="34.599999999999994" stroke="#2a2a2a" stroke-width="1.6"/>
<polygon points="494.57,29.10 495.13,30.23 496.38,30.41 495.48,31.29 495.69,32.54 494.57,31.95 493.46,32.54 493.67,31.29 492.77,30.41 494.02,30.23" fill="#1a1a1a"/>
<polygon points="498.22,29.10 498.78,30.23 500.03,30.41 499.13,31.29 499.34,32.54 498.22,31.95 497.11,32.54 497.32,31.29 496.42,30.41 497.67,30.23" fill="#1a1a1a"/>
<circle cx="472.80" cy="38.20" r="1.4" fill="#1b5c9e"/>
<circle cx="469.60" cy="39.80" r="1.4" fill="#1b5c9e"/>
<circle cx="475.40" cy="39.80" r="1.4" fill="#1b5c9e"/>
<circle cx="471.30" cy="41.50" r="1.4" fill="#1b5c9e"/>
<circle cx="476.20" cy="41.50" r="1.4" fill="#1b5c9e"/>
<circle cx="471.30" cy="44.00" r="1.4" fill="#1b5c9e"/>
<circle cx="470.20" cy="46.50" r="1.4" fill="#1b5c9e"/>
<circle cx="474.40" cy="46.50" r="1.4" fill="#1b5c9e"/>
<circle cx="472.80" cy="49.00" r="1.4" fill="#1b5c9e"/>
<circle cx="472.20" cy="52.00" r="1.4" fill="#1b5c9e"/>
<circle cx="472.80" cy="78.50" r="1.4" fill="#1b5c9e"/>
<circle cx="469.80" cy="80.00" r="1.4" fill="#1b5c9e"/>
<circle cx="475.60" cy="80.00" r="1.4" fill="#1b5c9e"/>
<circle cx="471.40" cy="82.00" r="1.4" fill="#1b5c9e"/>
<circle cx="473.80" cy="82.00" r="1.4" fill="#1b5c9e"/>
<circle cx="469.80" cy="84.00" r="1.4" fill="#1b5c9e"/>
<circle cx="475.60" cy="84.00" r="1.4" fill="#1b5c9e"/>
<circle cx="471.20" cy="86.00" r="1.4" fill="#1b5c9e"/>
<circle cx="474.20" cy="86.00" r="1.4" fill="#1b5c9e"/>
<circle cx="473.20" cy="88.00" r="1.4" fill="#1b5c9e"/>
<circle cx="470.60" cy="89.50" r="1.4" fill="#1b5c9e"/>
<line x1="468.2" y1="65.7" x2="477.40000000000003" y2="65.7" stroke="#000" stroke-width="1"/>
<line x1="472.8" y1="61.1" x2="472.8" y2="70.3" stroke="#000" stroke-width="0.9"/>
<line x1="470.2" y1="61.1" x2="475.40000000000003" y2="61.1" stroke="#000" stroke-width="0.9"/>
<line x1="470.2" y1="70.3" x2="475.40000000000003" y2="70.3" stroke="#000" stroke-width="0.9"/>
<rect x="486.00" y="64.90" width="2.8" height="2.8" fill="#d4103c"/>
<rect x="482.80" y="71.60" width="2.8" height="2.8" fill="#d4103c"/>
<rect x="488.60" y="71.60" width="2.8" height="2.8" fill="#d4103c"/>
<rect x="484.80" y="73.10" width="2.8" height="2.8" fill="#d4103c"/>
<rect x="486.60" y="73.10" width="2.8" height="2.8" fill="#d4103c"/>
<rect x="489.40" y="73.10" width="2.8" height="2.8" fill="#d4103c"/>
<rect x="484.60" y="83.60" width="2.8" height="2.8" fill="#d4103c"/>
<rect x="483.20" y="85.60" width="2.8" height="2.8" fill="#d4103c"/>
<rect x="488.60" y="85.60" width="2.8" height="2.8" fill="#d4103c"/>
<rect x="486.00" y="87.60" width="2.8" height="2.8" fill="#d4103c"/>
<rect x="483.60" y="89.60" width="2.8" height="2.8" fill="#d4103c"/>
<rect x="488.00" y="89.60" width="2.8" height="2.8" fill="#d4103c"/>
<rect x="486.50" y="91.60" width="2.8" height="2.8" fill="#d4103c"/>
<rect x="484.00" y="93.60" width="2.8" height="2.8" fill="#d4103c"/>
<rect x="482.80" y="96.10" width="2.8" height="2.8" fill="#d4103c"/>
<rect x="486.00" y="96.10" width="2.8" height="2.8" fill="#d4103c"/>
<rect x="489.40" y="96.10" width="2.8" height="2.8" fill="#d4103c"/>
<rect x="484.60" y="99.10" width="2.8" height="2.8" fill="#d4103c"/>
<rect x="487.60" y="99.10" width="2.8" height="2.8" fill="#d4103c"/>
<rect x="486.00" y="107.00" width="2.8" height="2.8" fill="#d4103c"/>
<line x1="482.79999999999995" y1="87.1" x2="492.0" y2="87.1" stroke="#000" stroke-width="1"/>
<line x1="487.4" y1="84.5" x2="487.4" y2="89.69999999999999" stroke="#000" stroke-width="0.9"/>
<line x1="484.79999999999995" y1="84.5" x2="490.0" y2="84.5" stroke="#000" stroke-width="0.9"/>
<line x1="484.79999999999995" y1="89.69999999999999" x2="490.0" y2="89.69999999999999" stroke="#000" stroke-width="0.9"/>
<circle cx="501.80" cy="45.60" r="1.4" fill="#2cb449"/>
<circle cx="501.80" cy="50.10" r="1.4" fill="#2cb449"/>
<circle cx="504.40" cy="57.50" r="1.4" fill="#2cb449"/>
<circle cx="499.40" cy="59.50" r="1.4" fill="#2cb449"/>
<circle cx="502.30" cy="59.50" r="1.4" fill="#2cb449"/>
<circle cx="498.80" cy="61.50" r="1.4" fill="#2cb449"/>
<circle cx="504.40" cy="61.50" r="1.4" fill="#2cb449"/>
<circle cx="500.40" cy="63.90" r="1.4" fill="#2cb449"/>
<circle cx="498.80" cy="85.90" r="1.4" fill="#2cb449"/>
<circle cx="501.80" cy="85.90" r="1.4" fill="#2cb449"/>
<circle cx="504.80" cy="85.90" r="1.4" fill="#2cb449"/>
<circle cx="498.40" cy="88.20" r="1.4" fill="#2cb449"/>
<circle cx="500.80" cy="88.20" r="1.4" fill="#2cb449"/>
<circle cx="503.40" cy="88.20" r="1.4" fill="#2cb449"/>
<circle cx="505.40" cy="88.20" r="1.4" fill="#2cb449"/>
<circle cx="499.80" cy="90.40" r="1.4" fill="#2cb449"/>
<circle cx="503.00" cy="90.40" r="1.4" fill="#2cb449"/>
<line x1="497.2" y1="73.6" x2="506.40000000000003" y2="73.6" stroke="#000" stroke-width="1"/>
<line x1="501.8" y1="69.6" x2="501.8" y2="77.6" stroke="#000" stroke-width="0.9"/>
<line x1="499.2" y1="69.6" x2="504.40000000000003" y2="69.6" stroke="#000" stroke-width="0.9"/>
<line x1="499.2" y1="77.6" x2="504.40000000000003" y2="77.6" stroke="#000" stroke-width="0.9"/>
<line x1="468.2" y1="191.7" x2="468.2" y2="277.0" stroke="#1a1a1a" stroke-width="1.3"/>
<line x1="468.2" y1="277.0" x2="513.3" y2="277.0" stroke="#1a1a1a" stroke-width="1.3"/>
<line x1="465.7" y1="277.00" x2="468.2" y2="277.00" stroke="#1a1a1a" stroke-width="1.1"/>
<text x="463.59999999999997" y="280.00" text-anchor="end" font-size="8.6" fill="#151515">0</text>
<line x1="465.7" y1="255.80" x2="468.2" y2="255.80" stroke="#1a1a1a" stroke-width="1.1"/>
<text x="463.59999999999997" y="258.80" text-anchor="end" font-size="8.6" fill="#151515">2</text>
<line x1="465.7" y1="234.60" x2="468.2" y2="234.60" stroke="#1a1a1a" stroke-width="1.1"/>
<text x="463.59999999999997" y="237.60" text-anchor="end" font-size="8.6" fill="#151515">4</text>
<line x1="465.7" y1="213.40" x2="468.2" y2="213.40" stroke="#1a1a1a" stroke-width="1.1"/>
<text x="463.59999999999997" y="216.40" text-anchor="end" font-size="8.6" fill="#151515">6</text>
<line x1="465.7" y1="192.20" x2="468.2" y2="192.20" stroke="#1a1a1a" stroke-width="1.1"/>
<text x="463.59999999999997" y="195.20" text-anchor="end" font-size="8.6" fill="#151515">8</text>
<line x1="476.0" y1="277.0" x2="476.0" y2="279.5" stroke="#1a1a1a" stroke-width="1.1"/>
<line x1="490.3" y1="277.0" x2="490.3" y2="279.5" stroke="#1a1a1a" stroke-width="1.1"/>
<line x1="505.3" y1="277.0" x2="505.3" y2="279.5" stroke="#1a1a1a" stroke-width="1.1"/>
<text transform="translate(478.1,285.8) rotate(-45)" text-anchor="end" font-size="8.2" fill="#151515">BM only</text>
<text transform="translate(492.40000000000003,285.8) rotate(-45)" text-anchor="end" font-size="8.2" fill="#151515">cGVHD</text>
<text transform="translate(507.40000000000003,285.8) rotate(-45)" text-anchor="end" font-size="8.2" fill="#151515">JQ5 treated</text>
<text x="487.5" y="185.4" text-anchor="middle" font-size="8.2" fill="#151515" letter-spacing="-0.22">Trichrome area</text>
<text transform="translate(451.0,237.0) rotate(-90)" text-anchor="middle" font-size="7.4" fill="#151515">%Area trichrome+</text>
<line x1="476.9" y1="205.70000000000002" x2="488.9" y2="205.70000000000002" stroke="#2a2a2a" stroke-width="1.6"/>
<polygon points="482.90,200.20 483.46,201.33 484.71,201.51 483.80,202.39 484.02,203.64 482.90,203.05 481.78,203.64 482.00,202.39 481.09,201.51 482.34,201.33" fill="#1a1a1a"/>
<line x1="492.6" y1="205.70000000000002" x2="504.6" y2="205.70000000000002" stroke="#2a2a2a" stroke-width="1.6"/>
<polygon points="496.78,200.20 497.33,201.33 498.58,201.51 497.68,202.39 497.89,203.64 496.78,203.05 495.66,203.64 495.87,202.39 494.97,201.51 496.22,201.33" fill="#1a1a1a"/>
<polygon points="500.43,200.20 500.98,201.33 502.23,201.51 501.33,202.39 501.54,203.64 500.43,203.05 499.31,203.64 499.52,202.39 498.62,201.51 499.87,201.33" fill="#1a1a1a"/>
<circle cx="473.00" cy="260.00" r="1.4" fill="#1b5c9e"/>
<circle cx="476.60" cy="260.00" r="1.4" fill="#1b5c9e"/>
<circle cx="479.40" cy="261.50" r="1.4" fill="#1b5c9e"/>
<circle cx="474.60" cy="263.50" r="1.4" fill="#1b5c9e"/>
<circle cx="477.60" cy="263.50" r="1.4" fill="#1b5c9e"/>
<circle cx="476.60" cy="265.50" r="1.4" fill="#1b5c9e"/>
<circle cx="472.60" cy="266.50" r="1.4" fill="#1b5c9e"/>
<circle cx="479.00" cy="266.50" r="1.4" fill="#1b5c9e"/>
<circle cx="473.00" cy="269.50" r="1.4" fill="#1b5c9e"/>
<circle cx="476.80" cy="269.50" r="1.4" fill="#1b5c9e"/>
<circle cx="479.60" cy="269.50" r="1.4" fill="#1b5c9e"/>
<line x1="471.4" y1="265.3" x2="480.6" y2="265.3" stroke="#000" stroke-width="1"/>
<line x1="476.0" y1="264.3" x2="476.0" y2="266.3" stroke="#000" stroke-width="0.9"/>
<line x1="473.4" y1="264.3" x2="478.6" y2="264.3" stroke="#000" stroke-width="0.9"/>
<line x1="473.4" y1="266.3" x2="478.6" y2="266.3" stroke="#000" stroke-width="0.9"/>
<rect x="488.90" y="212.20" width="2.8" height="2.8" fill="#d4103c"/>
<rect x="488.90" y="224.60" width="2.8" height="2.8" fill="#d4103c"/>
<rect x="489.50" y="239.30" width="2.8" height="2.8" fill="#d4103c"/>
<rect x="485.30" y="248.90" width="2.8" height="2.8" fill="#d4103c"/>
<rect x="490.50" y="248.90" width="2.8" height="2.8" fill="#d4103c"/>
<rect x="489.50" y="256.20" width="2.8" height="2.8" fill="#d4103c"/>
<rect x="485.30" y="261.40" width="2.8" height="2.8" fill="#d4103c"/>
<rect x="489.50" y="261.40" width="2.8" height="2.8" fill="#d4103c"/>
<rect x="492.50" y="261.40" width="2.8" height="2.8" fill="#d4103c"/>
<rect x="485.50" y="263.10" width="2.8" height="2.8" fill="#d4103c"/>
<line x1="485.7" y1="249.3" x2="494.90000000000003" y2="249.3" stroke="#000" stroke-width="1"/>
<line x1="490.3" y1="245.0" x2="490.3" y2="253.60000000000002" stroke="#000" stroke-width="0.9"/>
<line x1="487.7" y1="245.0" x2="492.90000000000003" y2="245.0" stroke="#000" stroke-width="0.9"/>
<line x1="487.7" y1="253.60000000000002" x2="492.90000000000003" y2="253.60000000000002" stroke="#000" stroke-width="0.9"/>
<circle cx="503.50" cy="262.40" r="1.4" fill="#5e1e7a"/>
<circle cx="507.10" cy="262.40" r="1.4" fill="#5e1e7a"/>
<circle cx="501.90" cy="267.50" r="1.4" fill="#5e1e7a"/>
<circle cx="505.30" cy="267.50" r="1.4" fill="#5e1e7a"/>
<circle cx="508.50" cy="267.50" r="1.4" fill="#5e1e7a"/>
<circle cx="503.90" cy="268.80" r="1.4" fill="#5e1e7a"/>
<circle cx="505.30" cy="271.40" r="1.4" fill="#5e1e7a"/>
<circle cx="505.30" cy="274.50" r="1.4" fill="#5e1e7a"/>
<line x1="500.7" y1="268.3" x2="509.90000000000003" y2="268.3" stroke="#000" stroke-width="1"/>
<line x1="505.3" y1="267.3" x2="505.3" y2="269.3" stroke="#000" stroke-width="0.9"/>
<line x1="502.7" y1="267.3" x2="507.90000000000003" y2="267.3" stroke="#000" stroke-width="0.9"/>
<line x1="502.7" y1="269.3" x2="507.90000000000003" y2="269.3" stroke="#000" stroke-width="0.9"/>
<line x1="468.5" y1="335.2" x2="468.5" y2="421.5" stroke="#1a1a1a" stroke-width="1.3"/>
<line x1="468.5" y1="421.5" x2="512.9" y2="421.5" stroke="#1a1a1a" stroke-width="1.3"/>
<line x1="466.0" y1="421.50" x2="468.5" y2="421.50" stroke="#1a1a1a" stroke-width="1.1"/>
<text x="463.9" y="424.50" text-anchor="end" font-size="8.6" fill="#151515">0</text>
<line x1="466.0" y1="392.90" x2="468.5" y2="392.90" stroke="#1a1a1a" stroke-width="1.1"/>
<text x="463.9" y="395.90" text-anchor="end" font-size="8.6" fill="#151515">5</text>
<line x1="466.0" y1="364.30" x2="468.5" y2="364.30" stroke="#1a1a1a" stroke-width="1.1"/>
<text x="463.9" y="367.30" text-anchor="end" font-size="8.6" fill="#151515">10</text>
<line x1="466.0" y1="335.70" x2="468.5" y2="335.70" stroke="#1a1a1a" stroke-width="1.1"/>
<text x="463.9" y="338.70" text-anchor="end" font-size="8.6" fill="#151515">15</text>
<line x1="476.5" y1="421.5" x2="476.5" y2="424.0" stroke="#1a1a1a" stroke-width="1.1"/>
<line x1="491.0" y1="421.5" x2="491.0" y2="424.0" stroke="#1a1a1a" stroke-width="1.1"/>
<line x1="505.2" y1="421.5" x2="505.2" y2="424.0" stroke="#1a1a1a" stroke-width="1.1"/>
<text transform="translate(478.6,430.3) rotate(-45)" text-anchor="end" font-size="8.2" fill="#151515">BM only</text>
<text transform="translate(493.1,430.3) rotate(-45)" text-anchor="end" font-size="8.2" fill="#151515">cGVHD</text>
<text transform="translate(507.3,430.3) rotate(-45)" text-anchor="end" font-size="8.2" fill="#151515">JQ1 treated</text>
<text x="486.5" y="330.8" text-anchor="middle" font-size="8.2" fill="#151515" letter-spacing="-0.22">Trichrome area</text>
<text transform="translate(451.0,383.0) rotate(-90)" text-anchor="middle" font-size="7.4" fill="#151515">%Area trichrome+</text>
<line x1="477.4" y1="348.5" x2="489.5" y2="348.5" stroke="#2a2a2a" stroke-width="1.6"/>
<polygon points="481.62,343.00 482.18,344.13 483.43,344.31 482.53,345.19 482.74,346.44 481.62,345.85 480.51,346.44 480.72,345.19 479.82,344.31 481.07,344.13" fill="#1a1a1a"/>
<polygon points="485.27,343.00 485.83,344.13 487.08,344.31 486.18,345.19 486.39,346.44 485.27,345.85 484.16,346.44 484.37,345.19 483.47,344.31 484.72,344.13" fill="#1a1a1a"/>
<line x1="493" y1="348.5" x2="504.9" y2="348.5" stroke="#2a2a2a" stroke-width="1.6"/>
<polygon points="497.12,343.00 497.68,344.13 498.93,344.31 498.03,345.19 498.24,346.44 497.12,345.85 496.01,346.44 496.22,345.19 495.32,344.31 496.57,344.13" fill="#1a1a1a"/>
<polygon points="500.77,343.00 501.33,344.13 502.58,344.31 501.68,345.19 501.89,346.44 500.77,345.85 499.66,346.44 499.87,345.19 498.97,344.31 500.22,344.13" fill="#1a1a1a"/>
<circle cx="476.50" cy="401.40" r="1.4" fill="#1b5c9e"/>
<circle cx="473.50" cy="403.00" r="1.4" fill="#1b5c9e"/>
<circle cx="479.30" cy="403.00" r="1.4" fill="#1b5c9e"/>
<circle cx="475.50" cy="406.00" r="1.4" fill="#1b5c9e"/>
<circle cx="477.50" cy="406.00" r="1.4" fill="#1b5c9e"/>
<circle cx="473.30" cy="408.00" r="1.4" fill="#1b5c9e"/>
<circle cx="479.50" cy="408.00" r="1.4" fill="#1b5c9e"/>
<circle cx="474.90" cy="411.00" r="1.4" fill="#1b5c9e"/>
<circle cx="478.30" cy="411.00" r="1.4" fill="#1b5c9e"/>
<circle cx="473.10" cy="412.50" r="1.4" fill="#1b5c9e"/>
<circle cx="479.90" cy="412.50" r="1.4" fill="#1b5c9e"/>
<line x1="471.9" y1="407.5" x2="481.1" y2="407.5" stroke="#000" stroke-width="1"/>
<line x1="476.5" y1="406.0" x2="476.5" y2="409.0" stroke="#000" stroke-width="0.9"/>
<line x1="473.9" y1="406.0" x2="479.1" y2="406.0" stroke="#000" stroke-width="0.9"/>
<line x1="473.9" y1="409.0" x2="479.1" y2="409.0" stroke="#000" stroke-width="0.9"/>
<rect x="489.60" y="350.90" width="2.8" height="2.8" fill="#d4103c"/>
<rect x="489.60" y="360.90" width="2.8" height="2.8" fill="#d4103c"/>
<rect x="489.60" y="368.60" width="2.8" height="2.8" fill="#d4103c"/>
<rect x="489.60" y="378.30" width="2.8" height="2.8" fill="#d4103c"/>
<rect x="486.00" y="392.90" width="2.8" height="2.8" fill="#d4103c"/>
<rect x="490.20" y="392.90" width="2.8" height="2.8" fill="#d4103c"/>
<rect x="493.20" y="392.90" width="2.8" height="2.8" fill="#d4103c"/>
<rect x="486.00" y="395.10" width="2.8" height="2.8" fill="#d4103c"/>
<line x1="486.4" y1="380.1" x2="495.6" y2="380.1" stroke="#000" stroke-width="1"/>
<line x1="491.0" y1="373.8" x2="491.0" y2="386.40000000000003" stroke="#000" stroke-width="0.9"/>
<line x1="488.4" y1="373.8" x2="493.6" y2="373.8" stroke="#000" stroke-width="0.9"/>
<line x1="488.4" y1="386.40000000000003" x2="493.6" y2="386.40000000000003" stroke="#000" stroke-width="0.9"/>
<circle cx="502.60" cy="400.40" r="1.4" fill="#2cb449"/>
<circle cx="506.80" cy="400.40" r="1.4" fill="#2cb449"/>
<circle cx="508.60" cy="402.50" r="1.4" fill="#2cb449"/>
<circle cx="501.80" cy="404.50" r="1.4" fill="#2cb449"/>
<circle cx="505.20" cy="404.50" r="1.4" fill="#2cb449"/>
<circle cx="508.00" cy="406.00" r="1.4" fill="#2cb449"/>
<circle cx="501.80" cy="407.50" r="1.4" fill="#2cb449"/>
<circle cx="506.80" cy="407.50" r="1.4" fill="#2cb449"/>
<circle cx="505.20" cy="410.00" r="1.4" fill="#2cb449"/>
<circle cx="505.20" cy="412.50" r="1.4" fill="#2cb449"/>
<line x1="500.59999999999997" y1="405.4" x2="509.8" y2="405.4" stroke="#000" stroke-width="1"/>
<line x1="505.2" y1="404.2" x2="505.2" y2="406.59999999999997" stroke="#000" stroke-width="0.9"/>
<line x1="502.59999999999997" y1="404.2" x2="507.8" y2="404.2" stroke="#000" stroke-width="0.9"/>
<line x1="502.59999999999997" y1="406.59999999999997" x2="507.8" y2="406.59999999999997" stroke="#000" stroke-width="0.9"/>
</g>
<text x="7.0" y="15.6" font-size="12" font-weight="bold" fill="#000">A</text>
<text x="263.3" y="14.8" font-size="11.6" font-weight="bold" fill="#000">B</text>
<text x="6.4" y="175.6" font-size="12.6" font-weight="bold" fill="#000">C</text>
<text x="6.4" y="321" font-size="12.6" font-weight="bold" fill="#000">D</text>
<rect x="0.5" y="0.5" width="519" height="463" fill="none" stroke="#000" stroke-width="1.4"/>
</svg>
</body></html>
